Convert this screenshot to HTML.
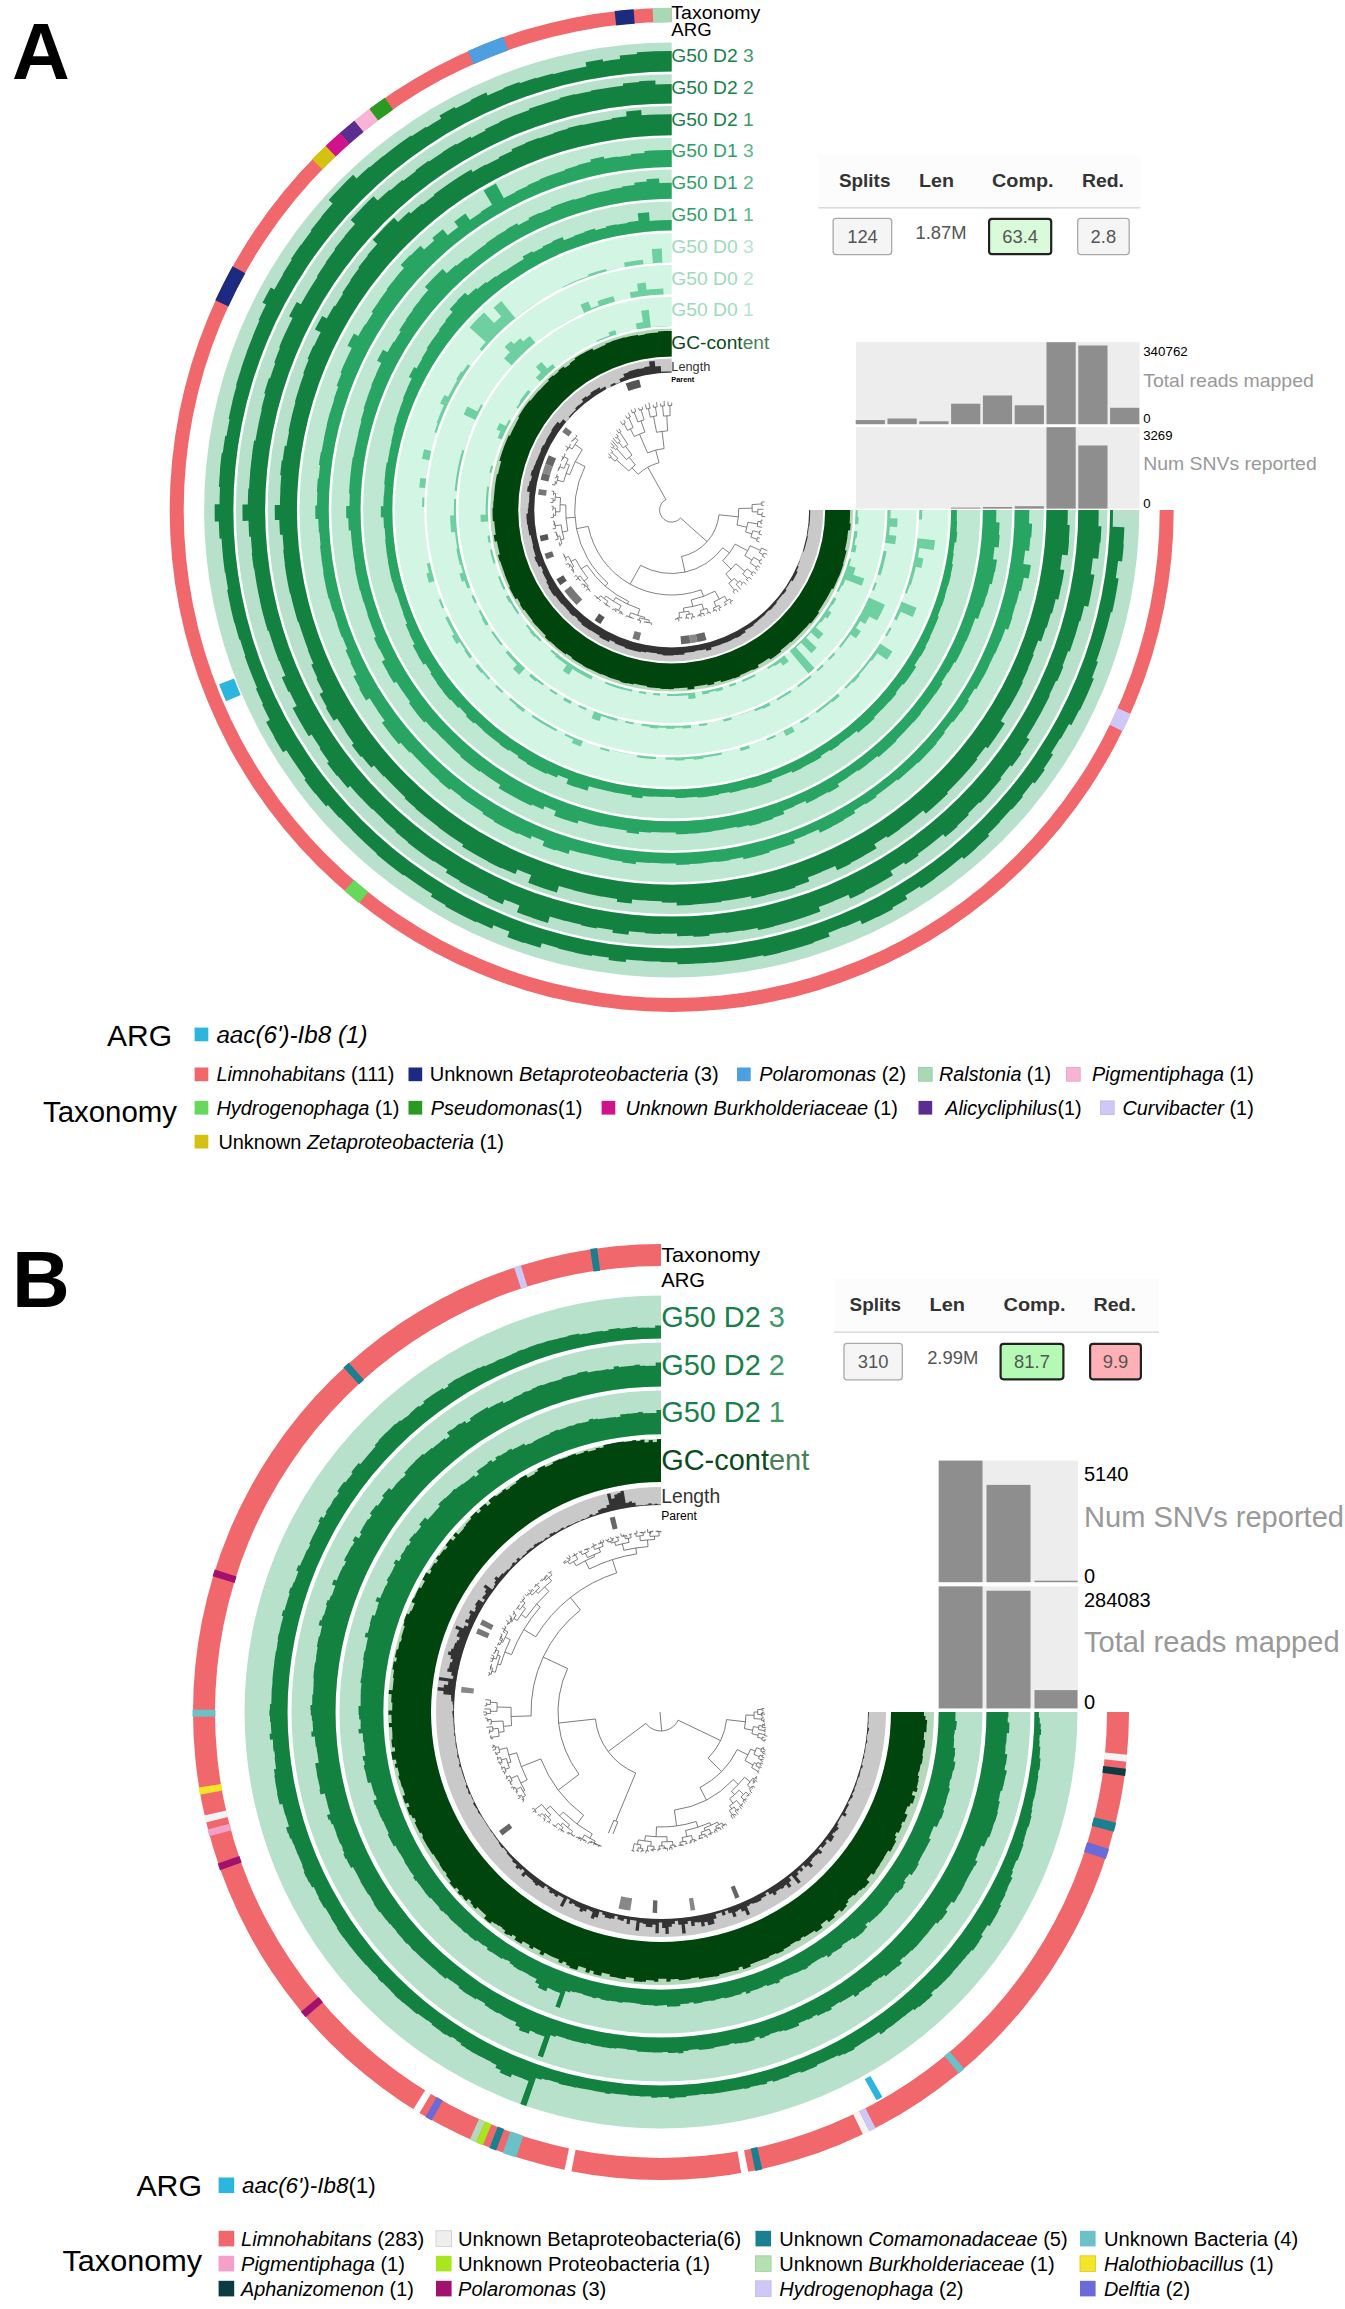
<!DOCTYPE html>
<html><head><meta charset="utf-8"><title>Figure</title>
<style>
html,body{margin:0;padding:0;background:#fff;}
svg{display:block;font-family:"Liberation Sans",sans-serif;}
</style></head><body>
<svg width="1345" height="2309" viewBox="0 0 1345 2309">
<rect width="1345" height="2309" fill="#fff"/>
<path d="M671.7,8.0A502.0,502.0 0 1 0 1173.7,510.0L1159.7,510.0A488.0,488.0 0 1 1 671.7,22.0Z" fill="#f0676c"/>
<path d="M671.7,7.7A502.3,502.3 0 0 0 652.6,8.1L653.2,22.7A487.7,487.7 0 0 1 671.7,22.3Z" fill="#a9d9b4"/>
<path d="M633.6,9.2A502.3,502.3 0 0 0 614.6,11.0L616.2,25.5A487.7,487.7 0 0 1 634.7,23.7Z" fill="#1c2a80"/>
<path d="M503.2,36.8A502.3,502.3 0 0 0 467.8,51.0L473.7,64.3A487.7,487.7 0 0 1 508.1,50.5Z" fill="#4d9fe0"/>
<path d="M384.8,97.7A502.3,502.3 0 0 0 369.3,108.9L378.1,120.6A487.7,487.7 0 0 1 393.1,109.7Z" fill="#2a9a23"/>
<path d="M369.3,108.9A502.3,502.3 0 0 0 354.3,120.7L363.5,132.0A487.7,487.7 0 0 1 378.1,120.6Z" fill="#f9b4d5"/>
<path d="M354.3,120.7A502.3,502.3 0 0 0 339.7,133.1L349.4,144.0A487.7,487.7 0 0 1 363.5,132.0Z" fill="#5c2d91"/>
<path d="M339.7,133.1A502.3,502.3 0 0 0 325.6,145.9L335.7,156.5A487.7,487.7 0 0 1 349.4,144.0Z" fill="#d1128d"/>
<path d="M325.6,145.9A502.3,502.3 0 0 0 312.0,159.3L322.5,169.5A487.7,487.7 0 0 1 335.7,156.5Z" fill="#d4c111"/>
<path d="M232.5,266.2A502.3,502.3 0 0 0 215.3,300.3L228.5,306.4A487.7,487.7 0 0 1 245.3,273.3Z" fill="#1c2a80"/>
<path d="M344.5,891.1A502.3,502.3 0 0 0 359.2,903.3L368.3,891.8A487.7,487.7 0 0 1 354.0,880.0Z" fill="#66d95c"/>
<path d="M1122.7,731.2A502.3,502.3 0 0 0 1130.7,713.9L1117.4,708.0A487.7,487.7 0 0 1 1109.6,724.8Z" fill="#cfc8f7"/>
<path d="M219.1,684.2A485.0,485.0 0 0 0 226.0,701.3L240.7,695.0A469.0,469.0 0 0 1 234.0,678.4Z" fill="#2cb5dd"/>
<path d="M671.7,42.4A467.6,467.6 0 1 0 1139.3,510.0L1110.1,510.0A438.4,438.4 0 1 1 671.7,71.6Z" fill="#b8e1cc"/>
<path d="M671.7,71.6L671.7,50.9A459.1,459.1 0 0 0 654.3,51.2L654.3,51.2A459.1,459.1 0 0 0 636.8,52.2L637.0,53.9A457.4,457.4 0 0 0 619.7,55.6L620.1,59.1A453.9,453.9 0 0 0 603.0,61.4L602.7,59.3A455.9,455.9 0 0 0 585.6,62.3L586.4,66.6A451.5,451.5 0 0 0 569.6,70.1L569.6,70.1A451.5,451.5 0 0 0 553.0,74.3L552.8,73.5A452.4,452.4 0 0 0 536.3,78.3L536.1,77.8A453.0,453.0 0 0 0 519.8,83.2L519.4,82.1A454.2,454.2 0 0 0 503.2,88.2L503.4,88.8A453.6,453.6 0 0 0 487.6,95.5L486.3,92.5A456.8,456.8 0 0 0 470.5,99.9L470.9,100.7A455.9,455.9 0 0 0 455.5,108.6L454.7,107.1A457.7,457.7 0 0 0 439.5,115.6L441.2,118.4A454.4,454.4 0 0 0 426.5,127.4L426.0,126.7A455.4,455.4 0 0 0 411.6,136.3L410.9,135.4A456.5,456.5 0 0 0 396.9,145.5L397.0,145.6A456.4,456.4 0 0 0 383.3,156.3L383.1,156.0A456.7,456.7 0 0 0 369.8,167.3L369.3,166.7A457.5,457.5 0 0 0 356.5,178.4L353.1,174.8A462.5,462.5 0 0 0 340.6,187.2L340.7,187.2A462.3,462.3 0 0 0 328.6,200.0L332.6,203.6A457.0,457.0 0 0 0 321.2,216.8L321.5,217.0A456.6,456.6 0 0 0 310.7,230.5L311.4,231.1A455.6,455.6 0 0 0 301.1,245.0L300.8,244.8A456.0,456.0 0 0 0 291.0,259.1L291.8,259.7A454.9,454.9 0 0 0 282.6,274.3L283.0,274.5A454.4,454.4 0 0 0 274.4,289.5L270.7,287.4A458.7,458.7 0 0 0 262.5,302.8L266.1,304.6A454.7,454.7 0 0 0 258.5,320.2L259.5,320.6A453.6,453.6 0 0 0 252.6,336.4L252.8,336.5A453.4,453.4 0 0 0 246.5,352.5L246.7,352.6A453.2,453.2 0 0 0 241.0,368.9L241.1,368.9A453.2,453.2 0 0 0 236.0,385.3L236.6,385.5A452.5,452.5 0 0 0 232.2,402.1L232.3,402.2A452.4,452.4 0 0 0 228.6,418.9L229.6,419.2A451.3,451.3 0 0 0 226.5,436.0L225.3,435.8A452.6,452.6 0 0 0 222.8,452.8L221.8,452.7A453.6,453.6 0 0 0 219.9,469.8L220.1,469.8A453.4,453.4 0 0 0 218.9,487.0L220.0,487.1A452.2,452.2 0 0 0 219.5,504.3L214.7,504.2A457.0,457.0 0 0 0 214.8,521.6L218.8,521.5A453.0,453.0 0 0 0 219.6,538.7L221.5,538.6A451.1,451.1 0 0 0 222.9,555.6L222.8,555.6A451.2,451.2 0 0 0 224.9,572.7L225.4,572.6A450.7,450.7 0 0 0 228.1,589.5L227.1,589.7A451.6,451.6 0 0 0 230.5,606.5L230.4,606.5A451.7,451.7 0 0 0 234.4,623.2L234.7,623.1A451.4,451.4 0 0 0 239.3,639.7L240.1,639.4A450.6,450.6 0 0 0 245.3,655.8L244.7,655.9A451.2,451.2 0 0 0 250.6,672.1L250.6,672.1A451.2,451.2 0 0 0 257.1,687.9L255.9,688.4A452.5,452.5 0 0 0 263.0,704.1L262.2,704.5A453.4,453.4 0 0 0 269.8,719.9L266.1,721.9A457.6,457.6 0 0 0 274.5,737.1L274.1,737.3A458.0,458.0 0 0 0 283.0,752.3L286.4,750.2A454.0,454.0 0 0 0 295.8,764.6L295.8,764.6A454.0,454.0 0 0 0 305.7,778.7L304.4,779.7A455.7,455.7 0 0 0 314.9,793.5L315.2,793.3A455.4,455.4 0 0 0 326.2,806.6L327.9,805.1A453.0,453.0 0 0 0 339.4,818.0L339.9,817.5A452.3,452.3 0 0 0 351.9,829.8L351.8,829.9A452.5,452.5 0 0 0 364.1,841.9L364.0,842.0A452.7,452.7 0 0 0 376.8,853.5L376.3,854.1A453.4,453.4 0 0 0 389.6,865.0L389.7,865.0A453.4,453.4 0 0 0 403.4,875.4L403.8,874.8A452.6,452.6 0 0 0 417.9,884.7L417.9,884.7A452.6,452.6 0 0 0 432.3,894.1L430.8,896.5A455.4,455.4 0 0 0 445.7,905.3L445.1,906.3A456.5,456.5 0 0 0 460.4,914.6L460.4,914.6A456.5,456.5 0 0 0 475.9,922.3L476.3,921.5A455.6,455.6 0 0 0 492.0,928.7L493.5,925.2A451.8,451.8 0 0 0 509.4,931.6L507.4,936.9A457.4,457.4 0 0 0 523.7,942.9L523.9,942.5A457.1,457.1 0 0 0 540.4,947.8L541.8,943.3A452.3,452.3 0 0 0 558.3,947.9L558.1,948.6A453.1,453.1 0 0 0 574.9,952.6L574.9,952.7A453.1,453.1 0 0 0 591.8,956.0L592.0,954.9A452.0,452.0 0 0 0 608.9,957.6L608.6,960.0A454.4,454.4 0 0 0 625.7,962.1L626.0,959.4A451.7,451.7 0 0 0 643.1,960.8L643.1,960.9A451.8,451.8 0 0 0 660.3,961.6L660.2,962.1A452.2,452.2 0 0 0 677.4,962.2L677.5,964.2A454.3,454.3 0 0 0 694.7,963.7L694.7,963.6A454.2,454.2 0 0 0 711.9,962.4L712.0,962.8A454.6,454.6 0 0 0 729.1,961.0L729.1,961.0A454.6,454.6 0 0 0 746.2,958.4L746.2,958.5A454.6,454.6 0 0 0 763.2,955.3L763.5,956.5A455.8,455.8 0 0 0 780.4,952.7L780.3,952.6A455.7,455.7 0 0 0 797.1,948.1L797.0,948.0A455.6,455.6 0 0 0 813.6,943.0L813.4,942.3A454.9,454.9 0 0 0 829.7,936.6L828.3,932.9A451.0,451.0 0 0 0 844.3,926.6L844.4,927.0A451.4,451.4 0 0 0 860.2,920.2L862.0,924.2A455.8,455.8 0 0 0 877.6,916.7L877.8,917.0A456.2,456.2 0 0 0 893.1,908.9L892.4,907.5A454.7,454.7 0 0 0 907.3,898.9L905.3,895.5A450.8,450.8 0 0 0 919.7,886.4L921.0,888.3A453.0,453.0 0 0 0 935.2,878.5L935.0,878.2A452.7,452.7 0 0 0 948.8,868.0L948.7,867.9A452.6,452.6 0 0 0 962.1,857.1L963.8,859.1A455.1,455.1 0 0 0 976.8,847.7L976.7,847.6A455.0,455.0 0 0 0 989.3,835.8L987.9,834.3A452.9,452.9 0 0 0 1000.0,822.0L999.7,821.8A452.6,452.6 0 0 0 1011.3,809.1L1011.8,809.6A453.2,453.2 0 0 0 1023.0,796.4L1022.2,795.8A452.3,452.3 0 0 0 1032.8,782.3L1034.6,783.6A454.5,454.5 0 0 0 1044.8,769.7L1043.6,768.8A453.1,453.1 0 0 0 1053.1,754.5L1051.0,753.2A450.6,450.6 0 0 0 1060.0,738.6L1060.6,738.9A451.2,451.2 0 0 0 1069.0,724.0L1071.3,725.2A453.9,453.9 0 0 0 1079.2,709.9L1079.9,710.2A454.6,454.6 0 0 0 1087.2,694.6L1087.2,694.6A454.6,454.6 0 0 0 1093.9,678.6L1091.9,677.9A452.5,452.5 0 0 0 1098.0,661.8L1096.3,661.2A450.7,450.7 0 0 0 1101.8,644.9L1101.8,645.0A450.8,450.8 0 0 0 1106.6,628.5L1106.7,628.5A450.9,450.9 0 0 0 1110.9,611.9L1112.2,612.2A452.2,452.2 0 0 0 1115.7,595.4L1115.7,595.4A452.1,452.1 0 0 0 1118.6,578.5L1115.8,578.0A449.3,449.3 0 0 0 1118.1,561.1L1122.1,561.6A453.4,453.4 0 0 0 1123.8,544.4L1123.4,544.4A453.0,453.0 0 0 0 1124.4,527.2L1112.7,526.8A441.3,441.3 0 0 0 1113.0,510.0L1110.1,510.0A438.4,438.4 0 1 1 671.7,71.6Z" fill="#138241"/>
<path d="M671.7,74.2A435.8,435.8 0 1 0 1107.5,510.0L1078.3,510.0A406.6,406.6 0 1 1 671.7,103.4Z" fill="#b8e1cc"/>
<path d="M671.7,103.4L671.7,84.1A425.9,425.9 0 0 0 655.5,84.4L655.4,80.4A430.0,430.0 0 0 0 639.1,81.3L639.1,81.9A429.4,429.4 0 0 0 622.9,83.4L623.1,85.7A427.0,427.0 0 0 0 607.0,87.9L607.0,87.9A427.0,427.0 0 0 0 591.0,90.6L591.2,91.2A426.5,426.5 0 0 0 575.3,94.6L575.2,94.0A427.0,427.0 0 0 0 559.4,98.0L559.7,99.1A425.9,425.9 0 0 0 544.2,103.7L544.2,103.7A425.9,425.9 0 0 0 528.9,108.8L529.3,109.9A424.7,424.7 0 0 0 514.2,115.6L514.2,115.6A424.7,424.7 0 0 0 499.3,121.9L499.5,122.4A424.1,424.1 0 0 0 484.9,129.2L485.6,130.5A422.7,422.7 0 0 0 471.3,137.9L470.6,136.6A424.1,424.1 0 0 0 456.5,144.5L456.1,143.8A425.0,425.0 0 0 0 442.3,152.2L442.5,152.4A424.7,424.7 0 0 0 429.1,161.4L428.6,160.7A425.6,425.6 0 0 0 415.5,170.2L416.0,170.9A424.7,424.7 0 0 0 403.3,180.8L402.5,179.9A425.9,425.9 0 0 0 390.2,190.4L389.6,189.7A426.8,426.8 0 0 0 377.6,200.6L373.5,196.3A432.8,432.8 0 0 0 361.8,207.9L361.9,208.0A432.6,432.6 0 0 0 350.7,220.0L355.1,223.9A426.7,426.7 0 0 0 344.4,236.2L344.7,236.4A426.4,426.4 0 0 0 334.5,249.0L335.2,249.5A425.5,425.5 0 0 0 325.6,262.5L326.0,262.8A425.0,425.0 0 0 0 316.9,276.2L317.6,276.7A424.0,424.0 0 0 0 309.0,290.3L309.0,290.3A424.1,424.1 0 0 0 300.9,304.2L296.8,301.9A428.8,428.8 0 0 0 289.1,316.3L292.6,318.1A424.9,424.9 0 0 0 285.6,332.6L285.5,332.6A425.0,425.0 0 0 0 279.1,347.4L280.0,347.8A423.9,423.9 0 0 0 274.2,362.8L275.3,363.2A422.7,422.7 0 0 0 270.0,378.4L269.0,378.0A423.8,423.8 0 0 0 264.2,393.4L265.4,393.8A422.6,422.6 0 0 0 261.3,409.3L261.8,409.4A422.0,422.0 0 0 0 258.3,425.0L258.4,425.1A422.0,422.0 0 0 0 255.4,440.8L254.1,440.6A423.3,423.3 0 0 0 251.8,456.5L251.9,456.5A423.2,423.2 0 0 0 250.1,472.5L250.2,472.5A423.2,423.2 0 0 0 249.1,488.6L248.3,488.5A424.0,424.0 0 0 0 247.8,504.6L242.5,504.6A429.2,429.2 0 0 0 242.6,520.9L248.5,520.7A423.3,423.3 0 0 0 249.2,536.8L250.9,536.7A421.7,421.7 0 0 0 252.2,552.7L251.7,552.7A422.1,422.1 0 0 0 253.7,568.6L254.2,568.6A421.6,421.6 0 0 0 256.7,584.4L256.7,584.4A421.6,421.6 0 0 0 259.8,600.1L259.7,600.1A421.8,421.8 0 0 0 263.4,615.7L263.5,615.7A421.7,421.7 0 0 0 267.8,631.1L268.7,630.8A420.7,420.7 0 0 0 273.6,646.1L273.5,646.1A420.8,420.8 0 0 0 278.9,661.1L279.4,661.0A420.4,420.4 0 0 0 285.4,675.8L281.8,677.3A424.3,424.3 0 0 0 288.4,692.0L289.5,691.5A423.1,423.1 0 0 0 296.7,705.9L292.6,708.1A427.8,427.8 0 0 0 300.3,722.3L300.4,722.3A427.7,427.7 0 0 0 308.7,736.3L311.6,734.5A424.4,424.4 0 0 0 320.4,748.0L319.6,748.5A425.2,425.2 0 0 0 328.9,761.7L327.0,763.1A427.6,427.6 0 0 0 336.9,776.0L337.4,775.6A427.0,427.0 0 0 0 347.7,788.1L350.1,786.1A423.9,423.9 0 0 0 360.8,798.1L361.1,797.9A423.5,423.5 0 0 0 372.2,809.5L372.6,809.1A423.0,423.0 0 0 0 384.2,820.2L384.0,820.4A423.2,423.2 0 0 0 396.0,831.1L395.5,831.7A424.0,424.0 0 0 0 408.0,842.0L407.6,842.4A424.6,424.6 0 0 0 420.4,852.2L420.4,852.3A424.7,424.7 0 0 0 433.5,861.6L433.9,861.0A423.9,423.9 0 0 0 447.5,869.8L445.8,872.5A427.1,427.1 0 0 0 459.7,880.8L459.3,881.4A427.9,427.9 0 0 0 473.6,889.2L473.6,889.3A428.0,428.0 0 0 0 488.1,896.6L487.7,897.5A429.0,429.0 0 0 0 502.5,904.2L504.6,899.4A423.7,423.7 0 0 0 519.5,905.5L516.9,912.2A430.9,430.9 0 0 0 532.3,917.8L532.3,917.9A431.1,431.1 0 0 0 547.9,922.9L549.8,916.5A424.4,424.4 0 0 0 565.3,920.9L565.3,920.8A424.4,424.4 0 0 0 581.0,924.6L580.9,925.2A425.0,425.0 0 0 0 596.7,928.4L596.9,927.5A424.2,424.2 0 0 0 612.8,930.1L612.4,932.8A427.0,427.0 0 0 0 628.5,934.8L628.9,931.2A423.4,423.4 0 0 0 644.9,932.5L644.9,933.2A424.0,424.0 0 0 0 661.0,933.9L661.0,933.5A423.7,423.7 0 0 0 677.1,933.6L677.1,936.3A426.4,426.4 0 0 0 693.3,935.8L693.3,936.8A427.3,427.3 0 0 0 709.5,935.7L709.4,934.0A425.7,425.7 0 0 0 725.5,932.3L725.6,932.9A426.3,426.3 0 0 0 741.6,930.6L741.7,931.1A426.9,426.9 0 0 0 757.6,928.1L758.0,930.0A428.7,428.7 0 0 0 773.9,926.4L773.9,926.2A428.6,428.6 0 0 0 789.6,922.1L789.6,921.9A428.4,428.4 0 0 0 805.1,917.1L805.1,917.0A428.3,428.3 0 0 0 820.4,911.6L818.8,907.1A423.4,423.4 0 0 0 833.7,901.2L833.7,901.1A423.3,423.3 0 0 0 848.4,894.7L850.3,898.8A427.9,427.9 0 0 0 865.0,891.7L864.7,891.1A427.1,427.1 0 0 0 879.0,883.5L879.0,883.4A427.1,427.1 0 0 0 893.0,875.3L890.4,871.0A422.1,422.1 0 0 0 904.0,862.5L905.3,864.5A424.6,424.6 0 0 0 918.6,855.4L917.7,854.1A423.0,423.0 0 0 0 930.6,844.5L930.6,844.4A422.9,422.9 0 0 0 943.1,834.3L945.3,837.0A426.4,426.4 0 0 0 957.6,826.4L957.1,825.9A425.7,425.7 0 0 0 968.9,814.8L967.9,813.8A424.3,424.3 0 0 0 979.2,802.3L980.1,803.1A425.5,425.5 0 0 0 991.0,791.2L990.9,791.1A425.4,425.4 0 0 0 1001.4,778.8L1000.3,777.9A424.0,424.0 0 0 0 1010.2,765.3L1011.9,766.5A426.0,426.0 0 0 0 1021.4,753.4L1020.5,752.8A425.0,425.0 0 0 0 1029.5,739.3L1026.5,737.4A421.4,421.4 0 0 0 1034.9,723.8L1034.8,723.8A421.4,421.4 0 0 0 1042.7,709.8L1042.6,709.7A421.2,421.2 0 0 0 1049.9,695.5L1049.2,695.2A420.5,420.5 0 0 0 1056.0,680.7L1057.2,681.2A421.8,421.8 0 0 0 1063.4,666.5L1062.5,666.1A420.8,420.8 0 0 0 1068.1,651.1L1069.7,651.7A422.5,422.5 0 0 0 1074.8,636.5L1074.9,636.5A422.6,422.6 0 0 0 1079.4,621.1L1080.3,621.3A423.5,423.5 0 0 0 1084.3,605.7L1088.3,606.7A427.6,427.6 0 0 0 1091.6,590.8L1091.6,590.8A427.6,427.6 0 0 0 1094.4,574.8L1090.7,574.2A423.9,423.9 0 0 0 1092.9,558.2L1098.2,558.8A429.3,429.3 0 0 0 1099.8,542.6L1100.5,542.7A430.0,430.0 0 0 0 1101.4,526.3L1098.4,526.2A427.0,427.0 0 0 0 1098.7,510.0L1078.3,510.0A406.6,406.6 0 1 1 671.7,103.4Z" fill="#138241"/>
<path d="M671.7,106.0A404.0,404.0 0 1 0 1075.7,510.0L1046.5,510.0A374.8,374.8 0 1 1 671.7,135.2Z" fill="#b8e1cc"/>
<path d="M671.7,135.2L671.7,114.2A395.8,395.8 0 0 0 656.7,114.5L656.7,114.5A395.8,395.8 0 0 0 641.6,115.3L641.2,110.1A401.1,401.1 0 0 0 626.1,111.5L626.6,116.2A396.4,396.4 0 0 0 611.7,118.2L611.8,119.3A395.2,395.2 0 0 0 597.0,121.9L597.0,121.9A395.2,395.2 0 0 0 582.4,125.0L582.2,124.4A395.8,395.8 0 0 0 567.6,128.1L567.8,128.7A395.2,395.2 0 0 0 553.4,132.9L553.6,133.4A394.7,394.7 0 0 0 539.3,138.2L539.1,137.7A395.2,395.2 0 0 0 525.1,143.0L525.3,143.5A394.7,394.7 0 0 0 511.5,149.3L512.2,150.9A392.9,392.9 0 0 0 498.7,157.2L499.2,158.3A391.7,391.7 0 0 0 485.9,165.1L485.7,164.6A392.3,392.3 0 0 0 472.7,171.9L471.2,169.4A395.3,395.3 0 0 0 458.4,177.2L458.5,177.3A395.1,395.1 0 0 0 446.0,185.7L446.0,185.8A395.0,395.0 0 0 0 433.9,194.6L434.4,195.3A394.1,394.1 0 0 0 422.6,204.6L422.0,203.8A395.1,395.1 0 0 0 410.6,213.5L409.1,211.8A397.3,397.3 0 0 0 398.0,222.0L394.0,217.8A403.1,403.1 0 0 0 383.1,228.6L383.1,228.7A403.0,403.0 0 0 0 372.7,239.8L377.2,243.9A397.0,397.0 0 0 0 367.3,255.3L367.8,255.7A396.3,396.3 0 0 0 358.3,267.4L359.2,268.1A395.2,395.2 0 0 0 350.2,280.2L350.7,280.5A394.6,394.6 0 0 0 342.2,292.9L343.2,293.5A393.4,393.4 0 0 0 335.2,306.2L334.3,305.6A394.4,394.4 0 0 0 326.8,318.6L322.2,316.0A399.8,399.8 0 0 0 315.0,329.4L320.7,332.3A393.5,393.5 0 0 0 314.2,345.7L313.5,345.4A394.2,394.2 0 0 0 307.5,359.1L308.7,359.6A392.9,392.9 0 0 0 303.2,373.5L304.0,373.8A392.1,392.1 0 0 0 299.1,387.9L299.2,387.9A392.0,392.0 0 0 0 294.8,402.2L295.5,402.3A391.3,391.3 0 0 0 291.6,416.7L291.7,416.7A391.2,391.2 0 0 0 288.5,431.2L289.1,431.4A390.6,390.6 0 0 0 286.4,446.0L284.8,445.7A392.2,392.2 0 0 0 282.7,460.5L281.8,460.3A393.1,393.1 0 0 0 280.2,475.2L281.3,475.3A391.9,391.9 0 0 0 280.3,490.1L280.4,490.2A391.8,391.8 0 0 0 279.9,505.0L274.8,505.0A396.9,396.9 0 0 0 274.9,520.1L279.3,519.9A392.5,392.5 0 0 0 280.0,534.8L282.6,534.7A389.9,389.9 0 0 0 283.8,549.4L283.2,549.5A390.5,390.5 0 0 0 284.9,564.2L284.7,564.3A390.8,390.8 0 0 0 287.0,578.9L287.0,578.9A390.8,390.8 0 0 0 289.9,593.5L290.4,593.4A390.3,390.3 0 0 0 293.9,607.8L293.9,607.8A390.3,390.3 0 0 0 297.9,622.1L298.6,621.9A389.5,389.5 0 0 0 303.2,636.0L303.2,636.0A389.5,389.5 0 0 0 308.2,649.9L307.8,650.0A389.9,389.9 0 0 0 313.4,663.8L311.3,664.7A392.2,392.2 0 0 0 317.4,678.2L316.5,678.7A393.2,393.2 0 0 0 323.2,692.0L319.6,693.9A397.2,397.2 0 0 0 326.9,707.2L325.9,707.7A398.3,398.3 0 0 0 333.7,720.7L337.2,718.5A394.2,394.2 0 0 0 345.4,731.1L345.1,731.3A394.5,394.5 0 0 0 353.7,743.5L351.7,745.0A397.0,397.0 0 0 0 360.8,757.0L361.8,756.2A395.8,395.8 0 0 0 371.4,767.8L373.9,765.6A392.5,392.5 0 0 0 383.8,776.8L384.4,776.3A391.7,391.7 0 0 0 394.7,787.0L394.7,787.0A391.8,391.8 0 0 0 405.4,797.4L404.6,798.2A393.0,393.0 0 0 0 415.7,808.2L415.4,808.6A393.5,393.5 0 0 0 426.9,818.1L426.9,818.1A393.5,393.5 0 0 0 438.8,827.2L438.5,827.6A394.0,394.0 0 0 0 450.7,836.2L450.7,836.2A394.0,394.0 0 0 0 463.3,844.4L462.0,846.4A396.4,396.4 0 0 0 474.9,854.2L474.9,854.2A396.5,396.5 0 0 0 488.1,861.4L488.0,861.7A396.8,396.8 0 0 0 501.5,868.5L501.7,867.9A396.2,396.2 0 0 0 515.4,874.1L517.4,869.5A391.2,391.2 0 0 0 531.2,875.1L528.2,882.8A399.4,399.4 0 0 0 542.5,888.0L542.5,888.0A399.5,399.5 0 0 0 556.9,892.6L558.9,886.1A392.6,392.6 0 0 0 573.3,890.1L573.2,890.3A392.8,392.8 0 0 0 587.8,893.7L587.8,893.8A392.8,392.8 0 0 0 602.4,896.7L602.4,896.6A392.7,392.7 0 0 0 617.2,898.9L616.8,901.8A395.6,395.6 0 0 0 631.7,903.6L632.1,899.4A391.4,391.4 0 0 0 646.9,900.6L646.9,900.7A391.5,391.5 0 0 0 661.8,901.3L661.8,902.5A392.6,392.6 0 0 0 676.7,902.6L676.7,905.6A395.6,395.6 0 0 0 691.7,905.1L691.7,904.7A395.2,395.2 0 0 0 706.7,903.6L706.7,903.5A395.1,395.1 0 0 0 721.6,901.9L721.5,901.1A394.3,394.3 0 0 0 736.3,898.9L736.4,899.1A394.4,394.4 0 0 0 751.1,896.3L751.5,898.5A396.6,396.6 0 0 0 766.2,895.2L766.2,895.1A396.5,396.5 0 0 0 780.8,891.2L780.9,891.8A397.1,397.1 0 0 0 795.4,887.4L795.1,886.5A396.2,396.2 0 0 0 809.3,881.5L807.8,877.4A391.7,391.7 0 0 0 821.6,871.9L821.6,871.8A391.7,391.7 0 0 0 835.2,865.9L837.2,870.2A396.4,396.4 0 0 0 850.8,863.7L850.4,863.0A395.7,395.7 0 0 0 863.7,855.9L863.7,855.8A395.6,395.6 0 0 0 876.7,848.3L874.2,844.2A390.8,390.8 0 0 0 886.7,836.3L887.7,837.7A392.5,392.5 0 0 0 900.0,829.3L899.7,828.9A392.0,392.0 0 0 0 911.7,820.0L911.6,819.9A391.9,391.9 0 0 0 923.2,810.6L925.8,813.7A395.9,395.9 0 0 0 937.1,803.8L937.1,803.7A395.9,395.9 0 0 0 948.0,793.4L947.1,792.5A394.5,394.5 0 0 0 957.6,781.8L957.6,781.8A394.4,394.4 0 0 0 967.7,770.7L967.7,770.7A394.4,394.4 0 0 0 977.4,759.3L976.4,758.5A393.2,393.2 0 0 0 985.6,746.7L987.7,748.2A395.7,395.7 0 0 0 996.5,736.1L996.4,736.0A395.7,395.7 0 0 0 1004.8,723.5L1000.8,720.9A390.9,390.9 0 0 0 1008.5,708.3L1008.8,708.4A391.1,391.1 0 0 0 1016.0,695.5L1016.1,695.5A391.2,391.2 0 0 0 1022.9,682.3L1022.1,681.9A390.2,390.2 0 0 0 1028.3,668.4L1028.0,668.3A389.9,389.9 0 0 0 1033.8,654.6L1032.9,654.3A389.0,389.0 0 0 0 1038.2,640.5L1041.1,641.5A392.1,392.1 0 0 0 1045.8,627.4L1046.7,627.7A393.1,393.1 0 0 0 1050.9,613.3L1052.0,613.6A394.2,394.2 0 0 0 1055.7,599.1L1058.3,599.7A396.9,396.9 0 0 0 1061.4,585.0L1061.7,585.0A397.1,397.1 0 0 0 1064.3,570.1L1060.1,569.5A392.9,392.9 0 0 0 1062.1,554.7L1067.7,555.3A398.6,398.6 0 0 0 1069.1,540.3L1068.8,540.2A398.3,398.3 0 0 0 1069.7,525.1L1067.5,525.1A396.1,396.1 0 0 0 1067.8,510.0L1046.5,510.0A374.8,374.8 0 1 1 671.7,135.2Z" fill="#138241"/>
<path d="M671.7,137.8A372.2,372.2 0 1 0 1043.9,510.0L1014.7,510.0A343.0,343.0 0 1 1 671.7,167.0Z" fill="#bfe8d3"/>
<path d="M671.7,167.0L671.7,150.1A359.9,359.9 0 0 0 658.0,150.3L658.0,150.3A359.9,359.9 0 0 0 644.4,151.1L644.5,152.9A358.2,358.2 0 0 0 631.0,154.1L631.1,155.3A357.0,357.0 0 0 0 617.6,157.1L617.5,156.5A357.6,357.6 0 0 0 604.2,158.8L603.7,156.5A359.9,359.9 0 0 0 590.3,159.4L590.9,161.7A357.6,357.6 0 0 0 577.7,165.0L577.8,165.5A357.0,357.0 0 0 0 564.8,169.4L565.1,170.2A356.1,356.1 0 0 0 552.3,174.5L552.3,174.5A356.1,356.1 0 0 0 539.6,179.3L539.9,180.1A355.3,355.3 0 0 0 527.5,185.3L527.7,185.9A354.7,354.7 0 0 0 515.5,191.6L515.8,192.1A354.1,354.1 0 0 0 503.8,198.2L495.9,183.6A370.7,370.7 0 0 0 483.6,190.5L492.1,204.8A354.1,354.1 0 0 0 480.6,211.9L481.1,212.6A353.2,353.2 0 0 0 469.9,220.1L465.4,213.6A361.1,361.1 0 0 0 454.3,221.7L458.3,227.0A354.5,354.5 0 0 0 447.7,235.3L442.8,229.2A362.3,362.3 0 0 0 432.3,238.1L434.2,240.4A359.3,359.3 0 0 0 424.1,249.6L420.5,245.7A364.7,364.7 0 0 0 410.6,255.4L410.2,255.0A365.2,365.2 0 0 0 400.7,265.1L404.0,268.1A360.8,360.8 0 0 0 395.0,278.5L395.2,278.6A360.6,360.6 0 0 0 386.6,289.3L387.2,289.8A359.8,359.8 0 0 0 379.1,300.8L379.2,300.9A359.6,359.6 0 0 0 371.5,312.1L373.0,313.1A357.7,357.7 0 0 0 365.7,324.6L365.1,324.2A358.5,358.5 0 0 0 358.2,336.0L353.9,333.6A363.4,363.4 0 0 0 347.5,345.8L351.8,348.0A358.5,358.5 0 0 0 345.9,360.3L345.9,360.3A358.5,358.5 0 0 0 340.5,372.8L341.6,373.3A357.3,357.3 0 0 0 336.6,385.9L338.3,386.5A355.6,355.6 0 0 0 333.8,399.3L334.2,399.4A355.2,355.2 0 0 0 330.2,412.3L330.0,412.2A355.4,355.4 0 0 0 326.6,425.3L326.8,425.4A355.1,355.1 0 0 0 323.9,438.5L324.1,438.6A354.9,354.9 0 0 0 321.6,451.8L320.9,451.7A355.6,355.6 0 0 0 318.9,465.1L320.1,465.2A354.4,354.4 0 0 0 318.7,478.6L317.8,478.5A355.3,355.3 0 0 0 316.9,492.0L317.4,492.0A354.7,354.7 0 0 0 317.0,505.5L315.3,505.5A356.5,356.5 0 0 0 315.4,519.0L318.3,519.0A353.5,353.5 0 0 0 318.9,532.4L319.5,532.3A352.9,352.9 0 0 0 320.6,545.7L320.0,545.8A353.5,353.5 0 0 0 321.6,559.1L321.5,559.1A353.7,353.7 0 0 0 323.6,572.4L323.1,572.5A354.2,354.2 0 0 0 325.7,585.7L325.6,585.7A354.3,354.3 0 0 0 328.7,598.8L329.2,598.7A353.8,353.8 0 0 0 332.8,611.6L333.4,611.5A353.2,353.2 0 0 0 337.5,624.2L337.2,624.3A353.5,353.5 0 0 0 341.7,637.0L342.3,636.8A352.9,352.9 0 0 0 347.4,649.2L345.5,650.0A354.9,354.9 0 0 0 351.1,662.3L350.4,662.6A355.7,355.7 0 0 0 356.4,674.7L353.4,676.3A359.1,359.1 0 0 0 359.9,688.3L359.1,688.7A360.1,360.1 0 0 0 366.1,700.5L369.6,698.3A355.9,355.9 0 0 0 377.0,709.6L376.9,709.7A356.1,356.1 0 0 0 384.7,720.7L381.9,722.8A359.5,359.5 0 0 0 390.2,733.7L390.1,733.7A359.7,359.7 0 0 0 398.8,744.3L400.7,742.7A357.2,357.2 0 0 0 409.7,752.8L410.6,751.9A355.9,355.9 0 0 0 420.0,761.7L419.9,761.8A356.1,356.1 0 0 0 429.7,771.2L429.3,771.5A356.6,356.6 0 0 0 439.4,780.5L439.0,781.0A357.2,357.2 0 0 0 449.5,789.7L450.4,788.6A355.8,355.8 0 0 0 461.1,796.8L460.8,797.3A356.4,356.4 0 0 0 471.8,805.1L471.9,805.0A356.3,356.3 0 0 0 483.2,812.4L482.4,813.7A357.9,357.9 0 0 0 494.1,820.7L493.6,821.5A358.8,358.8 0 0 0 505.6,828.0L505.6,828.0A358.7,358.7 0 0 0 517.8,834.0L518.2,833.3A357.9,357.9 0 0 0 530.6,838.9L531.7,836.1A354.9,354.9 0 0 0 544.2,841.2L542.5,845.8A359.8,359.8 0 0 0 555.3,850.5L555.6,849.8A359.1,359.1 0 0 0 568.6,853.9L569.8,849.9A354.8,354.8 0 0 0 582.8,853.5L582.8,853.2A354.5,354.5 0 0 0 595.9,856.3L596.0,856.2A354.4,354.4 0 0 0 609.2,858.9L609.1,859.5A355.1,355.1 0 0 0 622.4,861.6L622.2,862.6A356.0,356.0 0 0 0 635.7,864.2L635.9,861.9A353.7,353.7 0 0 0 649.3,863.0L649.3,862.8A353.5,353.5 0 0 0 662.7,863.4L662.7,863.4A353.5,353.5 0 0 0 676.2,863.5L676.2,865.0A355.0,355.0 0 0 0 689.7,864.6L689.7,864.1A354.6,354.6 0 0 0 703.1,863.2L703.1,863.0A354.4,354.4 0 0 0 716.5,861.6L716.5,862.1A355.0,355.0 0 0 0 729.9,860.2L729.8,859.8A354.6,354.6 0 0 0 743.1,857.3L743.5,859.3A356.6,356.6 0 0 0 756.7,856.3L756.6,856.0A356.3,356.3 0 0 0 769.7,852.6L769.3,851.2A354.9,354.9 0 0 0 782.2,847.2L782.3,847.3A355.0,355.0 0 0 0 795.0,842.9L793.8,839.8A351.7,351.7 0 0 0 806.3,834.9L806.2,834.7A351.5,351.5 0 0 0 818.4,829.4L820.0,832.7A355.1,355.1 0 0 0 832.1,826.8L832.0,826.6A354.8,354.8 0 0 0 843.9,820.2L843.6,819.8A354.3,354.3 0 0 0 855.3,813.0L853.9,810.8A351.7,351.7 0 0 0 865.2,803.6L865.6,804.3A352.4,352.4 0 0 0 876.7,796.7L876.0,795.8A351.3,351.3 0 0 0 886.7,787.8L886.7,787.8A351.3,351.3 0 0 0 897.1,779.4L897.9,780.4A352.5,352.5 0 0 0 908.0,771.6L908.0,771.6A352.5,352.5 0 0 0 917.8,762.4L918.3,762.9A353.2,353.2 0 0 0 927.7,753.3L927.7,753.3A353.2,353.2 0 0 0 936.7,743.4L936.3,743.0A352.5,352.5 0 0 0 944.9,732.8L944.1,732.1A351.4,351.4 0 0 0 952.3,721.6L953.1,722.2A352.5,352.5 0 0 0 961.0,711.4L961.5,711.7A353.0,353.0 0 0 0 968.9,700.5L967.8,699.8A351.7,351.7 0 0 0 974.8,688.4L976.3,689.3A353.5,353.5 0 0 0 982.9,677.6L983.0,677.7A353.6,353.6 0 0 0 989.1,665.7L988.9,665.6A353.3,353.3 0 0 0 994.6,653.4L995.1,653.7A353.9,353.9 0 0 0 1000.4,641.3L1000.7,641.4A354.3,354.3 0 0 0 1005.4,628.8L1008.1,629.8A357.0,357.0 0 0 0 1012.4,616.9L1012.0,616.8A356.6,356.6 0 0 0 1015.8,603.8L1016.1,603.9A357.0,357.0 0 0 0 1019.5,590.7L1021.0,591.1A358.6,358.6 0 0 0 1023.8,577.7L1028.6,578.6A363.4,363.4 0 0 0 1030.9,565.0L1023.3,563.9A355.7,355.7 0 0 0 1025.1,550.5L1029.1,550.9A359.7,359.7 0 0 0 1030.4,537.3L1031.3,537.4A360.6,360.6 0 0 0 1032.1,523.7L1029.0,523.6A357.6,357.6 0 0 0 1029.3,510.0L1014.7,510.0A343.0,343.0 0 1 1 671.7,167.0Z" fill="#28a562"/>
<path d="M671.7,169.6A340.4,340.4 0 1 0 1012.1,510.0L982.9,510.0A311.2,311.2 0 1 1 671.7,198.8Z" fill="#bfe8d3"/>
<path d="M671.7,198.8L671.7,182.7A327.3,327.3 0 0 0 659.3,183.0L659.1,178.6A331.6,331.6 0 0 0 646.5,179.3L646.7,181.6A329.3,329.3 0 0 0 634.2,182.8L634.5,184.9A327.3,327.3 0 0 0 622.1,186.5L622.3,187.4A326.4,326.4 0 0 0 610.1,189.5L610.2,190.1A325.8,325.8 0 0 0 598.1,192.6L598.1,192.6A325.8,325.8 0 0 0 586.0,195.7L586.2,196.2A325.2,325.2 0 0 0 574.3,199.7L574.2,199.1A325.8,325.8 0 0 0 562.4,203.1L562.4,203.1A325.8,325.8 0 0 0 550.8,207.4L551.3,208.5A324.6,324.6 0 0 0 539.9,213.3L539.7,212.8A325.2,325.2 0 0 0 528.5,218.0L529.2,219.6A323.5,323.5 0 0 0 518.3,225.2L517.2,223.2A325.8,325.8 0 0 0 506.4,229.2L506.7,229.7A325.3,325.3 0 0 0 496.1,236.1L496.3,236.3A325.1,325.1 0 0 0 486.0,243.2L486.4,243.7A324.4,324.4 0 0 0 476.4,251.0L476.5,251.1A324.2,324.2 0 0 0 466.8,258.7L466.1,257.8A325.4,325.4 0 0 0 456.6,265.8L455.9,265.0A326.5,326.5 0 0 0 446.7,273.3L442.6,269.0A332.6,332.6 0 0 0 433.6,277.8L433.6,277.8A332.6,332.6 0 0 0 424.9,287.1L428.3,290.1A328.0,328.0 0 0 0 420.1,299.5L420.4,299.7A327.7,327.7 0 0 0 412.5,309.4L413.1,309.8A327.0,327.0 0 0 0 405.7,319.8L406.2,320.1A326.4,326.4 0 0 0 399.1,330.4L400.8,331.5A324.4,324.4 0 0 0 394.3,341.9L393.7,341.6A325.1,325.1 0 0 0 387.5,352.2L383.0,349.8A330.2,330.2 0 0 0 377.1,360.8L381.3,363.0A325.5,325.5 0 0 0 376.0,374.1L376.2,374.2A325.2,325.2 0 0 0 371.2,385.5L371.8,385.8A324.6,324.6 0 0 0 367.3,397.3L367.5,397.3A324.4,324.4 0 0 0 363.5,409.0L364.3,409.3A323.4,323.4 0 0 0 360.7,421.0L361.4,421.2A322.8,322.8 0 0 0 358.2,433.1L358.5,433.1A322.5,322.5 0 0 0 355.8,445.1L355.7,445.1A322.6,322.6 0 0 0 353.4,457.1L352.8,457.0A323.2,323.2 0 0 0 351.1,469.2L351.1,469.2A323.2,323.2 0 0 0 349.8,481.4L349.9,481.4A323.1,323.1 0 0 0 349.0,493.6L349.8,493.7A322.3,322.3 0 0 0 349.5,505.9L346.2,505.9A325.5,325.5 0 0 0 346.3,518.2L348.3,518.2A323.5,323.5 0 0 0 348.8,530.5L350.8,530.4A321.5,321.5 0 0 0 351.8,542.5L351.8,542.5A321.5,321.5 0 0 0 353.3,554.7L353.2,554.7A321.6,321.6 0 0 0 355.2,566.7L354.7,566.8A322.0,322.0 0 0 0 357.1,578.8L357.1,578.8A322.1,322.1 0 0 0 359.9,590.7L360.3,590.6A321.7,321.7 0 0 0 363.6,602.4L363.9,602.3A321.3,321.3 0 0 0 367.6,613.9L367.2,614.1A321.8,321.8 0 0 0 371.4,625.6L371.3,625.6A321.9,321.9 0 0 0 375.9,637.0L373.9,637.8A324.1,324.1 0 0 0 379.0,649.0L379.5,648.8A323.5,323.5 0 0 0 385.0,659.8L381.8,661.4A327.0,327.0 0 0 0 387.8,672.3L387.6,672.5A327.3,327.3 0 0 0 393.9,683.1L396.3,681.7A324.5,324.5 0 0 0 403.0,692.0L403.1,691.9A324.4,324.4 0 0 0 410.3,702.0L408.9,703.0A326.1,326.1 0 0 0 416.4,712.9L416.3,712.9A326.2,326.2 0 0 0 424.2,722.4L425.7,721.2A324.2,324.2 0 0 0 433.9,730.4L434.3,730.0A323.7,323.7 0 0 0 442.8,738.9L442.9,738.8A323.6,323.6 0 0 0 451.7,747.4L451.5,747.6A323.9,323.9 0 0 0 460.7,755.8L460.1,756.4A324.8,324.8 0 0 0 469.7,764.3L469.7,764.3A324.8,324.8 0 0 0 479.5,771.8L480.0,771.1A323.9,323.9 0 0 0 490.0,778.2L490.0,778.2A323.9,323.9 0 0 0 500.4,784.9L498.5,787.9A327.5,327.5 0 0 0 509.1,794.3L509.2,794.2A327.4,327.4 0 0 0 520.1,800.2L520.1,800.2A327.4,327.4 0 0 0 531.3,805.7L531.9,804.5A326.0,326.0 0 0 0 543.2,809.6L544.5,806.3A322.4,322.4 0 0 0 555.9,810.9L554.1,815.7A327.5,327.5 0 0 0 565.8,819.9L565.8,819.8A327.4,327.4 0 0 0 577.6,823.6L578.5,820.6A324.3,324.3 0 0 0 590.4,823.9L590.4,823.9A324.3,324.3 0 0 0 602.4,826.8L602.5,826.2A323.7,323.7 0 0 0 614.6,828.6L614.6,828.5A323.6,323.6 0 0 0 626.8,830.5L626.5,832.4A325.6,325.6 0 0 0 638.8,833.9L639.0,831.7A323.4,323.4 0 0 0 651.2,832.7L651.3,831.9A322.5,322.5 0 0 0 663.5,832.4L663.5,832.4A322.5,322.5 0 0 0 675.8,832.5L675.8,834.3A324.4,324.4 0 0 0 688.1,834.0L688.1,833.7A324.1,324.1 0 0 0 700.4,832.9L700.4,832.8A324.1,324.1 0 0 0 712.6,831.5L712.6,831.1A323.6,323.6 0 0 0 724.8,829.3L724.7,829.0A323.4,323.4 0 0 0 736.8,826.8L737.0,827.7A324.4,324.4 0 0 0 749.0,825.0L749.3,826.1A325.5,325.5 0 0 0 761.2,822.9L761.2,822.6A325.2,325.2 0 0 0 773.0,819.0L772.7,818.1A324.2,324.2 0 0 0 784.3,814.0L783.2,810.9A320.9,320.9 0 0 0 794.5,806.5L794.3,806.0A320.4,320.4 0 0 0 805.5,801.1L806.5,803.5A323.0,323.0 0 0 0 817.6,798.1L817.4,797.7A322.5,322.5 0 0 0 828.2,792.0L828.7,792.8A323.4,323.4 0 0 0 839.3,786.6L837.7,783.9A320.3,320.3 0 0 0 847.9,777.4L847.8,777.2A320.0,320.0 0 0 0 857.8,770.3L858.4,771.1A320.9,320.9 0 0 0 868.1,763.8L868.0,763.6A320.6,320.6 0 0 0 877.5,755.9L878.5,757.2A322.3,322.3 0 0 0 887.8,749.1L887.7,749.1A322.2,322.2 0 0 0 896.6,740.7L896.1,740.2A321.5,321.5 0 0 0 904.7,731.5L904.6,731.4A321.4,321.4 0 0 0 912.9,722.4L913.2,722.7A321.8,321.8 0 0 0 921.1,713.4L920.7,713.0A321.2,321.2 0 0 0 928.2,703.4L928.3,703.5A321.4,321.4 0 0 0 935.5,693.6L935.7,693.7A321.6,321.6 0 0 0 942.5,683.6L941.3,682.8A320.2,320.2 0 0 0 947.7,672.4L948.3,672.8A321.0,321.0 0 0 0 954.3,662.2L955.4,662.8A322.2,322.2 0 0 0 961.0,651.9L961.0,651.9A322.2,322.2 0 0 0 966.1,640.8L966.4,640.9A322.5,322.5 0 0 0 971.2,629.6L971.0,629.5A322.2,322.2 0 0 0 975.3,618.1L978.0,619.0A325.1,325.1 0 0 0 981.9,607.3L982.8,607.6A326.1,326.1 0 0 0 986.3,595.7L986.8,595.9A326.6,326.6 0 0 0 989.9,583.8L991.8,584.3A328.6,328.6 0 0 0 994.4,572.1L994.9,572.2A329.1,329.1 0 0 0 997.0,559.8L993.0,559.2A325.0,325.0 0 0 0 994.6,547.0L998.6,547.4A329.0,329.0 0 0 0 999.7,535.0L998.9,534.9A328.2,328.2 0 0 0 999.6,522.5L996.1,522.3A324.6,324.6 0 0 0 996.3,510.0L982.9,510.0A311.2,311.2 0 1 1 671.7,198.8Z" fill="#28a562"/>
<path d="M671.7,201.4A308.6,308.6 0 1 0 980.3,510.0L951.1,510.0A279.4,279.4 0 1 1 671.7,230.6Z" fill="#bfe8d3"/>
<path d="M671.7,230.6L671.7,220.1A289.9,289.9 0 0 0 660.7,220.3L660.7,220.3A289.9,289.9 0 0 0 649.7,220.9L649.0,212.2A298.7,298.7 0 0 0 637.7,213.3L638.6,220.8A291.1,291.1 0 0 0 627.6,222.3L627.7,222.9A290.5,290.5 0 0 0 616.8,224.7L616.7,224.2A291.1,291.1 0 0 0 605.9,226.5L606.2,227.6A289.9,289.9 0 0 0 595.5,230.3L595.0,228.6A291.7,291.7 0 0 0 584.4,231.7L584.6,232.3A291.1,291.1 0 0 0 574.1,235.8L574.3,236.3A290.5,290.5 0 0 0 563.9,240.2L562.6,237.0A294.0,294.0 0 0 0 552.3,241.3L552.6,241.9A293.4,293.4 0 0 0 542.5,246.6L542.9,247.4A292.5,292.5 0 0 0 533.0,252.4L532.3,251.2A294.0,294.0 0 0 0 522.6,256.6L523.9,259.0A291.3,291.3 0 0 0 514.5,264.8L514.5,264.7A291.3,291.3 0 0 0 505.3,270.9L504.9,270.4A291.9,291.9 0 0 0 495.9,276.9L495.4,276.2A292.8,292.8 0 0 0 486.7,283.1L485.9,282.1A294.1,294.1 0 0 0 477.3,289.3L476.2,288.0A295.8,295.8 0 0 0 467.9,295.6L465.1,292.7A299.9,299.9 0 0 0 457.0,300.7L457.3,301.0A299.4,299.4 0 0 0 449.6,309.3L452.6,312.1A295.2,295.2 0 0 0 445.3,320.5L445.9,321.0A294.5,294.5 0 0 0 438.8,329.8L439.6,330.3A293.5,293.5 0 0 0 433.0,339.3L432.9,339.3A293.5,293.5 0 0 0 426.6,348.5L427.6,349.1A292.3,292.3 0 0 0 421.7,358.5L422.2,358.8A291.7,291.7 0 0 0 416.6,368.4L414.2,367.1A294.5,294.5 0 0 0 408.9,377.0L411.8,378.4A291.3,291.3 0 0 0 407.0,388.4L407.3,388.5A290.9,290.9 0 0 0 402.9,398.7L403.6,398.9A290.2,290.2 0 0 0 399.6,409.2L399.8,409.3A289.9,289.9 0 0 0 396.2,419.7L396.6,419.8A289.5,289.5 0 0 0 393.4,430.4L394.1,430.6A288.7,288.7 0 0 0 391.3,441.2L391.8,441.3A288.3,288.3 0 0 0 389.3,452.0L389.5,452.0A288.1,288.1 0 0 0 387.5,462.8L386.7,462.6A288.9,288.9 0 0 0 385.1,473.5L385.3,473.5A288.7,288.7 0 0 0 384.2,484.4L384.8,484.5A288.1,288.1 0 0 0 384.0,495.4L383.7,495.4A288.3,288.3 0 0 0 383.4,506.3L380.9,506.3A290.9,290.9 0 0 0 380.9,517.4L383.5,517.3A288.3,288.3 0 0 0 384.0,528.2L384.7,528.2A287.5,287.5 0 0 0 385.6,539.1L385.1,539.1A288.1,288.1 0 0 0 386.4,550.0L386.3,550.0A288.2,288.2 0 0 0 388.0,560.8L387.8,560.9A288.5,288.5 0 0 0 389.9,571.6L389.8,571.7A288.6,288.6 0 0 0 392.3,582.3L392.7,582.2A288.2,288.2 0 0 0 395.7,592.8L396.4,592.6A287.4,287.4 0 0 0 399.8,603.0L399.6,603.0A287.5,287.5 0 0 0 403.4,613.3L403.0,613.4A287.9,287.9 0 0 0 407.1,623.5L405.5,624.2A289.7,289.7 0 0 0 410.0,634.3L409.7,634.4A290.0,290.0 0 0 0 414.7,644.3L412.6,645.3A292.3,292.3 0 0 0 418.0,655.1L417.8,655.2A292.5,292.5 0 0 0 423.5,664.7L425.3,663.6A290.3,290.3 0 0 0 431.4,672.8L430.4,673.5A291.5,291.5 0 0 0 436.8,682.5L436.4,682.8A291.9,291.9 0 0 0 443.2,691.6L443.0,691.7A292.0,292.0 0 0 0 450.1,700.2L450.8,699.6A291.1,291.1 0 0 0 458.2,707.9L459.2,707.0A289.8,289.8 0 0 0 466.8,714.9L465.8,715.9A291.1,291.1 0 0 0 473.8,723.5L474.7,722.6A289.9,289.9 0 0 0 482.9,730.0L482.6,730.3A290.3,290.3 0 0 0 491.1,737.3L491.1,737.3A290.3,290.3 0 0 0 499.9,744.0L499.6,744.4A290.8,290.8 0 0 0 508.6,750.7L509.2,749.9A289.7,289.7 0 0 0 518.4,755.9L517.5,757.3A291.5,291.5 0 0 0 527.0,763.0L526.6,763.7A292.2,292.2 0 0 0 536.4,769.0L536.5,768.9A292.1,292.1 0 0 0 546.4,773.9L546.8,773.0A291.2,291.2 0 0 0 556.9,777.6L558.0,774.9A288.3,288.3 0 0 0 568.2,779.0L566.4,783.7A293.2,293.2 0 0 0 576.9,787.5L576.9,787.3A293.0,293.0 0 0 0 587.5,790.7L588.9,786.2A288.3,288.3 0 0 0 599.4,789.1L599.5,789.0A288.2,288.2 0 0 0 610.1,791.5L610.1,791.4A288.1,288.1 0 0 0 620.9,793.6L620.9,793.4A287.9,287.9 0 0 0 631.7,795.2L631.5,797.0A289.8,289.8 0 0 0 642.4,798.3L642.6,795.9A287.4,287.4 0 0 0 653.5,796.8L653.5,796.5A287.1,287.1 0 0 0 664.4,797.0L664.4,796.8A286.9,286.9 0 0 0 675.3,796.9L675.3,798.0A288.0,288.0 0 0 0 686.3,797.7L686.3,797.6A288.0,288.0 0 0 0 697.2,796.8L697.3,797.6A288.7,288.7 0 0 0 708.2,796.4L708.2,796.4A288.7,288.7 0 0 0 719.0,794.8L718.9,793.9A287.8,287.8 0 0 0 729.6,791.9L729.8,792.9A288.8,288.8 0 0 0 740.5,790.5L740.5,790.3A288.7,288.7 0 0 0 751.1,787.5L751.3,788.3A289.5,289.5 0 0 0 761.9,785.1L761.8,785.0A289.4,289.4 0 0 0 772.2,781.4L771.5,779.6A287.4,287.4 0 0 0 781.7,775.6L781.7,775.5A287.4,287.4 0 0 0 791.7,771.2L792.4,772.8A289.2,289.2 0 0 0 802.3,768.0L802.2,767.7A288.9,288.9 0 0 0 811.9,762.6L812.0,762.7A289.1,289.1 0 0 0 821.5,757.2L820.7,755.9A287.6,287.6 0 0 0 829.9,750.1L830.5,751.0A288.6,288.6 0 0 0 839.6,744.8L839.3,744.3A288.1,288.1 0 0 0 848.0,737.8L848.1,737.9A288.2,288.2 0 0 0 856.7,731.1L858.2,732.8A290.6,290.6 0 0 0 866.5,725.6L866.6,725.7A290.7,290.7 0 0 0 874.7,718.2L874.0,717.4A289.7,289.7 0 0 0 881.7,709.6L881.8,709.7A289.9,289.9 0 0 0 889.3,701.6L889.5,701.8A290.2,290.2 0 0 0 896.6,693.4L895.8,692.8A289.2,289.2 0 0 0 902.6,684.1L903.6,684.8A290.4,290.4 0 0 0 910.1,675.9L910.1,675.9A290.4,290.4 0 0 0 916.2,666.7L914.4,665.6A288.3,288.3 0 0 0 920.1,656.2L920.6,656.5A288.9,288.9 0 0 0 926.0,647.0L925.4,646.6A288.2,288.2 0 0 0 930.4,636.9L930.0,636.7A287.7,287.7 0 0 0 934.6,626.8L934.5,626.7A287.6,287.6 0 0 0 938.8,616.7L937.7,616.3A286.4,286.4 0 0 0 941.5,606.1L941.8,606.2A286.7,286.7 0 0 0 945.3,595.8L944.9,595.7A286.3,286.3 0 0 0 948.0,585.3L948.3,585.4A286.7,286.7 0 0 0 951.0,574.8L950.7,574.8A286.4,286.4 0 0 0 953.0,564.1L951.9,563.9A285.3,285.3 0 0 0 953.8,553.2L953.2,553.1A284.7,284.7 0 0 0 954.6,542.4L956.2,542.6A286.4,286.4 0 0 0 957.3,531.7L956.5,531.7A285.6,285.6 0 0 0 957.1,520.9L956.7,520.8A285.2,285.2 0 0 0 956.9,510.0L951.1,510.0A279.4,279.4 0 1 1 671.7,230.6Z" fill="#28a562"/>
<path d="M671.7,233.2A276.8,276.8 0 1 0 948.5,510.0L919.3,510.0A247.6,247.6 0 1 1 671.7,262.4Z" fill="#d2f5e4"/>
<path d="M671.7,262.4L671.7,262.4A247.6,247.6 0 0 0 662.3,262.6L661.8,248.6A261.6,261.6 0 0 0 651.8,249.1L652.9,263.1A247.6,247.6 0 0 0 643.5,264.0L643.0,259.7A252.0,252.0 0 0 0 633.5,260.9L633.5,260.9A252.0,252.0 0 0 0 624.1,262.6L624.9,266.9A247.6,247.6 0 0 0 615.7,268.8L615.7,268.8A247.6,247.6 0 0 0 606.6,271.1L606.0,268.9A249.9,249.9 0 0 0 596.9,271.5L596.9,271.5A249.9,249.9 0 0 0 587.9,274.5L588.4,275.9A248.5,248.5 0 0 0 579.5,279.3L579.5,279.3A248.5,248.5 0 0 0 570.8,282.9L570.8,282.9A248.5,248.5 0 0 0 562.3,286.9L562.7,287.7A247.6,247.6 0 0 0 554.3,292.0L554.3,292.0A247.6,247.6 0 0 0 546.1,296.6L546.1,296.6A247.6,247.6 0 0 0 538.1,301.6L538.1,301.6A247.6,247.6 0 0 0 530.3,306.8L530.3,306.8A247.6,247.6 0 0 0 522.6,312.3L522.6,312.3A247.6,247.6 0 0 0 515.2,318.1L501.4,301.1A269.5,269.5 0 0 0 493.6,307.8L501.3,316.5A257.8,257.8 0 0 0 494.1,323.1L484.0,312.6A272.4,272.4 0 0 0 476.6,319.8L476.6,319.8A272.4,272.4 0 0 0 469.6,327.4L485.8,342.1A250.5,250.5 0 0 0 479.6,349.2L481.8,351.1A247.6,247.6 0 0 0 475.9,358.4L475.9,358.4A247.6,247.6 0 0 0 470.3,366.0L467.8,364.2A250.7,250.7 0 0 0 462.4,372.1L461.3,371.3A252.0,252.0 0 0 0 456.2,379.4L457.3,380.1A250.7,250.7 0 0 0 452.5,388.4L452.5,388.4A250.7,250.7 0 0 0 448.1,396.8L444.3,394.9A254.9,254.9 0 0 0 440.1,403.6L443.9,405.3A250.7,250.7 0 0 0 440.1,414.1L440.1,414.1A250.7,250.7 0 0 0 436.6,422.9L437.6,423.3A249.6,249.6 0 0 0 434.5,432.3L436.4,432.9A247.6,247.6 0 0 0 433.7,441.9L433.7,441.9A247.6,247.6 0 0 0 431.2,451.0L424.1,449.2A254.9,254.9 0 0 0 422.0,458.7L429.2,460.2A247.6,247.6 0 0 0 427.4,469.4L427.4,469.4A247.6,247.6 0 0 0 426.1,478.7L420.3,478.0A253.4,253.4 0 0 0 419.3,487.6L425.1,488.1A247.6,247.6 0 0 0 424.4,497.5L422.4,497.4A249.6,249.6 0 0 0 422.1,506.8L424.1,506.9A247.6,247.6 0 0 0 424.2,516.3L424.2,516.3A247.6,247.6 0 0 0 424.6,525.7L424.6,525.7A247.6,247.6 0 0 0 425.4,535.0L425.4,535.0A247.6,247.6 0 0 0 426.5,544.4L426.5,544.4A247.6,247.6 0 0 0 428.0,553.7L428.0,553.7A247.6,247.6 0 0 0 429.8,562.9L426.8,563.6A250.7,250.7 0 0 0 429.0,572.8L426.4,573.5A253.4,253.4 0 0 0 428.9,582.8L434.5,581.1A247.6,247.6 0 0 0 437.4,590.1L437.4,590.1A247.6,247.6 0 0 0 440.6,598.9L438.7,599.7A249.6,249.6 0 0 0 442.3,608.4L444.2,607.6A247.6,247.6 0 0 0 448.0,616.2L445.3,617.5A250.7,250.7 0 0 0 449.5,626.1L449.5,626.1A250.7,250.7 0 0 0 454.1,634.4L451.7,635.8A253.4,253.4 0 0 0 456.6,644.1L459.8,642.1A249.6,249.6 0 0 0 465.0,650.0L464.2,650.6A250.7,250.7 0 0 0 469.7,658.4L472.1,656.5A247.6,247.6 0 0 0 477.8,664.0L475.4,665.9A250.7,250.7 0 0 0 481.5,673.3L482.3,672.6A249.6,249.6 0 0 0 488.6,679.7L490.1,678.3A247.6,247.6 0 0 0 496.6,685.1L495.2,686.5A249.6,249.6 0 0 0 502.0,693.1L503.4,691.6A247.6,247.6 0 0 0 510.4,697.9L509.1,699.4A249.6,249.6 0 0 0 516.4,705.5L515.8,706.3A250.7,250.7 0 0 0 523.3,712.0L525.2,709.6A247.6,247.6 0 0 0 532.8,715.0L531.7,716.7A249.6,249.6 0 0 0 539.6,721.9L539.6,721.9A249.6,249.6 0 0 0 547.8,726.7L547.8,726.7A249.6,249.6 0 0 0 556.1,731.3L557.1,729.5A247.6,247.6 0 0 0 565.5,733.7L564.6,735.5A249.6,249.6 0 0 0 573.3,739.4L571.8,742.9A253.4,253.4 0 0 0 580.7,746.5L582.8,741.1A247.6,247.6 0 0 0 591.6,744.3L591.6,744.3A247.6,247.6 0 0 0 600.6,747.2L600.0,749.1A249.6,249.6 0 0 0 609.1,751.7L609.6,749.7A247.6,247.6 0 0 0 618.8,751.9L618.8,751.9A247.6,247.6 0 0 0 628.0,753.7L628.0,753.7A247.6,247.6 0 0 0 637.3,755.2L637.0,757.2A249.6,249.6 0 0 0 646.4,758.4L646.4,758.4A249.6,249.6 0 0 0 655.9,759.1L656.0,757.1A247.6,247.6 0 0 0 665.4,757.5L665.4,759.6A249.6,249.6 0 0 0 674.9,759.6L674.9,760.6A250.7,250.7 0 0 0 684.4,760.3L684.3,759.3A249.6,249.6 0 0 0 693.8,758.7L693.9,759.7A250.7,250.7 0 0 0 703.4,758.7L703.2,757.6A249.6,249.6 0 0 0 712.6,756.3L712.6,756.3A249.6,249.6 0 0 0 722.0,754.5L721.5,752.5A247.6,247.6 0 0 0 730.7,750.5L730.7,750.5A247.6,247.6 0 0 0 739.8,748.0L740.7,751.0A250.7,250.7 0 0 0 749.8,748.2L748.8,745.3A247.6,247.6 0 0 0 757.7,742.2L757.7,742.2A247.6,247.6 0 0 0 766.5,738.8L767.2,740.6A249.6,249.6 0 0 0 775.9,736.8L775.1,735.0A247.6,247.6 0 0 0 783.5,730.9L786.2,736.1A253.4,253.4 0 0 0 794.7,731.6L791.9,726.5A247.6,247.6 0 0 0 800.0,721.8L801.1,723.5A249.6,249.6 0 0 0 809.1,718.4L808.0,716.7A247.6,247.6 0 0 0 815.7,711.4L816.9,713.1A249.6,249.6 0 0 0 824.5,707.4L824.5,707.4A249.6,249.6 0 0 0 831.9,701.5L832.6,702.2A250.7,250.7 0 0 0 839.7,696.0L837.7,693.7A247.6,247.6 0 0 0 844.5,687.3L846.0,688.7A249.6,249.6 0 0 0 852.6,682.0L853.4,682.7A250.7,250.7 0 0 0 859.8,675.7L859.0,675.0A249.6,249.6 0 0 0 865.2,667.8L865.2,667.8A249.6,249.6 0 0 0 871.0,660.3L871.8,660.9A250.7,250.7 0 0 0 877.4,653.2L886.9,659.8A262.2,262.2 0 0 0 892.4,651.5L880.1,643.6A247.6,247.6 0 0 0 885.1,635.6L886.8,636.6A249.6,249.6 0 0 0 891.5,628.4L889.7,627.4A247.6,247.6 0 0 0 894.0,619.0L896.7,620.4A250.7,250.7 0 0 0 900.8,611.8L912.7,617.0A263.7,263.7 0 0 0 916.5,607.8L901.6,601.8A247.6,247.6 0 0 0 905.0,593.0L906.9,593.7A249.6,249.6 0 0 0 909.9,584.7L910.9,585.0A250.7,250.7 0 0 0 913.5,575.9L913.5,575.9A250.7,250.7 0 0 0 915.9,566.7L921.4,567.9A256.4,256.4 0 0 0 923.4,558.4L917.9,557.3A250.7,250.7 0 0 0 919.5,548.0L933.8,550.1A265.1,265.1 0 0 0 935.1,540.2L917.7,538.2A247.6,247.6 0 0 0 918.6,528.8L918.6,528.8A247.6,247.6 0 0 0 919.1,519.4L922.0,519.5A250.5,250.5 0 0 0 922.2,510.0L919.3,510.0A247.6,247.6 0 1 1 671.7,262.4Z" fill="#6ecfa0"/>
<path d="M671.7,265.0A245.0,245.0 0 1 0 916.7,510.0L887.5,510.0A215.8,215.8 0 1 1 671.7,294.2Z" fill="#d2f5e4"/>
<path d="M671.7,294.2L671.7,294.2A215.8,215.8 0 0 0 663.5,294.4L663.3,288.5A221.6,221.6 0 0 0 654.9,289.0L654.9,289.0A221.6,221.6 0 0 0 646.5,289.8L645.7,282.5A228.9,228.9 0 0 0 637.0,283.7L638.1,290.9A221.6,221.6 0 0 0 629.8,292.3L630.9,298.1A215.8,215.8 0 0 0 622.9,299.8L622.9,299.8A215.8,215.8 0 0 0 615.0,301.8L613.4,296.2A221.6,221.6 0 0 0 605.3,298.5L605.3,298.5A221.6,221.6 0 0 0 597.4,301.2L598.8,305.3A217.3,217.3 0 0 0 591.1,308.2L588.4,301.5A224.6,224.6 0 0 0 580.5,304.8L584.1,312.8A215.8,215.8 0 0 0 576.7,316.3L576.7,316.3A215.8,215.8 0 0 0 569.4,320.0L569.4,320.0A215.8,215.8 0 0 0 562.2,324.0L562.2,324.0A215.8,215.8 0 0 0 555.2,328.3L555.2,328.3A215.8,215.8 0 0 0 548.4,332.9L548.4,332.9A215.8,215.8 0 0 0 541.8,337.7L541.8,337.7A215.8,215.8 0 0 0 535.3,342.8L529.8,336.0A224.6,224.6 0 0 0 523.3,341.5L520.4,338.2A228.9,228.9 0 0 0 514.0,344.1L511.0,340.9A233.3,233.3 0 0 0 504.6,347.1L509.9,352.2A226.0,226.0 0 0 0 504.0,358.5L511.6,365.3A215.8,215.8 0 0 0 506.2,371.5L506.2,371.5A215.8,215.8 0 0 0 501.1,377.9L501.1,377.9A215.8,215.8 0 0 0 496.2,384.5L496.2,384.5A215.8,215.8 0 0 0 491.5,391.2L491.5,391.2A215.8,215.8 0 0 0 487.1,398.2L487.1,398.2A215.8,215.8 0 0 0 483.0,405.3L481.2,404.3A217.8,217.8 0 0 0 477.3,411.6L467.5,406.6A228.9,228.9 0 0 0 463.7,414.4L475.6,419.9A215.8,215.8 0 0 0 472.3,427.4L472.3,427.4A215.8,215.8 0 0 0 469.3,435.1L469.3,435.1A215.8,215.8 0 0 0 466.6,442.8L466.6,442.8A215.8,215.8 0 0 0 464.2,450.6L462.3,450.1A217.8,217.8 0 0 0 460.1,458.1L460.1,458.1A217.8,217.8 0 0 0 458.3,466.1L458.3,466.1A217.8,217.8 0 0 0 456.8,474.3L456.8,474.3A217.8,217.8 0 0 0 455.6,482.5L455.6,482.5A217.8,217.8 0 0 0 454.7,490.7L456.7,490.9A215.8,215.8 0 0 0 456.2,499.1L454.1,499.0A217.8,217.8 0 0 0 453.9,507.2L453.9,507.2A217.8,217.8 0 0 0 453.9,515.5L450.1,515.6A221.6,221.6 0 0 0 450.5,524.0L450.5,524.0A221.6,221.6 0 0 0 451.2,532.4L455.0,532.0A217.8,217.8 0 0 0 456.0,540.3L456.0,540.3A217.8,217.8 0 0 0 457.3,548.4L456.3,548.6A218.9,218.9 0 0 0 457.9,556.8L457.9,556.8A218.9,218.9 0 0 0 459.8,564.9L460.8,564.6A217.8,217.8 0 0 0 463.0,572.6L459.4,573.7A221.6,221.6 0 0 0 462.0,581.7L464.6,580.8A218.9,218.9 0 0 0 467.4,588.6L470.3,587.5A215.8,215.8 0 0 0 473.4,595.1L471.5,595.9A217.8,217.8 0 0 0 474.9,603.5L476.8,602.6A215.8,215.8 0 0 0 480.4,609.9L478.6,610.9A217.8,217.8 0 0 0 482.6,618.1L481.7,618.6A218.9,218.9 0 0 0 486.0,625.8L488.6,624.2A215.8,215.8 0 0 0 493.0,631.0L491.3,632.2A217.8,217.8 0 0 0 496.1,638.9L496.1,638.9A217.8,217.8 0 0 0 501.1,645.5L502.7,644.2A215.8,215.8 0 0 0 508.0,650.6L505.6,652.6A218.9,218.9 0 0 0 511.2,658.8L511.2,658.8A218.9,218.9 0 0 0 516.9,664.8L512.9,668.8A224.6,224.6 0 0 0 519.1,674.7L525.0,668.3A215.8,215.8 0 0 0 531.1,673.7L529.1,676.1A218.9,218.9 0 0 0 535.5,681.4L536.2,680.6A217.8,217.8 0 0 0 542.8,685.6L544.0,683.9A215.8,215.8 0 0 0 550.7,688.7L549.5,690.4A217.8,217.8 0 0 0 556.5,694.9L557.5,693.1A215.8,215.8 0 0 0 564.6,697.3L563.1,700.0A218.9,218.9 0 0 0 570.4,704.0L571.8,701.3A215.8,215.8 0 0 0 579.1,704.9L578.2,706.8A217.8,217.8 0 0 0 585.8,710.2L586.6,708.3A215.8,215.8 0 0 0 594.2,711.4L591.6,718.2A223.1,223.1 0 0 0 599.5,721.1L601.2,716.1A217.8,217.8 0 0 0 609.1,718.7L609.1,718.7A217.8,217.8 0 0 0 617.1,720.9L617.6,718.9A215.8,215.8 0 0 0 625.6,720.8L625.1,722.8A217.8,217.8 0 0 0 633.3,724.4L633.6,722.4A215.8,215.8 0 0 0 641.7,723.7L641.4,725.7A217.8,217.8 0 0 0 649.7,726.7L649.6,727.7A218.9,218.9 0 0 0 657.8,728.4L657.9,727.4A217.8,217.8 0 0 0 666.2,727.8L666.2,728.8A218.9,218.9 0 0 0 674.5,728.8L674.5,727.8A217.8,217.8 0 0 0 682.7,727.6L682.8,728.6A218.9,218.9 0 0 0 691.1,728.0L690.8,725.0A215.8,215.8 0 0 0 699.0,724.1L699.2,726.1A217.8,217.8 0 0 0 707.4,724.9L707.1,722.9A215.8,215.8 0 0 0 715.1,721.4L715.1,721.4A215.8,215.8 0 0 0 723.1,719.6L723.6,721.6A217.8,217.8 0 0 0 731.6,719.4L731.1,717.5A215.8,215.8 0 0 0 738.9,715.1L738.9,715.1A215.8,215.8 0 0 0 746.6,712.4L746.6,712.4A215.8,215.8 0 0 0 754.3,709.4L755.1,711.3A217.8,217.8 0 0 0 762.7,707.9L763.1,708.9A218.9,218.9 0 0 0 770.6,705.3L769.2,702.5A215.8,215.8 0 0 0 776.4,698.7L777.4,700.5A217.8,217.8 0 0 0 784.6,696.3L784.6,696.3A217.8,217.8 0 0 0 791.6,691.9L790.5,690.2A215.8,215.8 0 0 0 797.2,685.5L798.4,687.2A217.8,217.8 0 0 0 805.0,682.3L805.0,682.3A217.8,217.8 0 0 0 811.5,677.1L810.2,675.5A215.8,215.8 0 0 0 816.4,670.1L817.7,671.6A217.8,217.8 0 0 0 823.8,666.0L822.3,664.5A215.8,215.8 0 0 0 828.1,658.7L829.6,660.1A217.8,217.8 0 0 0 835.2,654.0L833.6,652.6A215.8,215.8 0 0 0 838.9,646.4L840.5,647.7A217.8,217.8 0 0 0 845.6,641.2L845.6,641.2A217.8,217.8 0 0 0 850.5,634.4L856.0,638.3A224.6,224.6 0 0 0 860.8,631.2L856.0,628.1A218.9,218.9 0 0 0 860.3,621.0L865.2,623.9A224.6,224.6 0 0 0 869.4,616.5L877.1,620.6A233.3,233.3 0 0 0 881.2,612.8L881.2,612.8A233.3,233.3 0 0 0 884.9,604.7L868.9,597.6A215.8,215.8 0 0 0 872.1,590.1L874.0,590.8A217.8,217.8 0 0 0 876.9,583.1L875.0,582.4A215.8,215.8 0 0 0 877.6,574.6L880.5,575.5A218.9,218.9 0 0 0 882.9,567.5L882.9,567.5A218.9,218.9 0 0 0 884.9,559.5L884.9,559.5A218.9,218.9 0 0 0 886.6,551.3L883.6,550.8A215.8,215.8 0 0 0 885.0,542.7L895.1,544.2A226.0,226.0 0 0 0 896.3,535.7L889.1,534.9A218.9,218.9 0 0 0 889.9,526.6L897.1,527.2A226.0,226.0 0 0 0 897.6,518.6L890.4,518.3A218.9,218.9 0 0 0 890.6,510.0L887.5,510.0A215.8,215.8 0 1 1 671.7,294.2Z" fill="#6ecfa0"/>
<path d="M671.7,296.8A213.2,213.2 0 1 0 884.9,510.0L855.7,510.0A184.0,184.0 0 1 1 671.7,326.0Z" fill="#d2f5e4"/>
<path d="M671.7,326.0L671.7,326.0A184.0,184.0 0 0 0 664.7,326.1L664.7,326.1A184.0,184.0 0 0 0 657.7,326.5L657.7,326.5A184.0,184.0 0 0 0 650.8,327.2L648.8,309.8A201.5,201.5 0 0 0 641.2,310.8L643.0,322.3A189.8,189.8 0 0 0 635.8,323.6L636.9,329.3A184.0,184.0 0 0 0 630.1,330.8L630.1,330.8A184.0,184.0 0 0 0 623.3,332.5L623.3,332.5A184.0,184.0 0 0 0 616.6,334.4L615.3,330.3A188.4,188.4 0 0 0 608.5,332.5L609.6,335.6A185.2,185.2 0 0 0 603.0,338.0L603.0,338.0A185.2,185.2 0 0 0 596.5,340.8L597.0,341.8A184.0,184.0 0 0 0 590.7,344.8L590.7,344.8A184.0,184.0 0 0 0 584.4,348.0L584.4,348.0A184.0,184.0 0 0 0 578.4,351.4L578.4,351.4A184.0,184.0 0 0 0 572.4,355.1L572.4,355.1A184.0,184.0 0 0 0 566.6,359.0L566.6,359.0A184.0,184.0 0 0 0 560.9,363.1L560.9,363.1A184.0,184.0 0 0 0 555.4,367.4L552.7,364.0A188.4,188.4 0 0 0 547.2,368.6L541.4,362.1A197.1,197.1 0 0 0 535.9,367.1L540.9,372.4A189.8,189.8 0 0 0 535.8,377.5L540.0,381.6A184.0,184.0 0 0 0 535.2,386.6L535.2,386.6A184.0,184.0 0 0 0 530.6,391.9L528.2,390.0A187.1,187.1 0 0 0 523.8,395.5L523.8,395.5A187.1,187.1 0 0 0 519.5,401.2L520.4,401.8A186.0,186.0 0 0 0 516.4,407.6L518.1,408.7A184.0,184.0 0 0 0 514.3,414.7L514.3,414.7A184.0,184.0 0 0 0 510.8,420.7L509.0,419.7A186.0,186.0 0 0 0 505.7,426.0L499.7,422.9A192.8,192.8 0 0 0 496.5,429.5L500.5,431.3A188.4,188.4 0 0 0 497.7,437.9L501.7,439.6A184.0,184.0 0 0 0 499.2,446.1L499.2,446.1A184.0,184.0 0 0 0 496.9,452.7L496.9,452.7A184.0,184.0 0 0 0 494.8,459.4L494.8,459.4A184.0,184.0 0 0 0 493.0,466.1L491.0,465.7A186.0,186.0 0 0 0 489.5,472.5L491.5,473.0A184.0,184.0 0 0 0 490.2,479.8L490.2,479.8A184.0,184.0 0 0 0 489.2,486.8L487.1,486.5A186.0,186.0 0 0 0 486.4,493.5L486.4,493.5A186.0,186.0 0 0 0 485.9,500.6L485.9,500.6A186.0,186.0 0 0 0 485.7,507.6L485.7,507.6A186.0,186.0 0 0 0 485.7,514.7L480.5,514.8A191.3,191.3 0 0 0 480.8,522.1L488.1,521.6A184.0,184.0 0 0 0 488.6,528.6L488.6,528.6A184.0,184.0 0 0 0 489.5,535.6L487.5,535.8A186.0,186.0 0 0 0 488.6,542.8L490.6,542.5A184.0,184.0 0 0 0 492.0,549.3L490.0,549.8A186.0,186.0 0 0 0 491.6,556.6L491.6,556.6A186.0,186.0 0 0 0 493.5,563.4L495.5,562.9A184.0,184.0 0 0 0 497.6,569.5L497.6,569.5A184.0,184.0 0 0 0 500.0,576.1L498.1,576.8A186.0,186.0 0 0 0 500.7,583.4L500.7,583.4A186.0,186.0 0 0 0 503.6,589.8L505.5,588.9A184.0,184.0 0 0 0 508.6,595.2L505.9,596.6A187.1,187.1 0 0 0 509.3,602.8L510.2,602.3A186.0,186.0 0 0 0 513.8,608.4L513.8,608.4A186.0,186.0 0 0 0 517.7,614.3L519.4,613.2A184.0,184.0 0 0 0 523.4,618.9L523.4,618.9A184.0,184.0 0 0 0 527.6,624.5L526.0,625.7A186.0,186.0 0 0 0 530.5,631.2L529.8,631.8A187.1,187.1 0 0 0 534.5,637.2L535.2,636.5A186.0,186.0 0 0 0 540.1,641.6L541.6,640.1A184.0,184.0 0 0 0 546.6,645.0L546.6,645.0A184.0,184.0 0 0 0 551.8,649.6L550.5,651.2A186.0,186.0 0 0 0 556.0,655.7L555.3,656.5A187.1,187.1 0 0 0 561.0,660.8L561.0,660.8A187.1,187.1 0 0 0 566.8,664.9L562.8,670.8A194.2,194.2 0 0 0 569.0,674.8L572.5,669.1A187.5,187.5 0 0 0 578.6,672.8L578.6,672.8A187.5,187.5 0 0 0 584.9,676.2L584.9,676.2A187.5,187.5 0 0 0 591.3,679.4L592.8,676.2A184.0,184.0 0 0 0 599.1,679.1L599.1,679.1A184.0,184.0 0 0 0 605.6,681.7L604.9,683.6A186.0,186.0 0 0 0 611.5,686.0L611.5,686.0A186.0,186.0 0 0 0 618.3,688.2L618.3,688.2A186.0,186.0 0 0 0 625.1,690.1L625.1,690.1A186.0,186.0 0 0 0 631.9,691.7L632.4,689.7A184.0,184.0 0 0 0 639.2,691.1L638.9,693.1A186.0,186.0 0 0 0 645.9,694.2L646.1,692.2A184.0,184.0 0 0 0 653.1,693.1L652.9,695.1A186.0,186.0 0 0 0 659.9,695.7L660.1,693.6A184.0,184.0 0 0 0 667.0,693.9L667.0,696.0A186.0,186.0 0 0 0 674.1,696.0L674.1,696.0A186.0,186.0 0 0 0 681.1,695.8L681.1,695.8A186.0,186.0 0 0 0 688.2,695.3L688.5,699.1A189.8,189.8 0 0 0 695.7,698.3L694.9,692.5A184.0,184.0 0 0 0 701.9,691.5L702.4,694.5A187.1,187.1 0 0 0 709.4,693.2L709.2,692.2A186.0,186.0 0 0 0 716.0,690.7L716.3,691.7A187.1,187.1 0 0 0 723.2,689.8L722.3,686.9A184.0,184.0 0 0 0 729.0,684.8L729.6,686.8A186.0,186.0 0 0 0 736.3,684.5L735.6,682.5A184.0,184.0 0 0 0 742.1,680.0L742.9,681.9A186.0,186.0 0 0 0 749.4,679.1L749.4,679.1A186.0,186.0 0 0 0 755.7,676.0L754.8,674.2A184.0,184.0 0 0 0 761.0,670.9L761.0,670.9A184.0,184.0 0 0 0 767.0,667.4L768.1,669.1A186.0,186.0 0 0 0 774.1,665.3L774.6,666.2A187.1,187.1 0 0 0 780.5,662.2L783.0,665.6A191.3,191.3 0 0 0 788.8,661.3L784.3,655.5A184.0,184.0 0 0 0 789.8,651.1L808.5,673.5A213.2,213.2 0 0 0 814.6,668.2L796.0,647.6A185.5,185.5 0 0 0 801.2,642.8L811.4,653.2A200.1,200.1 0 0 0 816.7,647.8L806.1,637.8A185.5,185.5 0 0 0 810.9,632.6L818.5,639.3A195.7,195.7 0 0 0 823.4,633.7L815.9,627.6A186.0,186.0 0 0 0 820.2,622.0L821.1,622.6A187.1,187.1 0 0 0 825.2,616.9L827.5,618.4A189.8,189.8 0 0 0 831.5,612.5L828.3,610.4A186.0,186.0 0 0 0 832.0,604.4L832.9,604.9A187.1,187.1 0 0 0 836.4,598.7L833.7,597.3A184.0,184.0 0 0 0 836.9,591.0L838.7,591.9A186.0,186.0 0 0 0 841.7,585.5L842.7,585.9A187.1,187.1 0 0 0 845.4,579.4L861.6,585.8A204.4,204.4 0 0 0 864.3,578.6L853.3,574.7A192.8,192.8 0 0 0 855.6,567.7L849.2,565.7A186.0,186.0 0 0 0 851.2,558.9L849.2,558.4A184.0,184.0 0 0 0 850.9,551.6L855.2,552.6A188.4,188.4 0 0 0 856.7,545.6L854.4,545.1A186.0,186.0 0 0 0 855.6,538.2L856.6,538.3A187.1,187.1 0 0 0 857.6,531.3L854.5,530.9A184.0,184.0 0 0 0 855.2,524.0L858.2,524.2A187.1,187.1 0 0 0 858.6,517.1L857.6,517.1A186.0,186.0 0 0 0 857.7,510.0L855.7,510.0A184.0,184.0 0 1 1 671.7,326.0Z" fill="#6ecfa0"/>
<path d="M671.7,328.5A181.5,181.5 0 1 0 853.2,510.0L825.2,510.0A153.5,153.5 0 1 1 671.7,356.5Z" fill="#b5d8bb"/>
<path d="M671.7,356.5L671.7,330.9A179.1,179.1 0 0 0 664.9,331.0L664.9,331.0A179.1,179.1 0 0 0 658.1,331.4L658.2,332.4A178.1,178.1 0 0 0 651.4,333.1L651.4,333.1A178.1,178.1 0 0 0 644.7,334.0L644.8,334.6A177.5,177.5 0 0 0 638.2,335.7L638.0,334.7A178.5,178.5 0 0 0 631.4,336.1L631.4,336.1A178.5,178.5 0 0 0 624.8,337.8L624.6,337.2A179.1,179.1 0 0 0 618.1,339.2L618.1,339.2A179.1,179.1 0 0 0 611.6,341.3L611.7,341.4A178.9,178.9 0 0 0 605.3,343.8L605.7,344.8A177.9,177.9 0 0 0 599.5,347.4L599.5,347.4A177.9,177.9 0 0 0 593.3,350.3L592.5,348.5A179.9,179.9 0 0 0 586.4,351.6L586.3,351.4A180.1,180.1 0 0 0 580.3,354.8L580.3,354.8A180.1,180.1 0 0 0 574.5,358.4L575.3,359.6A178.6,178.6 0 0 0 569.7,363.4L570.2,364.2A177.7,177.7 0 0 0 564.7,368.1L563.6,366.6A179.6,179.6 0 0 0 558.2,370.8L558.8,371.6A178.6,178.6 0 0 0 553.6,376.0L553.0,375.2A179.6,179.6 0 0 0 548.0,379.8L548.9,380.8A178.3,178.3 0 0 0 544.0,385.5L544.0,385.5A178.3,178.3 0 0 0 539.4,390.5L539.2,390.3A178.6,178.6 0 0 0 534.7,395.4L534.7,395.4A178.6,178.6 0 0 0 530.5,400.7L529.8,400.2A179.4,179.4 0 0 0 525.7,405.6L525.7,405.6A179.5,179.5 0 0 0 521.8,411.2L521.8,411.2A179.5,179.5 0 0 0 518.2,417.0L519.2,417.6A178.3,178.3 0 0 0 515.8,423.5L516.0,423.6A178.0,178.0 0 0 0 512.9,429.6L512.9,429.6A178.0,178.0 0 0 0 509.9,435.7L508.8,435.2A179.2,179.2 0 0 0 506.1,441.4L506.1,441.4A179.2,179.2 0 0 0 503.6,447.8L503.7,447.8A179.2,179.2 0 0 0 501.4,454.2L501.4,454.2A179.2,179.2 0 0 0 499.4,460.7L501.2,461.2A177.3,177.3 0 0 0 499.5,467.7L499.5,467.7A177.3,177.3 0 0 0 498.0,474.3L497.0,474.1A178.3,178.3 0 0 0 495.8,480.8L495.8,480.8A178.3,178.3 0 0 0 494.8,487.5L494.9,487.5A178.2,178.2 0 0 0 494.2,494.2L494.2,494.2A178.2,178.2 0 0 0 493.7,501.0L493.4,501.0A178.5,178.5 0 0 0 493.2,507.7L492.6,507.7A179.1,179.1 0 0 0 492.6,514.5L492.6,514.5A179.1,179.1 0 0 0 492.9,521.3L494.3,521.2A177.7,177.7 0 0 0 494.9,528.0L494.9,528.0A177.7,177.7 0 0 0 495.7,534.7L493.7,535.0A179.7,179.7 0 0 0 494.8,541.7L496.9,541.3A177.5,177.5 0 0 0 498.3,547.9L498.3,547.9A177.5,177.5 0 0 0 499.8,554.5L497.9,555.0A179.5,179.5 0 0 0 499.8,561.6L500.4,561.4A178.8,178.8 0 0 0 502.5,567.8L502.5,567.8A178.8,178.8 0 0 0 504.8,574.2L504.6,574.3A179.1,179.1 0 0 0 507.1,580.6L507.1,580.6A179.1,179.1 0 0 0 509.9,586.8L509.1,587.2A180.0,180.0 0 0 0 512.2,593.3L512.2,593.3A180.0,180.0 0 0 0 515.5,599.3L517.2,598.3A178.0,178.0 0 0 0 520.6,604.2L519.9,604.6A178.9,178.9 0 0 0 523.6,610.3L524.5,609.7A177.8,177.8 0 0 0 528.4,615.2L528.4,615.2A177.8,177.8 0 0 0 532.5,620.6L532.1,620.9A178.3,178.3 0 0 0 536.4,626.1L536.7,625.9A177.9,177.9 0 0 0 541.2,630.9L541.2,630.9A177.9,177.9 0 0 0 545.9,635.8L544.8,636.9A179.5,179.5 0 0 0 549.7,641.7L550.0,641.3A179.0,179.0 0 0 0 555.1,645.8L555.0,645.9A179.2,179.2 0 0 0 560.2,650.3L560.2,650.3A179.2,179.2 0 0 0 565.7,654.4L566.4,653.4A177.9,177.9 0 0 0 572.0,657.3L571.4,658.0A178.8,178.8 0 0 0 577.1,661.7L577.1,661.7A178.8,178.8 0 0 0 583.0,665.2L582.8,665.6A179.2,179.2 0 0 0 588.7,668.8L588.9,668.5A178.9,178.9 0 0 0 595.0,671.6L595.0,671.6A178.9,178.9 0 0 0 601.2,674.4L601.3,674.0A178.5,178.5 0 0 0 607.6,676.6L607.5,676.7A178.6,178.6 0 0 0 613.9,679.0L613.9,679.1A178.7,178.7 0 0 0 620.4,681.1L620.2,681.7A179.3,179.3 0 0 0 626.8,683.5L626.9,683.0A178.7,178.7 0 0 0 633.5,684.6L633.7,683.6A177.7,177.7 0 0 0 640.3,685.0L640.3,685.0A177.7,177.7 0 0 0 647.0,686.0L646.9,686.9A178.6,178.6 0 0 0 653.6,687.7L653.6,687.7A178.6,178.6 0 0 0 660.4,688.3L660.4,688.8A179.2,179.2 0 0 0 667.2,689.1L667.2,689.1A179.2,179.2 0 0 0 674.0,689.1L674.0,688.3A178.3,178.3 0 0 0 680.7,688.1L680.7,688.1A178.3,178.3 0 0 0 687.5,687.6L687.6,689.4A180.1,180.1 0 0 0 694.5,688.7L694.2,686.4A177.8,177.8 0 0 0 700.8,685.4L700.8,685.4A177.8,177.8 0 0 0 707.5,684.2L707.7,685.4A179.1,179.1 0 0 0 714.4,683.9L714.0,682.2A177.4,177.4 0 0 0 720.5,680.5L721.0,682.3A179.2,179.2 0 0 0 727.5,680.3L727.5,680.3A179.2,179.2 0 0 0 733.9,678.1L734.1,678.4A179.6,179.6 0 0 0 740.4,675.9L740.1,675.1A178.7,178.7 0 0 0 746.3,672.4L746.3,672.4A178.7,178.7 0 0 0 752.4,669.5L752.7,670.1A179.4,179.4 0 0 0 758.8,666.9L757.8,665.1A177.4,177.4 0 0 0 763.6,661.7L763.6,661.7A177.4,177.4 0 0 0 769.3,658.1L770.2,659.5A179.1,179.1 0 0 0 775.8,655.7L775.8,655.7A179.1,179.1 0 0 0 781.3,651.6L780.4,650.4A177.6,177.6 0 0 0 785.6,646.2L785.6,646.2A177.6,177.6 0 0 0 790.7,641.8L791.2,642.3A178.3,178.3 0 0 0 796.1,637.6L796.0,637.5A178.1,178.1 0 0 0 800.8,632.7L800.8,632.7A178.1,178.1 0 0 0 805.4,627.7L805.6,628.0A178.5,178.5 0 0 0 810.0,622.8L810.9,623.5A179.6,179.6 0 0 0 815.1,618.1L815.1,618.1A179.6,179.6 0 0 0 819.1,612.6L818.0,611.9A178.3,178.3 0 0 0 821.8,606.2L821.8,606.2A178.3,178.3 0 0 0 825.3,600.4L825.5,600.5A178.4,178.4 0 0 0 828.8,594.6L828.8,594.6A178.4,178.4 0 0 0 831.9,588.6L833.1,589.2A179.7,179.7 0 0 0 836.0,583.0L836.0,583.0A179.7,179.7 0 0 0 838.6,576.7L838.9,576.8A180.0,180.0 0 0 0 841.3,570.4L841.3,570.4A180.0,180.0 0 0 0 843.5,563.9L843.0,563.7A179.5,179.5 0 0 0 844.9,557.2L844.9,557.2A179.5,179.5 0 0 0 846.6,550.6L844.9,550.2A177.8,177.8 0 0 0 846.3,543.6L846.3,543.6A177.8,177.8 0 0 0 847.5,536.9L847.3,536.9A177.7,177.7 0 0 0 848.2,530.2L850.0,530.4A179.5,179.5 0 0 0 850.7,523.6L849.6,523.5A178.4,178.4 0 0 0 850.0,516.8L850.0,516.8A178.4,178.4 0 0 0 850.1,510.0L825.2,510.0A153.5,153.5 0 1 1 671.7,356.5Z" fill="#00440e"/>
<path d="M671.7,358.5A151.5,151.5 0 1 0 823.2,510.0L809.2,510.0A137.5,137.5 0 1 1 671.7,372.5Z" fill="#c9c9c9"/>
<path d="M671.7,372.5L671.7,371.4A138.6,138.6 0 0 0 666.4,371.5L666.4,371.5A138.6,138.6 0 0 0 661.2,371.8L660.7,365.9A144.5,144.5 0 0 0 655.3,366.4L654.6,360.9A150.1,150.1 0 0 0 649.0,361.6L649.7,366.2A145.5,145.5 0 0 0 644.2,367.1L644.4,368.0A144.6,144.6 0 0 0 639.0,369.1L638.9,368.6A145.1,145.1 0 0 0 633.6,370.0L633.6,370.1A145.0,145.0 0 0 0 628.3,371.7L628.5,372.3A144.3,144.3 0 0 0 623.3,374.1L624.4,377.0A141.2,141.2 0 0 0 619.3,378.9L620.5,381.9A137.9,137.9 0 0 0 615.7,383.9L615.1,382.7A139.3,139.3 0 0 0 610.3,384.9L611.1,386.5A137.6,137.6 0 0 0 606.5,388.9L605.2,386.6A140.1,140.1 0 0 0 600.6,389.2L599.5,387.3A142.3,142.3 0 0 0 594.9,390.2L594.7,389.9A142.6,142.6 0 0 0 590.2,392.9L591.0,394.1A141.3,141.3 0 0 0 586.7,397.2L585.9,396.2A142.5,142.5 0 0 0 581.6,399.5L583.3,401.6A139.9,139.9 0 0 0 579.3,405.0L579.0,404.8A140.2,140.2 0 0 0 575.1,408.4L576.1,409.4A138.8,138.8 0 0 0 572.3,413.1L572.3,413.1A138.8,138.8 0 0 0 568.7,416.9L569.6,417.8A137.5,137.5 0 0 0 566.2,421.7L563.2,419.2A141.5,141.5 0 0 0 559.8,423.4L557.6,421.7A144.2,144.2 0 0 0 554.4,426.1L554.3,426.1A144.3,144.3 0 0 0 551.2,430.6L551.8,431.0A143.6,143.6 0 0 0 548.9,435.6L548.9,435.6A143.6,143.6 0 0 0 546.1,440.3L546.4,440.5A143.3,143.3 0 0 0 543.9,445.3L543.1,444.9A144.2,144.2 0 0 0 540.7,449.8L541.2,450.1A143.6,143.6 0 0 0 539.1,455.1L539.0,455.0A143.7,143.7 0 0 0 537.0,460.1L536.7,460.0A144.0,144.0 0 0 0 534.9,465.2L534.5,465.0A144.4,144.4 0 0 0 532.9,470.3L532.0,470.0A145.3,145.3 0 0 0 530.5,475.4L532.0,475.7A143.9,143.9 0 0 0 530.8,481.0L529.8,480.8A144.8,144.8 0 0 0 528.8,486.3L527.9,486.1A145.8,145.8 0 0 0 527.0,491.6L529.7,491.9A143.2,143.2 0 0 0 529.1,497.3L529.4,497.3A142.8,142.8 0 0 0 529.0,502.8L528.6,502.7A143.3,143.3 0 0 0 528.4,508.2L527.9,508.2A143.8,143.8 0 0 0 527.9,513.6L526.4,513.7A145.4,145.4 0 0 0 526.6,519.2L526.7,519.2A145.3,145.3 0 0 0 527.1,524.7L527.7,524.6A144.8,144.8 0 0 0 528.3,530.1L528.5,530.1A144.6,144.6 0 0 0 529.4,535.5L530.8,535.2A143.1,143.1 0 0 0 531.9,540.6L531.9,540.6A143.1,143.1 0 0 0 533.2,545.9L532.6,546.0A143.7,143.7 0 0 0 534.1,551.3L534.1,551.3A143.7,143.7 0 0 0 535.8,556.5L534.3,557.0A145.2,145.2 0 0 0 536.2,562.1L536.8,561.9A144.5,144.5 0 0 0 538.9,567.0L540.9,566.1A142.3,142.3 0 0 0 543.1,571.1L542.1,571.5A143.4,143.4 0 0 0 544.6,576.4L544.6,576.4A143.4,143.4 0 0 0 547.2,581.2L546.1,581.8A144.6,144.6 0 0 0 549.0,586.5L548.2,587.0A145.5,145.5 0 0 0 551.2,591.6L551.1,591.7A145.7,145.7 0 0 0 554.3,596.2L555.1,595.6A144.7,144.7 0 0 0 558.4,600.0L558.3,600.1A144.8,144.8 0 0 0 561.8,604.3L562.3,603.9A144.2,144.2 0 0 0 566.0,608.0L565.8,608.1A144.3,144.3 0 0 0 569.6,612.1L569.3,612.4A144.8,144.8 0 0 0 573.3,616.2L573.9,615.5A143.9,143.9 0 0 0 578.0,619.2L577.4,619.8A144.7,144.7 0 0 0 581.7,623.3L581.2,624.0A145.5,145.5 0 0 0 585.6,627.3L585.6,627.3A145.5,145.5 0 0 0 590.1,630.4L590.4,629.9A144.9,144.9 0 0 0 595.1,633.0L595.1,632.9A144.8,144.8 0 0 0 599.8,635.7L599.1,637.0A146.3,146.3 0 0 0 604.0,639.7L604.0,639.6A146.2,146.2 0 0 0 609.0,642.1L609.9,640.0A144.0,144.0 0 0 0 614.9,642.3L614.5,643.2A145.0,145.0 0 0 0 619.6,645.3L619.7,645.2A144.9,144.9 0 0 0 624.8,647.1L624.6,647.9A145.7,145.7 0 0 0 629.8,649.6L629.9,649.5A145.6,145.6 0 0 0 635.2,651.0L635.2,651.0A145.6,145.6 0 0 0 640.6,652.2L640.8,651.4A144.8,144.8 0 0 0 646.2,652.5L646.3,651.8A144.1,144.1 0 0 0 651.7,652.7L651.7,652.7A144.1,144.1 0 0 0 657.1,653.3L657.0,654.1A144.8,144.8 0 0 0 662.5,654.6L662.5,655.2A145.5,145.5 0 0 0 668.0,655.5L668.0,655.5A145.5,145.5 0 0 0 673.5,655.5L673.5,655.1A145.1,145.1 0 0 0 679.0,654.9L679.0,654.8A145.0,145.0 0 0 0 684.5,654.4L684.4,652.9A143.5,143.5 0 0 0 689.8,652.3L689.8,652.3A143.4,143.4 0 0 0 695.2,651.5L695.1,651.0A143.0,143.0 0 0 0 700.5,650.1L700.6,650.4A143.3,143.3 0 0 0 705.9,649.2L706.3,650.8A145.0,145.0 0 0 0 711.6,649.4L711.1,647.6A143.1,143.1 0 0 0 716.3,646.0L716.3,646.0A143.1,143.1 0 0 0 721.4,644.2L721.4,644.1A143.0,143.0 0 0 0 726.4,642.2L726.5,642.4A143.3,143.3 0 0 0 731.5,640.2L731.4,639.9A142.9,142.9 0 0 0 736.3,637.5L736.5,637.9A143.4,143.4 0 0 0 741.3,635.4L741.1,635.0A143.0,143.0 0 0 0 745.8,632.3L744.7,630.6A141.0,141.0 0 0 0 749.3,627.7L749.5,628.1A141.4,141.4 0 0 0 754.0,625.0L753.5,624.4A140.7,140.7 0 0 0 757.8,621.2L757.6,620.9A140.3,140.3 0 0 0 761.7,617.6L761.7,617.5A140.2,140.2 0 0 0 765.7,614.0L765.4,613.7A139.7,139.7 0 0 0 769.2,610.0L769.7,610.5A140.3,140.3 0 0 0 773.4,606.7L773.3,606.6A140.2,140.2 0 0 0 776.9,602.7L776.3,602.1A139.3,139.3 0 0 0 779.7,598.0L779.7,598.0A139.3,139.3 0 0 0 782.9,593.9L783.5,594.3A140.0,140.0 0 0 0 786.6,590.0L785.6,589.3A138.8,138.8 0 0 0 788.5,584.9L788.5,584.9A138.7,138.7 0 0 0 791.2,580.4L792.6,581.2A140.3,140.3 0 0 0 795.2,576.5L795.2,576.5A140.3,140.3 0 0 0 797.7,571.8L796.4,571.2A138.9,138.9 0 0 0 798.6,566.4L797.7,566.0A137.9,137.9 0 0 0 799.8,561.2L799.4,561.0A137.5,137.5 0 0 0 801.3,556.1L801.3,556.1A137.5,137.5 0 0 0 802.9,551.2L803.8,551.4A138.4,138.4 0 0 0 805.3,546.4L805.3,546.4A138.4,138.4 0 0 0 806.6,541.3L806.7,541.3A138.6,138.6 0 0 0 807.8,536.2L807.3,536.1A138.0,138.0 0 0 0 808.2,530.9L808.2,530.9A138.0,138.0 0 0 0 808.9,525.7L809.3,525.8A138.5,138.5 0 0 0 809.8,520.5L809.8,520.5A138.5,138.5 0 0 0 810.1,515.3L810.1,515.3A138.5,138.5 0 0 0 810.2,510.0L809.2,510.0A137.5,137.5 0 1 1 671.7,372.5Z" fill="#333"/>
<path d="M639.2,379.5A134.5,134.5 0 0 0 625.7,383.6L628.4,391.1A126.5,126.5 0 0 1 641.1,387.3Z" fill="#555"/>
<path d="M565.7,427.2A134.5,134.5 0 0 0 562.2,431.9L568.7,436.5A126.5,126.5 0 0 1 572.0,432.1Z" fill="#777"/>
<path d="M548.8,455.3A134.5,134.5 0 0 0 545.3,464.0L552.8,466.7A126.5,126.5 0 0 1 556.1,458.5Z" fill="#666"/>
<path d="M545.3,464.0A134.5,134.5 0 0 0 542.4,472.9L550.1,475.1A126.5,126.5 0 0 1 552.8,466.7Z" fill="#888"/>
<path d="M542.4,472.9A134.5,134.5 0 0 0 540.6,479.7L548.4,481.5A126.5,126.5 0 0 1 550.1,475.1Z" fill="#666"/>
<path d="M538.9,489.0A134.5,134.5 0 0 0 538.1,494.8L546.0,495.7A126.5,126.5 0 0 1 546.8,490.2Z" fill="#777"/>
<path d="M539.7,535.7A134.5,134.5 0 0 0 540.9,541.4L548.7,539.5A126.5,126.5 0 0 1 547.5,534.1Z" fill="#555"/>
<path d="M544.5,553.8A134.5,134.5 0 0 0 546.6,559.3L554.0,556.4A126.5,126.5 0 0 1 552.1,551.2Z" fill="#666"/>
<path d="M556.4,579.3A134.5,134.5 0 0 0 560.2,585.2L566.8,580.7A126.5,126.5 0 0 1 563.3,575.2Z" fill="#555"/>
<path d="M564.3,590.9A134.5,134.5 0 0 0 576.6,605.1L582.3,599.4A126.5,126.5 0 0 1 570.7,586.1Z" fill="#777"/>
<path d="M594.6,620.2A134.5,134.5 0 0 0 600.4,624.1L604.7,617.3A126.5,126.5 0 0 1 599.1,613.6Z" fill="#555"/>
<path d="M632.4,638.6A134.5,134.5 0 0 0 639.2,640.5L641.1,632.7A126.5,126.5 0 0 1 634.7,631.0Z" fill="#777"/>
<path d="M681.1,644.2A134.5,134.5 0 0 0 690.4,643.2L689.3,635.3A126.5,126.5 0 0 1 680.5,636.2Z" fill="#666"/>
<path d="M690.4,643.2A134.5,134.5 0 0 0 697.4,642.0L695.8,634.2A126.5,126.5 0 0 1 689.3,635.3Z" fill="#888"/>
<path d="M697.4,642.0A134.5,134.5 0 0 0 706.5,639.9L704.4,632.2A126.5,126.5 0 0 1 695.8,634.2Z" fill="#666"/>
<path d="M661.0,1244.0A468.0,468.0 0 1 0 1129.0,1712.0L1107.0,1712.0A446.0,446.0 0 1 1 661.0,1266.0Z" fill="#f0676c"/>
<path d="M597.1,1247.9A468.5,468.5 0 0 0 590.1,1248.9L593.5,1271.6A445.5,445.5 0 0 1 600.2,1270.7Z" fill="#1a7f8e"/>
<path d="M520.7,1265.0A468.5,468.5 0 0 0 514.0,1267.2L521.2,1289.0A445.5,445.5 0 0 1 527.6,1286.9Z" fill="#cfc8f7"/>
<path d="M348.7,1362.8A468.5,468.5 0 0 0 343.4,1367.6L359.0,1384.5A445.5,445.5 0 0 1 364.0,1379.9Z" fill="#1a7f8e"/>
<path d="M214.7,1569.5A468.5,468.5 0 0 0 212.6,1576.3L234.6,1582.9A445.5,445.5 0 0 1 236.6,1576.5Z" fill="#a3116e"/>
<path d="M192.5,1709.6A468.5,468.5 0 0 0 192.5,1716.7L215.5,1716.5A445.5,445.5 0 0 1 215.5,1709.7Z" fill="#6cc0c8"/>
<path d="M198.6,1787.6A468.5,468.5 0 0 0 199.8,1794.7L222.5,1790.6A445.5,445.5 0 0 1 221.3,1783.9Z" fill="#f5e52a"/>
<path d="M204.1,1815.6A468.5,468.5 0 0 0 205.7,1822.5L228.1,1817.1A445.5,445.5 0 0 1 226.5,1810.5Z" fill="#f4f4f4"/>
<path d="M207.5,1829.4A468.5,468.5 0 0 0 209.3,1836.3L231.5,1830.2A445.5,445.5 0 0 1 229.7,1823.7Z" fill="#f5a0c8"/>
<path d="M217.7,1863.5A468.5,468.5 0 0 0 220.0,1870.3L241.7,1862.5A445.5,445.5 0 0 1 239.4,1856.1Z" fill="#a3116e"/>
<path d="M300.9,2011.7A468.5,468.5 0 0 0 305.5,2017.2L323.0,2002.2A445.5,445.5 0 0 1 318.6,1997.0Z" fill="#a3116e"/>
<path d="M413.2,2109.6A468.5,468.5 0 0 0 419.3,2113.3L431.1,2093.6A445.5,445.5 0 0 1 425.3,2090.1Z" fill="#ffffff"/>
<path d="M425.4,2116.9A468.5,468.5 0 0 0 431.6,2120.5L442.8,2100.4A445.5,445.5 0 0 1 436.9,2097.1Z" fill="#6a6ad8"/>
<path d="M469.7,2139.7A468.5,468.5 0 0 0 476.2,2142.5L485.3,2121.4A445.5,445.5 0 0 1 479.1,2118.7Z" fill="#b5d8b8"/>
<path d="M476.2,2142.5A468.5,468.5 0 0 0 482.8,2145.3L491.6,2124.0A445.5,445.5 0 0 1 485.3,2121.4Z" fill="#a8e61d"/>
<path d="M489.4,2147.9A468.5,468.5 0 0 0 496.1,2150.5L504.2,2129.0A445.5,445.5 0 0 1 497.8,2126.5Z" fill="#1a7f8e"/>
<path d="M502.7,2153.0A468.5,468.5 0 0 0 516.2,2157.6L523.3,2135.7A445.5,445.5 0 0 1 510.5,2131.3Z" fill="#6cc0c8"/>
<path d="M564.4,2170.4A468.5,468.5 0 0 0 571.3,2171.8L575.7,2149.3A445.5,445.5 0 0 1 569.1,2147.9Z" fill="#ffffff"/>
<path d="M741.3,2173.6A468.5,468.5 0 0 0 748.3,2172.3L744.0,2149.7A445.5,445.5 0 0 1 737.4,2150.9Z" fill="#ffffff"/>
<path d="M755.3,2170.9A468.5,468.5 0 0 0 762.3,2169.4L757.3,2147.0A445.5,445.5 0 0 1 750.7,2148.4Z" fill="#1a7f8e"/>
<path d="M863.1,2134.7A468.5,468.5 0 0 0 869.5,2131.6L859.2,2111.0A445.5,445.5 0 0 1 853.1,2113.9Z" fill="#f4f4f4"/>
<path d="M869.5,2131.6A468.5,468.5 0 0 0 875.8,2128.4L865.3,2107.9A445.5,445.5 0 0 1 859.2,2111.0Z" fill="#cfc8f7"/>
<path d="M958.9,2073.6A468.5,468.5 0 0 0 964.4,2069.0L949.5,2051.5A445.5,445.5 0 0 1 944.3,2055.8Z" fill="#6cc0c8"/>
<path d="M1105.8,1859.0A468.5,468.5 0 0 0 1109.1,1848.9L1087.1,1842.1A445.5,445.5 0 0 1 1084.0,1851.8Z" fill="#6a6ad8"/>
<path d="M1113.9,1831.7A468.5,468.5 0 0 0 1116.2,1822.8L1093.9,1817.3A445.5,445.5 0 0 1 1091.7,1825.8Z" fill="#1a7f8e"/>
<path d="M1125.1,1775.9A468.5,468.5 0 0 0 1126.0,1768.8L1103.2,1766.0A445.5,445.5 0 0 1 1102.3,1772.8Z" fill="#0d3b42"/>
<path d="M1126.9,1761.8A468.5,468.5 0 0 0 1127.6,1754.7L1104.6,1752.6A445.5,445.5 0 0 1 1104.0,1759.3Z" fill="#f4f4f4"/>
<path d="M876.5,2100.2A444.0,444.0 0 0 0 882.4,2096.9L870.4,2076.1A420.0,420.0 0 0 1 864.8,2079.2Z" fill="#2cb5dd"/>
<path d="M661.0,1295.5A416.5,416.5 0 1 0 1077.5,1712.0L1034.5,1712.0A373.5,373.5 0 1 1 661.0,1338.5Z" fill="#b8e1cc"/>
<path d="M661.0,1338.5L661.0,1325.6A386.4,386.4 0 0 0 655.1,1325.6L655.2,1327.7A384.3,384.3 0 0 0 649.3,1327.8L649.3,1327.5A384.7,384.7 0 0 0 643.5,1327.7L643.5,1327.6A384.8,384.8 0 0 0 637.6,1327.9L637.5,1326.7A386.0,386.0 0 0 0 631.7,1327.1L631.7,1327.4A385.8,385.8 0 0 0 625.9,1327.9L625.9,1328.2A385.4,385.4 0 0 0 620.1,1328.7L620.0,1328.0A386.2,386.2 0 0 0 614.2,1328.7L614.1,1328.7A386.2,386.2 0 0 0 608.3,1329.4L608.5,1330.5A385.1,385.1 0 0 0 602.7,1331.4L602.6,1330.7A385.8,385.8 0 0 0 596.8,1331.6L596.8,1331.5A385.9,385.9 0 0 0 591.0,1332.5L591.0,1332.8A385.6,385.6 0 0 0 585.3,1333.9L585.2,1333.5A386.0,386.0 0 0 0 579.5,1334.7L579.2,1333.6A387.2,387.2 0 0 0 573.5,1334.8L573.4,1334.4A387.6,387.6 0 0 0 567.6,1335.8L567.8,1336.3A387.1,387.1 0 0 0 562.1,1337.7L562.0,1337.6A387.3,387.3 0 0 0 556.4,1339.2L556.3,1339.0A387.4,387.4 0 0 0 550.6,1340.6L550.6,1340.3A387.8,387.8 0 0 0 544.9,1342.0L544.9,1341.9A387.9,387.9 0 0 0 539.3,1343.7L539.2,1343.6A388.0,388.0 0 0 0 533.7,1345.5L533.7,1345.6A387.8,387.8 0 0 0 528.1,1347.6L528.2,1347.8A387.6,387.6 0 0 0 522.7,1349.9L522.5,1349.4A388.1,388.1 0 0 0 517.0,1351.5L517.2,1352.0A387.7,387.7 0 0 0 511.7,1354.2L511.8,1354.5A387.4,387.4 0 0 0 506.4,1356.8L506.4,1356.7A387.5,387.5 0 0 0 501.0,1359.1L500.8,1358.7A387.9,387.9 0 0 0 495.5,1361.2L495.6,1361.5A387.6,387.6 0 0 0 490.3,1364.0L490.2,1363.8A387.8,387.8 0 0 0 484.9,1366.5L484.4,1365.5A388.9,388.9 0 0 0 479.2,1368.2L478.8,1367.5A389.7,389.7 0 0 0 473.6,1370.3L473.5,1370.2A389.8,389.8 0 0 0 468.4,1373.1L468.2,1372.7A390.2,390.2 0 0 0 463.0,1375.7L463.0,1375.6A390.4,390.4 0 0 0 457.9,1378.6L457.6,1378.2A390.9,390.9 0 0 0 452.5,1381.3L452.7,1381.5A390.7,390.7 0 0 0 447.7,1384.7L448.6,1386.2A388.9,388.9 0 0 0 443.7,1389.4L442.8,1388.1A390.6,390.6 0 0 0 437.9,1391.4L437.7,1391.2A390.9,390.9 0 0 0 432.9,1394.6L432.8,1394.5A391.0,391.0 0 0 0 428.0,1398.0L427.9,1397.9A391.1,391.1 0 0 0 423.2,1401.5L424.3,1403.0A389.2,389.2 0 0 0 419.7,1406.7L418.9,1405.7A390.5,390.5 0 0 0 414.2,1409.4L414.4,1409.6A390.2,390.2 0 0 0 409.8,1413.4L410.2,1413.8A389.7,389.7 0 0 0 405.7,1417.6L405.3,1417.2A390.3,390.3 0 0 0 400.8,1421.1L400.1,1420.3A391.3,391.3 0 0 0 395.7,1424.3L395.3,1423.8A392.0,392.0 0 0 0 391.0,1427.9L391.1,1428.1A391.7,391.7 0 0 0 386.8,1432.2L386.7,1432.1A391.8,391.8 0 0 0 382.5,1436.3L382.5,1436.3A391.8,391.8 0 0 0 378.4,1440.6L378.8,1441.0A391.2,391.2 0 0 0 374.7,1445.3L375.7,1446.3A389.8,389.8 0 0 0 371.7,1450.7L371.9,1450.8A389.7,389.7 0 0 0 367.9,1455.2L367.9,1455.2A389.6,389.6 0 0 0 364.1,1459.7L364.1,1459.7A389.7,389.7 0 0 0 360.3,1464.2L358.7,1462.9A391.7,391.7 0 0 0 354.9,1467.5L354.9,1467.6A391.7,391.7 0 0 0 351.3,1472.2L352.6,1473.3A390.0,390.0 0 0 0 349.0,1478.0L348.8,1477.8A390.3,390.3 0 0 0 345.3,1482.6L344.1,1481.7A391.7,391.7 0 0 0 340.6,1486.6L340.6,1486.6A391.7,391.7 0 0 0 337.3,1491.5L339.0,1492.7A389.6,389.6 0 0 0 335.7,1497.6L335.1,1497.2A390.3,390.3 0 0 0 331.9,1502.2L332.2,1502.4A389.9,389.9 0 0 0 329.1,1507.4L328.7,1507.2A390.4,390.4 0 0 0 325.6,1512.3L326.6,1512.9A389.2,389.2 0 0 0 323.6,1518.0L321.1,1516.5A392.1,392.1 0 0 0 318.2,1521.7L319.8,1522.6A390.2,390.2 0 0 0 317.0,1527.9L317.1,1527.9A390.0,390.0 0 0 0 314.4,1533.2L314.4,1533.2A390.0,390.0 0 0 0 311.7,1538.5L311.8,1538.5A389.9,389.9 0 0 0 309.2,1543.9L310.3,1544.4A388.7,388.7 0 0 0 307.8,1549.7L307.2,1549.5A389.3,389.3 0 0 0 304.8,1554.9L304.8,1554.9A389.3,389.3 0 0 0 302.5,1560.3L302.3,1560.2A389.5,389.5 0 0 0 300.0,1565.7L298.5,1565.1A391.2,391.2 0 0 0 296.3,1570.6L298.4,1571.4A388.9,388.9 0 0 0 296.3,1576.9L296.3,1576.9A388.9,388.9 0 0 0 294.3,1582.5L293.6,1582.2A389.7,389.7 0 0 0 291.7,1587.8L290.5,1587.5A390.8,390.8 0 0 0 288.7,1593.1L289.7,1593.4A389.8,389.8 0 0 0 287.9,1599.1L287.9,1599.1A389.8,389.8 0 0 0 286.2,1604.8L286.1,1604.7A390.0,390.0 0 0 0 284.5,1610.4L283.2,1610.1A391.3,391.3 0 0 0 281.7,1615.8L283.3,1616.2A389.7,389.7 0 0 0 281.9,1622.0L281.7,1622.0A389.8,389.8 0 0 0 280.4,1627.7L280.4,1627.7A389.8,389.8 0 0 0 279.1,1633.5L278.8,1633.4A390.2,390.2 0 0 0 277.6,1639.3L278.2,1639.4A389.6,389.6 0 0 0 277.1,1645.2L277.3,1645.2A389.5,389.5 0 0 0 276.3,1651.1L275.9,1651.0A389.9,389.9 0 0 0 275.0,1656.9L275.0,1656.9A389.9,389.9 0 0 0 274.2,1662.7L274.3,1662.8A389.8,389.8 0 0 0 273.6,1668.6L273.6,1668.6A389.9,389.9 0 0 0 272.9,1674.5L272.9,1674.5A389.9,389.9 0 0 0 272.4,1680.4L272.6,1680.4A389.7,389.7 0 0 0 272.2,1686.3L272.0,1686.3A389.9,389.9 0 0 0 271.6,1692.3L271.7,1692.3A389.8,389.8 0 0 0 271.5,1698.2L271.5,1698.2A389.8,389.8 0 0 0 271.3,1704.1L270.0,1704.1A391.1,391.1 0 0 0 269.9,1710.0L269.4,1710.0A391.6,391.6 0 0 0 269.4,1716.0L270.0,1716.0A391.0,391.0 0 0 0 270.1,1721.9L270.8,1721.9A390.3,390.3 0 0 0 271.0,1727.8L271.1,1727.8A390.2,390.2 0 0 0 271.4,1733.7L269.6,1733.8A392.0,392.0 0 0 0 270.0,1739.8L272.8,1739.6A389.2,389.2 0 0 0 273.2,1745.5L273.0,1745.5A389.4,389.4 0 0 0 273.6,1751.4L274.4,1751.3A388.6,388.6 0 0 0 275.1,1757.2L274.6,1757.2A389.1,389.1 0 0 0 275.3,1763.1L275.3,1763.1A389.0,389.0 0 0 0 276.1,1769.0L273.9,1769.3A391.3,391.3 0 0 0 274.9,1775.2L274.3,1775.3A391.8,391.8 0 0 0 275.3,1781.1L275.1,1781.2A392.0,392.0 0 0 0 276.2,1787.0L276.2,1787.0A392.1,392.1 0 0 0 277.4,1792.9L277.0,1793.0A392.5,392.5 0 0 0 278.2,1798.8L278.2,1798.8A392.5,392.5 0 0 0 279.6,1804.6L282.3,1803.9A389.7,389.7 0 0 0 283.8,1809.7L283.7,1809.7A389.7,389.7 0 0 0 285.3,1815.4L285.6,1815.3A389.3,389.3 0 0 0 287.3,1821.0L287.3,1821.0A389.3,389.3 0 0 0 289.0,1826.6L286.0,1827.6A392.4,392.4 0 0 0 287.8,1833.3L288.3,1833.1A391.8,391.8 0 0 0 290.2,1838.7L291.3,1838.4A390.7,390.7 0 0 0 293.2,1844.0L293.7,1843.8A390.3,390.3 0 0 0 295.7,1849.4L295.8,1849.4A390.2,390.2 0 0 0 297.9,1854.9L298.1,1854.8A390.0,390.0 0 0 0 300.3,1860.3L300.4,1860.3A389.9,389.9 0 0 0 302.7,1865.8L302.1,1866.0A390.5,390.5 0 0 0 304.5,1871.4L303.6,1871.8A391.5,391.5 0 0 0 306.1,1877.2L306.4,1877.1A391.2,391.2 0 0 0 308.9,1882.5L309.5,1882.2A390.6,390.6 0 0 0 312.1,1887.6L313.6,1886.8A388.9,388.9 0 0 0 316.3,1892.1L316.1,1892.2A389.1,389.1 0 0 0 318.9,1897.4L318.4,1897.7A389.7,389.7 0 0 0 321.2,1902.8L321.3,1902.8A389.7,389.7 0 0 0 324.2,1908.0L325.1,1907.5A388.7,388.7 0 0 0 328.1,1912.6L328.1,1912.5A388.6,388.6 0 0 0 331.2,1917.6L330.8,1917.8A389.1,389.1 0 0 0 334.0,1922.8L334.1,1922.8A389.0,389.0 0 0 0 337.3,1927.7L336.7,1928.1A389.8,389.8 0 0 0 340.0,1933.0L340.0,1933.0A389.7,389.7 0 0 0 343.4,1937.8L343.7,1937.7A389.4,389.4 0 0 0 347.2,1942.5L347.2,1942.4A389.3,389.3 0 0 0 350.8,1947.2L350.8,1947.1A389.2,389.2 0 0 0 354.4,1951.8L354.5,1951.7A389.1,389.1 0 0 0 358.2,1956.4L358.3,1956.2A388.9,388.9 0 0 0 362.1,1960.8L362.1,1960.8A388.8,388.8 0 0 0 366.0,1965.3L366.3,1965.0A388.4,388.4 0 0 0 370.2,1969.5L370.2,1969.4A388.3,388.3 0 0 0 374.2,1973.8L374.4,1973.6A388.1,388.1 0 0 0 378.4,1977.9L377.8,1978.5A388.8,388.8 0 0 0 381.9,1982.7L382.4,1982.3A388.2,388.2 0 0 0 386.5,1986.5L386.6,1986.4A388.1,388.1 0 0 0 390.8,1990.6L390.5,1990.8A388.5,388.5 0 0 0 394.8,1994.9L394.5,1995.2A388.8,388.8 0 0 0 398.9,1999.2L398.9,1999.1A388.8,388.8 0 0 0 403.3,2003.1L403.6,2002.8A388.3,388.3 0 0 0 408.1,2006.6L408.1,2006.6A388.3,388.3 0 0 0 412.6,2010.4L412.5,2010.6A388.5,388.5 0 0 0 417.0,2014.3L417.7,2013.5A387.4,387.4 0 0 0 422.3,2017.1L422.4,2017.1A387.3,387.3 0 0 0 427.1,2020.6L427.4,2020.2A386.7,386.7 0 0 0 432.1,2023.7L431.5,2024.5A387.7,387.7 0 0 0 436.3,2027.9L436.2,2028.1A387.8,387.8 0 0 0 441.1,2031.4L440.8,2031.8A388.3,388.3 0 0 0 445.7,2035.1L446.1,2034.4A387.5,387.5 0 0 0 451.1,2037.7L451.6,2036.8A386.4,386.4 0 0 0 456.6,2040.0L456.3,2040.4A387.0,387.0 0 0 0 461.3,2043.5L460.6,2044.7A388.4,388.4 0 0 0 465.7,2047.7L465.5,2048.0A388.8,388.8 0 0 0 470.6,2050.9L470.5,2051.2A389.0,389.0 0 0 0 475.7,2054.0L475.7,2054.0A389.0,389.0 0 0 0 480.9,2056.8L481.0,2056.7A388.9,388.9 0 0 0 486.2,2059.4L486.2,2059.5A389.0,389.0 0 0 0 491.5,2062.1L491.3,2062.5A389.5,389.5 0 0 0 496.6,2065.1L495.4,2067.7A392.4,392.4 0 0 0 500.8,2070.2L499.7,2072.6A395.0,395.0 0 0 0 505.2,2075.0L505.2,2075.1A395.1,395.1 0 0 0 510.7,2077.4L512.0,2074.3A391.8,391.8 0 0 0 517.5,2076.6L517.5,2076.5A391.7,391.7 0 0 0 523.1,2078.6L523.0,2078.8A391.9,391.9 0 0 0 528.6,2080.9L520.3,2104.0A416.5,416.5 0 0 0 526.3,2106.1L535.9,2077.9A386.7,386.7 0 0 0 541.5,2079.7L541.9,2078.4A385.3,385.3 0 0 0 547.5,2080.2L547.7,2079.7A384.8,384.8 0 0 0 553.3,2081.4L553.3,2081.4A384.8,384.8 0 0 0 558.9,2083.0L558.7,2083.7A385.5,385.5 0 0 0 564.4,2085.2L564.5,2084.9A385.2,385.2 0 0 0 570.1,2086.3L570.1,2086.3A385.2,385.2 0 0 0 575.8,2087.7L575.9,2087.2A384.7,384.7 0 0 0 581.6,2088.5L581.6,2088.5A384.8,384.8 0 0 0 587.4,2089.6L587.4,2089.5A384.6,384.6 0 0 0 593.1,2090.6L593.1,2090.7A384.8,384.8 0 0 0 598.9,2091.7L598.9,2091.7A384.8,384.8 0 0 0 604.7,2092.6L604.6,2093.3A385.4,385.4 0 0 0 610.4,2094.1L610.5,2093.3A384.6,384.6 0 0 0 616.3,2094.0L616.3,2094.0A384.6,384.6 0 0 0 622.1,2094.6L622.1,2094.5A384.4,384.4 0 0 0 627.9,2095.0L627.9,2095.4A384.8,384.8 0 0 0 633.7,2095.8L633.7,2095.8A384.7,384.7 0 0 0 639.6,2096.1L639.6,2096.4A385.0,385.0 0 0 0 645.4,2096.6L645.4,2096.3A384.6,384.6 0 0 0 651.3,2096.5L651.2,2097.7A385.8,385.8 0 0 0 657.1,2097.8L657.1,2097.3A385.3,385.3 0 0 0 663.0,2097.3L663.0,2097.0A385.0,385.0 0 0 0 668.8,2096.9L668.8,2098.4A386.4,386.4 0 0 0 674.7,2098.2L674.7,2097.6A385.8,385.8 0 0 0 680.5,2097.3L680.5,2097.3A385.8,385.8 0 0 0 686.4,2097.0L686.3,2096.0A384.8,384.8 0 0 0 692.2,2095.6L692.2,2095.4A384.7,384.7 0 0 0 698.0,2094.9L698.0,2094.7A384.5,384.5 0 0 0 703.8,2094.1L703.8,2094.5A384.9,384.9 0 0 0 709.6,2093.8L709.7,2094.0A385.1,385.1 0 0 0 715.5,2093.2L715.5,2093.2A385.1,385.1 0 0 0 721.2,2092.4L721.2,2092.4A385.1,385.1 0 0 0 727.0,2091.4L727.0,2091.4A385.1,385.1 0 0 0 732.8,2090.4L732.8,2090.6A385.3,385.3 0 0 0 738.6,2089.4L738.6,2089.5A385.4,385.4 0 0 0 744.3,2088.2L744.5,2089.1A386.3,386.3 0 0 0 750.2,2087.8L750.0,2087.1A385.5,385.5 0 0 0 755.7,2085.7L755.8,2086.0A385.9,385.9 0 0 0 761.5,2084.5L761.6,2085.0A386.4,386.4 0 0 0 767.3,2083.4L766.9,2082.0A384.9,384.9 0 0 0 772.5,2080.4L773.0,2082.0A386.6,386.6 0 0 0 778.6,2080.3L778.5,2080.0A386.3,386.3 0 0 0 784.1,2078.1L784.1,2078.1A386.3,386.3 0 0 0 789.6,2076.2L789.3,2075.4A385.4,385.4 0 0 0 794.8,2073.4L794.9,2073.6A385.6,385.6 0 0 0 800.4,2071.6L800.9,2072.8A387.0,387.0 0 0 0 806.4,2070.7L806.3,2070.5A386.8,386.8 0 0 0 811.7,2068.2L811.8,2068.4A387.0,387.0 0 0 0 817.2,2066.1L816.8,2065.1A385.9,385.9 0 0 0 822.1,2062.6L822.2,2062.8A386.1,386.1 0 0 0 827.5,2060.3L827.5,2060.3A386.0,386.0 0 0 0 832.7,2057.7L832.8,2057.9A386.2,386.2 0 0 0 838.1,2055.2L838.7,2056.4A387.6,387.6 0 0 0 843.9,2053.7L844.3,2054.4A388.4,388.4 0 0 0 849.5,2051.6L849.6,2051.8A388.6,388.6 0 0 0 854.7,2048.9L854.3,2048.0A387.7,387.7 0 0 0 859.3,2045.1L859.2,2044.9A387.4,387.4 0 0 0 864.3,2041.8L864.2,2041.7A387.3,387.3 0 0 0 869.2,2038.6L869.3,2038.8A387.5,387.5 0 0 0 874.2,2035.6L874.2,2035.4A387.3,387.3 0 0 0 879.0,2032.1L880.6,2034.4A390.1,390.1 0 0 0 885.5,2031.0L885.1,2030.5A389.4,389.4 0 0 0 889.9,2027.0L890.0,2027.2A389.6,389.6 0 0 0 894.8,2023.7L894.7,2023.5A389.4,389.4 0 0 0 899.4,2019.9L899.4,2020.0A389.5,389.5 0 0 0 904.0,2016.3L904.1,2016.4A389.5,389.5 0 0 0 908.7,2012.6L908.7,2012.7A389.5,389.5 0 0 0 913.2,2008.9L914.4,2010.2A391.3,391.3 0 0 0 918.9,2006.3L919.4,2006.9A392.0,392.0 0 0 0 923.8,2002.9L924.0,2003.1A392.3,392.3 0 0 0 928.4,1999.0L928.5,1999.2A392.4,392.4 0 0 0 932.8,1995.1L931.1,1993.3A389.9,389.9 0 0 0 935.3,1989.1L935.8,1989.6A390.7,390.7 0 0 0 940.0,1985.4L940.2,1985.5A390.8,390.8 0 0 0 944.3,1981.3L944.4,1981.4A391.1,391.1 0 0 0 948.5,1977.1L948.6,1977.2A391.2,391.2 0 0 0 952.6,1972.8L952.4,1972.6A390.9,390.9 0 0 0 956.3,1968.1L956.3,1968.2A391.0,391.0 0 0 0 960.2,1963.6L960.2,1963.7A391.0,391.0 0 0 0 964.0,1959.1L964.1,1959.2A391.1,391.1 0 0 0 967.8,1954.5L968.0,1954.7A391.3,391.3 0 0 0 971.7,1950.0L972.7,1950.7A392.6,392.6 0 0 0 976.3,1946.0L976.2,1945.9A392.5,392.5 0 0 0 979.7,1941.1L979.3,1940.8A392.0,392.0 0 0 0 982.8,1935.9L981.2,1934.9A390.1,390.1 0 0 0 984.5,1930.0L984.5,1929.9A390.0,390.0 0 0 0 987.7,1925.0L989.6,1926.2A392.2,392.2 0 0 0 992.8,1921.1L992.6,1921.0A392.0,392.0 0 0 0 995.8,1916.0L995.7,1915.9A391.9,391.9 0 0 0 998.7,1910.8L998.2,1910.5A391.3,391.3 0 0 0 1001.2,1905.4L999.9,1904.6A389.8,389.8 0 0 0 1002.8,1899.4L1002.8,1899.4A389.8,389.8 0 0 0 1005.6,1894.2L1005.0,1893.9A389.1,389.1 0 0 0 1007.7,1888.6L1007.2,1888.4A388.5,388.5 0 0 0 1009.8,1883.1L1009.9,1883.1A388.6,388.6 0 0 0 1012.5,1877.8L1010.7,1877.0A386.6,386.6 0 0 0 1013.1,1871.6L1012.0,1871.1A385.4,385.4 0 0 0 1014.4,1865.8L1014.2,1865.7A385.2,385.2 0 0 0 1016.5,1860.3L1017.4,1860.7A386.2,386.2 0 0 0 1019.6,1855.3L1019.5,1855.2A386.0,386.0 0 0 0 1021.6,1849.7L1021.6,1849.7A386.0,386.0 0 0 0 1023.6,1844.2L1022.7,1843.9A385.0,385.0 0 0 0 1024.7,1838.4L1024.3,1838.2A384.6,384.6 0 0 0 1026.2,1832.7L1026.0,1832.6A384.4,384.4 0 0 0 1027.8,1827.1L1028.4,1827.3A385.1,385.1 0 0 0 1030.1,1821.7L1030.0,1821.6A384.9,384.9 0 0 0 1031.6,1816.0L1030.8,1815.8A384.0,384.0 0 0 0 1032.3,1810.1L1031.5,1809.9A383.2,383.2 0 0 0 1032.9,1804.3L1032.4,1804.2A382.7,382.7 0 0 0 1033.8,1798.5L1034.1,1798.6A383.0,383.0 0 0 0 1035.4,1792.9L1035.3,1792.9A382.9,382.9 0 0 0 1036.5,1787.2L1036.3,1787.1A382.8,382.8 0 0 0 1037.4,1781.4L1037.4,1781.4A382.8,382.8 0 0 0 1038.4,1775.7L1037.8,1775.6A382.1,382.1 0 0 0 1038.7,1769.9L1039.4,1770.0A382.8,382.8 0 0 0 1040.2,1764.2L1039.9,1764.2A382.5,382.5 0 0 0 1040.6,1758.4L1039.4,1758.2A381.2,381.2 0 0 0 1040.0,1752.5L1039.8,1752.5A381.0,381.0 0 0 0 1040.4,1746.7L1039.2,1746.6A379.8,379.8 0 0 0 1039.7,1740.8L1039.3,1740.8A379.4,379.4 0 0 0 1039.7,1735.1L1040.9,1735.1A380.6,380.6 0 0 0 1041.2,1729.4L1040.6,1729.3A379.9,379.9 0 0 0 1040.8,1723.5L1039.7,1723.5A378.9,378.9 0 0 0 1039.8,1717.8L1038.9,1717.7A377.9,377.9 0 0 0 1038.9,1712.0L1034.5,1712.0A373.5,373.5 0 1 1 661.0,1338.5Z" fill="#138241"/>
<path d="M661.0,1342.5A369.5,369.5 0 1 0 1030.5,1712.0L986.5,1712.0A325.5,325.5 0 1 1 661.0,1386.5Z" fill="#b8e1cc"/>
<path d="M661.0,1386.5L661.0,1362.5A349.5,349.5 0 0 0 655.7,1362.5L655.7,1365.7A346.3,346.3 0 0 0 650.5,1365.8L650.5,1365.7A346.4,346.4 0 0 0 645.2,1365.9L645.2,1365.4A346.9,346.9 0 0 0 639.9,1365.7L639.8,1364.5A348.2,348.2 0 0 0 634.6,1364.8L634.6,1365.4A347.6,347.6 0 0 0 629.3,1365.9L629.3,1365.9A347.6,347.6 0 0 0 624.1,1366.4L624.1,1366.6A347.3,347.3 0 0 0 618.9,1367.2L618.7,1366.1A348.4,348.4 0 0 0 613.5,1366.8L613.8,1369.0A346.2,346.2 0 0 0 608.6,1369.7L608.5,1369.1A346.9,346.9 0 0 0 603.3,1369.9L603.3,1369.9A347.0,347.0 0 0 0 598.1,1370.8L598.0,1370.4A347.4,347.4 0 0 0 592.8,1371.4L592.8,1371.4A347.4,347.4 0 0 0 587.6,1372.5L587.3,1370.9A349.0,349.0 0 0 0 582.1,1372.0L582.1,1372.1A348.9,348.9 0 0 0 577.0,1373.3L577.1,1374.0A348.3,348.3 0 0 0 572.0,1375.3L572.0,1375.2A348.4,348.4 0 0 0 566.9,1376.6L566.8,1376.5A348.5,348.5 0 0 0 561.7,1378.0L562.0,1378.9A347.5,347.5 0 0 0 557.0,1380.4L557.0,1380.4A347.5,347.5 0 0 0 551.9,1382.0L551.9,1381.8A347.7,347.7 0 0 0 546.9,1383.5L546.9,1383.5A347.8,347.8 0 0 0 541.9,1385.3L541.7,1384.7A348.4,348.4 0 0 0 536.7,1386.6L536.8,1386.9A348.0,348.0 0 0 0 531.9,1388.8L532.2,1389.6A347.2,347.2 0 0 0 527.3,1391.6L527.1,1391.0A347.8,347.8 0 0 0 522.2,1393.1L522.5,1393.8A347.1,347.1 0 0 0 517.7,1395.9L517.7,1395.8A347.2,347.2 0 0 0 512.9,1398.0L513.1,1398.6A346.5,346.5 0 0 0 508.4,1400.9L508.3,1400.8A346.6,346.6 0 0 0 503.6,1403.2L502.6,1401.1A348.9,348.9 0 0 0 497.9,1403.5L497.7,1403.3A349.2,349.2 0 0 0 493.1,1405.8L493.1,1405.8A349.2,349.2 0 0 0 488.4,1408.4L487.7,1407.1A350.7,350.7 0 0 0 483.1,1409.8L483.1,1409.8A350.7,350.7 0 0 0 478.5,1412.5L478.5,1412.4A350.8,350.8 0 0 0 473.9,1415.2L474.1,1415.6A350.4,350.4 0 0 0 469.7,1418.5L470.9,1420.3A348.2,348.2 0 0 0 466.4,1423.2L465.0,1421.1A350.7,350.7 0 0 0 460.6,1424.1L460.1,1423.3A351.7,351.7 0 0 0 455.7,1426.4L455.9,1426.7A351.3,351.3 0 0 0 451.6,1429.9L451.3,1429.4A351.9,351.9 0 0 0 447.0,1432.6L449.8,1436.3A347.3,347.3 0 0 0 445.7,1439.5L444.6,1438.2A349.0,349.0 0 0 0 440.5,1441.5L440.6,1441.7A348.8,348.8 0 0 0 436.5,1445.1L436.4,1445.0A348.9,348.9 0 0 0 432.4,1448.4L431.9,1447.8A349.7,349.7 0 0 0 427.9,1451.3L427.8,1451.3A349.8,349.8 0 0 0 423.9,1454.8L423.0,1453.8A351.2,351.2 0 0 0 419.1,1457.5L419.0,1457.4A351.3,351.3 0 0 0 415.1,1461.1L415.2,1461.2A351.2,351.2 0 0 0 411.4,1465.0L411.4,1464.9A351.2,351.2 0 0 0 407.7,1468.7L407.9,1469.0A350.9,350.9 0 0 0 404.2,1472.8L405.9,1474.4A348.6,348.6 0 0 0 402.4,1478.3L401.9,1477.9A349.2,349.2 0 0 0 398.3,1481.9L398.2,1481.7A349.5,349.5 0 0 0 394.7,1485.7L394.9,1485.9A349.2,349.2 0 0 0 391.4,1489.9L389.0,1487.9A352.5,352.5 0 0 0 385.6,1492.0L385.4,1491.9A352.8,352.8 0 0 0 382.0,1496.1L383.9,1497.5A350.5,350.5 0 0 0 380.6,1501.7L380.7,1501.7A350.4,350.4 0 0 0 377.5,1506.0L376.2,1505.1A352.0,352.0 0 0 0 373.1,1509.5L372.9,1509.3A352.3,352.3 0 0 0 369.8,1513.7L371.9,1515.1A349.8,349.8 0 0 0 368.9,1519.5L368.0,1518.9A350.9,350.9 0 0 0 365.1,1523.4L365.2,1523.4A350.8,350.8 0 0 0 362.4,1528.0L362.6,1528.1A350.5,350.5 0 0 0 359.9,1532.7L361.6,1533.7A348.5,348.5 0 0 0 358.9,1538.3L355.2,1536.2A352.7,352.7 0 0 0 352.6,1540.8L354.5,1541.9A350.6,350.6 0 0 0 351.9,1546.6L351.5,1546.3A351.0,351.0 0 0 0 349.0,1551.1L349.0,1551.0A351.1,351.1 0 0 0 346.6,1555.8L346.3,1555.6A351.4,351.4 0 0 0 344.0,1560.5L346.1,1561.5A349.0,349.0 0 0 0 343.9,1566.3L343.1,1566.0A349.8,349.8 0 0 0 341.0,1570.8L340.8,1570.7A350.0,350.0 0 0 0 338.7,1575.6L338.7,1575.6A349.9,349.9 0 0 0 336.7,1580.5L333.9,1579.4A352.9,352.9 0 0 0 331.9,1584.4L335.4,1585.7A349.2,349.2 0 0 0 333.5,1590.7L333.6,1590.7A349.2,349.2 0 0 0 331.8,1595.7L330.9,1595.4A350.0,350.0 0 0 0 329.2,1600.5L327.6,1599.9A351.8,351.8 0 0 0 325.9,1605.0L326.9,1605.3A350.7,350.7 0 0 0 325.4,1610.4L325.4,1610.4A350.6,350.6 0 0 0 323.9,1615.6L323.1,1615.3A351.5,351.5 0 0 0 321.6,1620.5L320.0,1620.0A353.2,353.2 0 0 0 318.7,1625.2L322.1,1626.1A349.6,349.6 0 0 0 320.8,1631.2L320.9,1631.3A349.6,349.6 0 0 0 319.7,1636.4L318.9,1636.3A350.4,350.4 0 0 0 317.8,1641.5L317.9,1641.5A350.3,350.3 0 0 0 316.8,1646.7L317.7,1646.9A349.4,349.4 0 0 0 316.8,1652.1L316.9,1652.1A349.3,349.3 0 0 0 316.0,1657.4L316.3,1657.4A349.0,349.0 0 0 0 315.5,1662.7L315.0,1662.6A349.5,349.5 0 0 0 314.3,1667.8L314.4,1667.9A349.4,349.4 0 0 0 313.7,1673.1L313.8,1673.1A349.3,349.3 0 0 0 313.3,1678.4L313.9,1678.5A348.7,348.7 0 0 0 313.5,1683.8L313.7,1683.8A348.4,348.4 0 0 0 313.3,1689.1L313.4,1689.1A348.3,348.3 0 0 0 313.1,1694.4L312.4,1694.3A349.1,349.1 0 0 0 312.2,1699.6L312.3,1699.6A348.9,348.9 0 0 0 312.1,1704.9L310.5,1704.9A350.6,350.6 0 0 0 310.4,1710.2L310.8,1710.2A350.2,350.2 0 0 0 310.8,1715.5L311.8,1715.5A349.2,349.2 0 0 0 311.9,1720.8L312.6,1720.8A348.5,348.5 0 0 0 312.8,1726.1L312.8,1726.1A348.5,348.5 0 0 0 313.1,1731.4L311.3,1731.5A350.3,350.3 0 0 0 311.6,1736.8L314.8,1736.6A347.1,347.1 0 0 0 315.2,1741.9L315.3,1741.9A347.0,347.0 0 0 0 315.8,1747.1L316.5,1747.0A346.3,346.3 0 0 0 317.1,1752.3L317.3,1752.2A346.0,346.0 0 0 0 318.0,1757.5L318.0,1757.4A346.0,346.0 0 0 0 318.7,1762.7L315.2,1763.2A349.6,349.6 0 0 0 316.0,1768.4L316.1,1768.4A349.5,349.5 0 0 0 317.0,1773.7L316.8,1773.7A349.7,349.7 0 0 0 317.8,1778.9L318.0,1778.9A349.5,349.5 0 0 0 319.0,1784.1L319.1,1784.1A349.4,349.4 0 0 0 320.2,1789.3L319.4,1789.5A350.3,350.3 0 0 0 320.6,1794.6L324.8,1793.6A346.0,346.0 0 0 0 326.0,1798.7L326.1,1798.7A346.0,346.0 0 0 0 327.4,1803.8L327.3,1803.8A346.1,346.1 0 0 0 328.7,1808.9L328.8,1808.9A346.0,346.0 0 0 0 330.3,1813.9L327.0,1814.9A349.5,349.5 0 0 0 328.6,1820.0L330.0,1819.5A348.0,348.0 0 0 0 331.7,1824.6L333.0,1824.1A346.6,346.6 0 0 0 334.7,1829.1L334.8,1829.1A346.5,346.5 0 0 0 336.6,1834.0L336.3,1834.1A346.9,346.9 0 0 0 338.2,1839.1L338.3,1839.0A346.8,346.8 0 0 0 340.2,1843.9L340.9,1843.7A346.2,346.2 0 0 0 342.9,1848.5L342.3,1848.8A346.9,346.9 0 0 0 344.4,1853.6L343.3,1854.1A348.0,348.0 0 0 0 345.5,1858.9L346.3,1858.5A347.2,347.2 0 0 0 348.5,1863.3L348.6,1863.3A347.1,347.1 0 0 0 351.0,1868.0L353.0,1867.0A344.7,344.7 0 0 0 355.4,1871.6L355.5,1871.6A344.6,344.6 0 0 0 358.0,1876.2L357.9,1876.2A344.7,344.7 0 0 0 360.5,1880.8L360.1,1881.0A345.1,345.1 0 0 0 362.7,1885.6L362.8,1885.5A345.0,345.0 0 0 0 365.5,1890.0L365.4,1890.1A345.1,345.1 0 0 0 368.2,1894.5L368.7,1894.2A344.5,344.5 0 0 0 371.5,1898.6L371.2,1898.8A344.8,344.8 0 0 0 374.1,1903.2L373.5,1903.6A345.5,345.5 0 0 0 376.5,1907.9L376.5,1907.9A345.4,345.4 0 0 0 379.5,1912.2L380.1,1911.7A344.6,344.6 0 0 0 383.2,1916.0L383.2,1916.0A344.6,344.6 0 0 0 386.4,1920.2L386.5,1920.1A344.5,344.5 0 0 0 389.7,1924.2L390.2,1923.8A343.8,343.8 0 0 0 393.4,1927.9L393.6,1927.8A343.7,343.7 0 0 0 396.9,1931.9L396.6,1932.1A344.0,344.0 0 0 0 400.0,1936.0L400.1,1935.9A343.8,343.8 0 0 0 403.6,1939.9L403.3,1940.1A344.1,344.1 0 0 0 406.8,1944.0L407.5,1943.4A343.2,343.2 0 0 0 411.0,1947.2L410.7,1947.5A343.7,343.7 0 0 0 414.3,1951.3L414.5,1951.1A343.4,343.4 0 0 0 418.2,1954.8L418.3,1954.7A343.3,343.3 0 0 0 422.0,1958.4L422.1,1958.2A343.1,343.1 0 0 0 425.9,1961.8L426.0,1961.8A343.0,343.0 0 0 0 429.8,1965.3L429.9,1965.2A342.8,342.8 0 0 0 433.8,1968.7L433.8,1968.6A342.7,342.7 0 0 0 437.8,1972.0L437.6,1972.3A343.0,343.0 0 0 0 441.6,1975.6L441.6,1975.6A342.9,342.9 0 0 0 445.6,1978.9L446.7,1977.6A341.3,341.3 0 0 0 450.7,1980.8L451.0,1980.5A340.9,340.9 0 0 0 455.1,1983.6L455.2,1983.6A340.8,340.8 0 0 0 459.3,1986.7L458.5,1987.7A342.1,342.1 0 0 0 462.8,1990.8L462.6,1990.9A342.3,342.3 0 0 0 466.9,1993.9L467.0,1993.7A342.0,342.0 0 0 0 471.3,1996.6L471.4,1996.5A341.9,341.9 0 0 0 475.8,1999.4L476.4,1998.3A340.7,340.7 0 0 0 480.8,2001.1L480.9,2001.0A340.6,340.6 0 0 0 485.3,2003.7L484.5,2005.0A342.1,342.1 0 0 0 489.0,2007.7L488.8,2007.9A342.4,342.4 0 0 0 493.3,2010.5L493.2,2010.7A342.6,342.6 0 0 0 497.8,2013.2L498.1,2012.7A342.0,342.0 0 0 0 502.6,2015.2L502.5,2015.5A342.4,342.4 0 0 0 507.1,2017.9L507.0,2018.0A342.6,342.6 0 0 0 511.7,2020.3L511.8,2020.2A342.4,342.4 0 0 0 516.5,2022.4L515.1,2025.3A345.6,345.6 0 0 0 519.9,2027.4L518.8,2030.0A348.3,348.3 0 0 0 523.6,2032.1L523.8,2031.7A347.9,347.9 0 0 0 528.7,2033.8L530.0,2030.6A344.5,344.5 0 0 0 534.8,2032.5L534.7,2032.9A344.9,344.9 0 0 0 539.6,2034.8L539.6,2034.7A344.8,344.8 0 0 0 544.5,2036.5L537.7,2055.6A365.1,365.1 0 0 0 542.9,2057.5L550.5,2035.3A341.7,341.7 0 0 0 555.4,2037.0L555.9,2035.4A340.1,340.1 0 0 0 560.8,2037.0L560.8,2037.0A340.1,340.1 0 0 0 565.8,2038.5L565.7,2038.7A340.3,340.3 0 0 0 570.7,2040.1L570.7,2040.2A340.4,340.4 0 0 0 575.7,2041.5L575.7,2041.5A340.3,340.3 0 0 0 580.7,2042.7L580.7,2042.8A340.4,340.4 0 0 0 585.7,2044.0L585.9,2043.2A339.6,339.6 0 0 0 591.0,2044.3L590.9,2044.7A340.0,340.0 0 0 0 595.9,2045.7L595.9,2045.7A340.0,340.0 0 0 0 601.0,2046.6L601.0,2046.7A340.1,340.1 0 0 0 606.1,2047.6L606.1,2047.6A340.1,340.1 0 0 0 611.2,2048.4L611.3,2048.0A339.6,339.6 0 0 0 616.4,2048.7L616.5,2048.0A338.9,338.9 0 0 0 621.6,2048.6L621.6,2048.6A338.9,338.9 0 0 0 626.7,2049.1L626.7,2049.5A339.2,339.2 0 0 0 631.8,2049.9L631.8,2050.1A339.4,339.4 0 0 0 636.9,2050.5L636.9,2051.4A340.2,340.2 0 0 0 642.0,2051.7L642.0,2051.7A340.2,340.2 0 0 0 647.2,2052.0L647.2,2052.2A340.5,340.5 0 0 0 652.4,2052.3L652.4,2052.5A340.6,340.6 0 0 0 657.5,2052.6L657.5,2052.5A340.5,340.5 0 0 0 662.7,2052.5L662.7,2052.1A340.1,340.1 0 0 0 667.9,2052.0L667.9,2053.0A341.1,341.1 0 0 0 673.1,2052.9L673.1,2052.9A341.1,341.1 0 0 0 678.3,2052.6L678.3,2053.4A341.8,341.8 0 0 0 683.5,2053.1L683.4,2051.0A339.8,339.8 0 0 0 688.5,2050.7L688.5,2050.1A339.2,339.2 0 0 0 693.6,2049.6L693.6,2049.6A339.2,339.2 0 0 0 698.7,2049.1L698.9,2050.1A340.3,340.3 0 0 0 704.0,2049.5L704.0,2049.6A340.4,340.4 0 0 0 709.1,2048.9L709.1,2048.9A340.4,340.4 0 0 0 714.2,2048.2L714.1,2047.4A339.6,339.6 0 0 0 719.2,2046.6L719.2,2046.6A339.6,339.6 0 0 0 724.3,2045.6L724.3,2045.8A339.7,339.7 0 0 0 729.4,2044.8L729.2,2044.0A339.0,339.0 0 0 0 734.3,2043.0L734.5,2044.1A340.2,340.2 0 0 0 739.6,2043.0L739.7,2043.5A340.7,340.7 0 0 0 744.7,2042.2L744.9,2042.8A341.3,341.3 0 0 0 749.9,2041.5L749.9,2041.5A341.3,341.3 0 0 0 754.9,2040.1L754.3,2038.0A339.0,339.0 0 0 0 759.2,2036.5L759.9,2038.8A341.5,341.5 0 0 0 764.9,2037.3L764.7,2036.6A340.8,340.8 0 0 0 769.6,2035.0L769.4,2034.3A340.1,340.1 0 0 0 774.2,2032.7L774.2,2032.7A340.1,340.1 0 0 0 779.1,2030.9L779.4,2031.8A341.0,341.0 0 0 0 784.3,2030.0L784.7,2031.1A342.3,342.3 0 0 0 789.6,2029.2L789.6,2029.3A342.4,342.4 0 0 0 794.4,2027.4L794.5,2027.5A342.6,342.6 0 0 0 799.3,2025.5L798.4,2023.4A340.3,340.3 0 0 0 803.1,2021.2L803.2,2021.4A340.5,340.5 0 0 0 807.8,2019.2L808.1,2019.7A341.1,341.1 0 0 0 812.8,2017.5L812.4,2016.8A340.3,340.3 0 0 0 817.0,2014.4L817.8,2016.0A342.1,342.1 0 0 0 822.4,2013.6L822.5,2013.7A342.3,342.3 0 0 0 827.1,2011.3L827.4,2011.8A342.9,342.9 0 0 0 831.9,2009.2L831.0,2007.6A341.0,341.0 0 0 0 835.5,2005.0L835.3,2004.7A340.7,340.7 0 0 0 839.8,2002.1L840.2,2002.8A341.6,341.6 0 0 0 844.6,2000.1L844.7,2000.1A341.7,341.7 0 0 0 849.0,1997.3L849.1,1997.4A341.8,341.8 0 0 0 853.4,1994.5L855.0,1996.9A344.7,344.7 0 0 0 859.3,1993.9L858.7,1993.1A343.6,343.6 0 0 0 863.0,1990.0L863.1,1990.2A343.9,343.9 0 0 0 867.3,1987.1L867.7,1987.5A344.4,344.4 0 0 0 871.8,1984.4L871.4,1983.8A343.7,343.7 0 0 0 875.5,1980.6L875.7,1980.8A344.0,344.0 0 0 0 879.7,1977.5L880.2,1978.1A344.8,344.8 0 0 0 884.3,1974.7L885.7,1976.4A347.0,347.0 0 0 0 889.7,1973.0L889.7,1973.1A347.1,347.1 0 0 0 893.7,1969.6L893.9,1969.8A347.4,347.4 0 0 0 897.8,1966.2L898.2,1966.7A348.1,348.1 0 0 0 902.1,1963.1L899.8,1960.7A344.8,344.8 0 0 0 903.6,1957.1L904.1,1957.6A345.6,345.6 0 0 0 907.8,1953.9L908.0,1954.0A345.8,345.8 0 0 0 911.6,1950.3L912.1,1950.7A346.4,346.4 0 0 0 915.7,1946.8L915.8,1946.9A346.6,346.6 0 0 0 919.3,1943.0L919.2,1942.9A346.4,346.4 0 0 0 922.7,1938.9L922.6,1938.9A346.2,346.2 0 0 0 926.0,1934.9L926.1,1935.0A346.4,346.4 0 0 0 929.5,1930.9L929.4,1930.8A346.3,346.3 0 0 0 932.7,1926.7L932.7,1926.8A346.4,346.4 0 0 0 936.0,1922.6L937.5,1923.8A348.3,348.3 0 0 0 940.7,1919.6L941.3,1920.0A349.0,349.0 0 0 0 944.4,1915.7L944.4,1915.7A349.0,349.0 0 0 0 947.5,1911.4L945.6,1910.1A346.8,346.8 0 0 0 948.6,1905.8L948.7,1905.8A346.9,346.9 0 0 0 951.6,1901.4L953.9,1902.9A349.7,349.7 0 0 0 956.8,1898.5L956.6,1898.3A349.4,349.4 0 0 0 959.4,1893.8L959.5,1893.9A349.5,349.5 0 0 0 962.2,1889.3L962.1,1889.2A349.4,349.4 0 0 0 964.7,1884.6L964.3,1884.4A348.8,348.8 0 0 0 966.9,1879.7L966.8,1879.7A348.7,348.7 0 0 0 969.3,1875.0L969.3,1875.1A348.8,348.8 0 0 0 971.8,1870.4L972.1,1870.5A349.2,349.2 0 0 0 974.5,1865.8L975.2,1866.1A350.0,350.0 0 0 0 977.5,1861.3L975.2,1860.2A347.4,347.4 0 0 0 977.4,1855.5L977.1,1855.3A347.0,347.0 0 0 0 979.2,1850.5L979.2,1850.5A347.0,347.0 0 0 0 981.3,1845.6L984.0,1846.8A350.0,350.0 0 0 0 986.1,1841.8L986.1,1841.8A350.0,350.0 0 0 0 988.0,1836.9L989.2,1837.4A351.4,351.4 0 0 0 991.1,1832.4L991.1,1832.4A351.4,351.4 0 0 0 992.9,1827.3L992.7,1827.3A351.2,351.2 0 0 0 994.4,1822.2L994.8,1822.3A351.5,351.5 0 0 0 996.4,1817.2L996.4,1817.2A351.5,351.5 0 0 0 998.0,1812.1L997.2,1811.9A350.7,350.7 0 0 0 998.7,1806.8L998.5,1806.7A350.6,350.6 0 0 0 999.9,1801.6L998.4,1801.2A349.0,349.0 0 0 0 999.7,1796.0L999.5,1796.0A348.7,348.7 0 0 0 1000.7,1790.8L1002.1,1791.1A350.1,350.1 0 0 0 1003.2,1785.9L1003.4,1786.0A350.3,350.3 0 0 0 1004.5,1780.8L1004.5,1780.8A350.3,350.3 0 0 0 1005.5,1775.5L1005.9,1775.6A350.7,350.7 0 0 0 1006.8,1770.4L1004.5,1770.0A348.3,348.3 0 0 0 1005.3,1764.7L1005.9,1764.8A348.9,348.9 0 0 0 1006.6,1759.6L1006.6,1759.6A348.9,348.9 0 0 0 1007.3,1754.3L1005.0,1754.0A346.5,346.5 0 0 0 1005.6,1748.8L1005.3,1748.8A346.2,346.2 0 0 0 1005.8,1743.5L1006.2,1743.6A346.6,346.6 0 0 0 1006.6,1738.3L1006.5,1738.3A346.5,346.5 0 0 0 1006.9,1733.1L1009.0,1733.2A348.7,348.7 0 0 0 1009.3,1727.9L1009.2,1727.9A348.5,348.5 0 0 0 1009.4,1722.6L1007.7,1722.5A346.9,346.9 0 0 0 1007.8,1717.3L1008.4,1717.3A347.4,347.4 0 0 0 1008.4,1712.0L986.5,1712.0A325.5,325.5 0 1 1 661.0,1386.5Z" fill="#138241"/>
<path d="M661.0,1390.5A321.5,321.5 0 1 0 982.5,1712.0L938.7,1712.0A277.7,277.7 0 1 1 661.0,1434.3Z" fill="#b8e1cc"/>
<path d="M661.0,1434.3L661.0,1409.9A302.1,302.1 0 0 0 656.4,1410.0L656.5,1412.9A299.1,299.1 0 0 0 651.9,1413.0L651.9,1413.0A299.1,299.1 0 0 0 647.4,1413.2L647.4,1413.1A299.2,299.2 0 0 0 642.8,1413.3L642.7,1411.7A300.8,300.8 0 0 0 638.2,1412.1L638.2,1412.7A300.2,300.2 0 0 0 633.7,1413.1L633.7,1413.2A300.0,300.0 0 0 0 629.1,1413.7L629.1,1413.6A300.1,300.1 0 0 0 624.6,1414.2L624.6,1414.0A300.2,300.2 0 0 0 620.1,1414.6L620.4,1416.8A298.0,298.0 0 0 0 615.9,1417.4L615.8,1416.7A298.7,298.7 0 0 0 611.3,1417.5L611.2,1417.2A299.0,299.0 0 0 0 606.8,1418.0L606.8,1418.0A299.0,299.0 0 0 0 602.3,1418.8L602.2,1418.4A299.4,299.4 0 0 0 597.8,1419.3L597.6,1418.5A300.3,300.3 0 0 0 593.1,1419.5L592.9,1418.6A301.2,301.2 0 0 0 588.5,1419.7L588.9,1421.2A299.6,299.6 0 0 0 584.4,1422.4L584.4,1422.3A299.6,299.6 0 0 0 580.0,1423.5L579.9,1422.9A300.3,300.3 0 0 0 575.5,1424.1L575.6,1424.6A299.8,299.8 0 0 0 571.3,1426.0L571.1,1425.5A300.3,300.3 0 0 0 566.8,1426.9L566.9,1427.3A299.8,299.8 0 0 0 562.6,1428.8L562.6,1428.7A299.9,299.9 0 0 0 558.3,1430.3L558.0,1429.6A300.6,300.6 0 0 0 553.8,1431.2L553.8,1431.4A300.4,300.4 0 0 0 549.6,1433.1L549.9,1433.9A299.5,299.5 0 0 0 545.7,1435.6L545.7,1435.6A299.5,299.5 0 0 0 541.5,1437.4L541.5,1437.4A299.5,299.5 0 0 0 537.3,1439.2L537.5,1439.6A299.1,299.1 0 0 0 533.4,1441.5L533.7,1442.1A298.4,298.4 0 0 0 529.6,1444.1L529.3,1443.5A299.1,299.1 0 0 0 525.2,1445.5L524.2,1443.6A301.2,301.2 0 0 0 520.2,1445.7L520.2,1445.7A301.2,301.2 0 0 0 516.1,1447.9L516.1,1447.7A301.4,301.4 0 0 0 512.1,1449.9L511.2,1448.5A303.1,303.1 0 0 0 507.2,1450.8L507.5,1451.2A302.6,302.6 0 0 0 503.5,1453.6L503.5,1453.5A302.7,302.7 0 0 0 499.6,1455.9L499.1,1455.2A303.6,303.6 0 0 0 495.2,1457.7L496.4,1459.5A301.4,301.4 0 0 0 492.6,1462.0L491.2,1460.0A303.9,303.9 0 0 0 487.4,1462.6L487.9,1463.3A303.0,303.0 0 0 0 484.1,1466.0L484.1,1465.9A303.1,303.1 0 0 0 480.3,1468.6L480.2,1468.4A303.4,303.4 0 0 0 476.5,1471.2L478.9,1474.2A299.5,299.5 0 0 0 475.3,1477.0L473.9,1475.3A301.7,301.7 0 0 0 470.4,1478.2L470.4,1478.3A301.6,301.6 0 0 0 466.9,1481.2L466.8,1481.1A301.7,301.7 0 0 0 463.3,1484.1L462.7,1483.4A302.6,302.6 0 0 0 459.3,1486.4L459.0,1486.2A303.0,303.0 0 0 0 455.6,1489.2L455.0,1488.6A303.8,303.8 0 0 0 451.7,1491.8L451.9,1492.0A303.5,303.5 0 0 0 448.6,1495.2L448.5,1495.2A303.6,303.6 0 0 0 445.2,1498.4L444.7,1497.9A304.4,304.4 0 0 0 441.5,1501.2L441.4,1501.1A304.5,304.5 0 0 0 438.2,1504.5L440.0,1506.1A302.0,302.0 0 0 0 436.9,1509.5L436.8,1509.4A302.1,302.1 0 0 0 433.8,1512.9L433.8,1512.9A302.1,302.1 0 0 0 430.8,1516.4L430.7,1516.3A302.2,302.2 0 0 0 427.7,1519.8L425.0,1517.6A305.8,305.8 0 0 0 422.1,1521.2L422.0,1521.1A305.8,305.8 0 0 0 419.2,1524.8L421.2,1526.4A303.3,303.3 0 0 0 418.4,1530.0L418.3,1530.0A303.3,303.3 0 0 0 415.6,1533.7L414.7,1533.0A304.5,304.5 0 0 0 412.0,1536.8L411.6,1536.5A305.0,305.0 0 0 0 408.9,1540.3L410.9,1541.7A302.6,302.6 0 0 0 408.4,1545.5L407.5,1544.9A303.7,303.7 0 0 0 404.9,1548.8L405.4,1549.0A303.2,303.2 0 0 0 402.9,1552.9L402.6,1552.8A303.5,303.5 0 0 0 400.3,1556.7L401.3,1557.4A302.2,302.2 0 0 0 399.0,1561.3L395.9,1559.5A305.8,305.8 0 0 0 393.6,1563.6L395.4,1564.6A303.8,303.8 0 0 0 393.2,1568.6L393.4,1568.8A303.5,303.5 0 0 0 391.3,1572.8L391.2,1572.8A303.6,303.6 0 0 0 389.1,1576.9L388.6,1576.7A304.1,304.1 0 0 0 386.6,1580.8L388.1,1581.6A302.4,302.4 0 0 0 386.2,1585.7L385.7,1585.5A302.9,302.9 0 0 0 383.8,1589.7L383.9,1589.7A302.9,302.9 0 0 0 382.1,1594.0L381.9,1593.9A303.0,303.0 0 0 0 380.2,1598.2L377.2,1597.0A306.2,306.2 0 0 0 375.5,1601.3L379.0,1602.6A302.5,302.5 0 0 0 377.3,1606.9L377.7,1607.1A302.1,302.1 0 0 0 376.1,1611.4L376.2,1611.4A302.0,302.0 0 0 0 374.7,1615.8L372.4,1615.0A304.4,304.4 0 0 0 371.0,1619.4L371.1,1619.4A304.3,304.3 0 0 0 369.7,1623.8L370.3,1624.0A303.7,303.7 0 0 0 369.0,1628.4L369.1,1628.5A303.6,303.6 0 0 0 367.8,1632.9L365.9,1632.4A305.7,305.7 0 0 0 364.7,1636.9L368.0,1637.7A302.3,302.3 0 0 0 366.9,1642.2L367.0,1642.2A302.1,302.1 0 0 0 366.0,1646.7L366.1,1646.7A302.0,302.0 0 0 0 365.2,1651.2L364.6,1651.1A302.6,302.6 0 0 0 363.7,1655.6L363.9,1655.6A302.4,302.4 0 0 0 363.0,1660.2L363.8,1660.3A301.7,301.7 0 0 0 363.0,1664.8L363.2,1664.8A301.5,301.5 0 0 0 362.5,1669.4L362.3,1669.3A301.7,301.7 0 0 0 361.7,1673.9L361.8,1673.9A301.6,301.6 0 0 0 361.3,1678.5L360.9,1678.4A302.0,302.0 0 0 0 360.4,1683.0L361.5,1683.1A300.9,300.9 0 0 0 361.1,1687.6L361.0,1687.6A301.0,301.0 0 0 0 360.7,1692.2L360.8,1692.2A300.8,300.8 0 0 0 360.6,1696.8L360.7,1696.8A300.6,300.6 0 0 0 360.6,1701.3L360.7,1701.3A300.5,300.5 0 0 0 360.6,1705.9L358.5,1705.9A302.6,302.6 0 0 0 358.5,1710.5L358.6,1710.5A302.4,302.4 0 0 0 358.6,1715.1L359.1,1715.1A301.9,301.9 0 0 0 359.2,1719.6L360.6,1719.6A300.5,300.5 0 0 0 360.7,1724.2L360.5,1724.2A300.7,300.7 0 0 0 360.8,1728.8L358.5,1728.9A303.0,303.0 0 0 0 358.8,1733.5L362.7,1733.2A299.0,299.0 0 0 0 363.1,1737.7L362.9,1737.7A299.2,299.2 0 0 0 363.3,1742.3L364.0,1742.2A298.5,298.5 0 0 0 364.5,1746.7L364.1,1746.8A298.9,298.9 0 0 0 364.7,1751.3L364.8,1751.2A298.8,298.8 0 0 0 365.5,1755.7L362.6,1756.2A301.7,301.7 0 0 0 363.3,1760.7L364.2,1760.6A300.8,300.8 0 0 0 364.9,1765.1L363.7,1765.3A302.1,302.1 0 0 0 364.5,1769.8L364.9,1769.7A301.6,301.6 0 0 0 365.9,1774.2L365.9,1774.2A301.6,301.6 0 0 0 366.9,1778.7L366.9,1778.7A301.6,301.6 0 0 0 367.9,1783.1L370.9,1782.4A298.5,298.5 0 0 0 372.0,1786.8L372.1,1786.8A298.4,298.4 0 0 0 373.3,1791.2L373.4,1791.2A298.3,298.3 0 0 0 374.6,1795.5L375.5,1795.3A297.4,297.4 0 0 0 376.8,1799.6L373.4,1800.6A300.9,300.9 0 0 0 374.8,1805.0L375.6,1804.7A300.1,300.1 0 0 0 377.0,1809.1L377.5,1808.9A299.6,299.6 0 0 0 379.0,1813.2L379.1,1813.2A299.5,299.5 0 0 0 380.7,1817.4L381.1,1817.3A299.1,299.1 0 0 0 382.7,1821.5L383.3,1821.3A298.4,298.4 0 0 0 385.0,1825.5L385.1,1825.5A298.3,298.3 0 0 0 386.9,1829.6L387.0,1829.6A298.2,298.2 0 0 0 388.8,1833.8L387.7,1834.2A299.3,299.3 0 0 0 389.6,1838.4L389.7,1838.3A299.2,299.2 0 0 0 391.7,1842.4L391.8,1842.3A299.1,299.1 0 0 0 393.8,1846.4L395.4,1845.6A297.3,297.3 0 0 0 397.5,1849.7L397.5,1849.6A297.2,297.2 0 0 0 399.7,1853.6L400.1,1853.4A296.8,296.8 0 0 0 402.3,1857.3L402.4,1857.3A296.7,296.7 0 0 0 404.6,1861.2L404.2,1861.4A297.1,297.1 0 0 0 406.5,1865.3L406.7,1865.2A296.9,296.9 0 0 0 409.0,1869.1L408.9,1869.1A297.0,297.0 0 0 0 411.3,1872.9L411.7,1872.7A296.6,296.6 0 0 0 414.2,1876.5L413.0,1877.3A298.0,298.0 0 0 0 415.5,1881.0L416.3,1880.5A297.1,297.1 0 0 0 418.9,1884.2L419.0,1884.1A296.9,296.9 0 0 0 421.7,1887.7L421.7,1887.7A296.9,296.9 0 0 0 424.4,1891.4L424.3,1891.4A297.0,297.0 0 0 0 427.0,1895.0L427.2,1894.9A296.9,296.9 0 0 0 430.0,1898.4L430.8,1897.7A295.8,295.8 0 0 0 433.7,1901.2L433.8,1901.2A295.7,295.7 0 0 0 436.7,1904.6L436.8,1904.5A295.5,295.5 0 0 0 439.7,1907.9L439.2,1908.4A296.2,296.2 0 0 0 442.2,1911.7L442.8,1911.1A295.4,295.4 0 0 0 445.9,1914.4L446.2,1914.1A294.9,294.9 0 0 0 449.3,1917.4L448.9,1917.7A295.5,295.5 0 0 0 452.1,1920.9L452.2,1920.8A295.3,295.3 0 0 0 455.4,1924.0L455.6,1923.8A295.1,295.1 0 0 0 458.8,1926.9L458.9,1926.8A294.9,294.9 0 0 0 462.2,1929.8L462.0,1930.1A295.3,295.3 0 0 0 465.3,1933.1L465.8,1932.5A294.5,294.5 0 0 0 469.2,1935.4L468.9,1935.8A294.9,294.9 0 0 0 472.3,1938.6L472.5,1938.4A294.6,294.6 0 0 0 476.0,1941.3L476.8,1940.3A293.3,293.3 0 0 0 480.3,1943.0L480.4,1942.9A293.2,293.2 0 0 0 483.9,1945.7L484.2,1945.2A292.6,292.6 0 0 0 487.8,1947.9L486.8,1949.3A294.4,294.4 0 0 0 490.4,1951.9L490.7,1951.4A293.8,293.8 0 0 0 494.4,1954.0L494.5,1953.9A293.6,293.6 0 0 0 498.2,1956.4L498.1,1956.5A293.8,293.8 0 0 0 501.8,1958.9L502.5,1957.9A292.6,292.6 0 0 0 506.2,1960.3L506.6,1959.7A291.9,291.9 0 0 0 510.4,1962.1L509.6,1963.3A293.3,293.3 0 0 0 513.5,1965.5L513.0,1966.3A294.2,294.2 0 0 0 516.9,1968.5L516.8,1968.7A294.4,294.4 0 0 0 520.8,1970.8L521.0,1970.4A293.9,293.9 0 0 0 524.9,1972.5L524.9,1972.6A294.1,294.1 0 0 0 528.8,1974.7L528.7,1975.0A294.4,294.4 0 0 0 532.7,1976.9L532.6,1977.1A294.5,294.5 0 0 0 536.7,1979.0L535.1,1982.5A298.3,298.3 0 0 0 539.2,1984.3L537.8,1987.4A301.7,301.7 0 0 0 542.0,1989.2L542.0,1989.4A301.8,301.8 0 0 0 546.2,1991.2L547.6,1987.7A298.1,298.1 0 0 0 551.8,1989.4L551.7,1989.8A298.5,298.5 0 0 0 555.9,1991.4L555.9,1991.4A298.5,298.5 0 0 0 560.2,1993.0L555.4,2006.4A312.7,312.7 0 0 0 559.8,2007.9L565.6,1991.0A294.9,294.9 0 0 0 569.9,1992.4L570.3,1991.0A293.4,293.4 0 0 0 574.6,1992.4L574.8,1991.8A292.8,292.8 0 0 0 579.0,1993.1L579.0,1993.1A292.8,292.8 0 0 0 583.3,1994.3L583.2,1994.8A293.3,293.3 0 0 0 587.5,1996.0L587.5,1996.0A293.3,293.3 0 0 0 591.8,1997.1L591.7,1997.4A293.7,293.7 0 0 0 596.1,1998.4L596.3,1997.5A292.7,292.7 0 0 0 600.6,1998.4L600.5,1999.2A293.6,293.6 0 0 0 604.8,2000.1L604.8,2000.2A293.6,293.6 0 0 0 609.2,2001.0L609.3,2000.5A293.1,293.1 0 0 0 613.7,2001.3L613.7,2001.3A293.2,293.2 0 0 0 618.1,2002.0L618.0,2002.3A293.5,293.5 0 0 0 622.4,2002.9L622.6,2001.9A292.4,292.4 0 0 0 627.0,2002.4L627.0,2002.3A292.3,292.3 0 0 0 631.4,2002.8L631.4,2002.8A292.3,292.3 0 0 0 635.9,2003.2L635.8,2003.6A292.7,292.7 0 0 0 640.3,2004.0L640.2,2004.6A293.4,293.4 0 0 0 644.7,2004.9L644.7,2004.9A293.4,293.4 0 0 0 649.1,2005.1L649.1,2005.2A293.4,293.4 0 0 0 653.6,2005.3L653.6,2005.8A293.9,293.9 0 0 0 658.0,2005.9L658.0,2005.6A293.7,293.7 0 0 0 662.5,2005.6L662.5,2005.2A293.2,293.2 0 0 0 666.9,2005.1L667.0,2006.7A294.8,294.8 0 0 0 671.5,2006.6L671.5,2006.6A294.8,294.8 0 0 0 675.9,2006.4L675.9,2006.4A294.8,294.8 0 0 0 680.4,2006.1L680.3,2004.1A292.8,292.8 0 0 0 684.7,2003.8L684.7,2003.8A292.7,292.7 0 0 0 689.1,2003.4L689.1,2002.8A292.2,292.2 0 0 0 693.5,2002.3L693.7,2003.8A293.6,293.6 0 0 0 698.1,2003.3L698.1,2003.2A293.6,293.6 0 0 0 702.5,2002.6L702.4,2001.9A292.8,292.8 0 0 0 706.8,2001.2L706.8,2001.2A292.8,292.8 0 0 0 711.2,2000.5L711.3,2001.0A293.4,293.4 0 0 0 715.7,2000.3L715.6,1999.6A292.7,292.7 0 0 0 719.9,1998.7L719.9,1998.4A292.4,292.4 0 0 0 724.2,1997.4L724.4,1998.4A293.4,293.4 0 0 0 728.8,1997.4L728.8,1997.5A293.4,293.4 0 0 0 733.1,1996.4L733.1,1996.3A293.2,293.2 0 0 0 737.4,1995.1L737.4,1995.1A293.2,293.2 0 0 0 741.7,1993.9L741.4,1992.9A292.2,292.2 0 0 0 745.6,1991.6L746.3,1993.9A294.6,294.6 0 0 0 750.6,1992.6L750.2,1991.4A293.3,293.3 0 0 0 754.5,1990.0L754.5,1990.1A293.4,293.4 0 0 0 758.7,1988.7L758.7,1988.6A293.4,293.4 0 0 0 762.9,1987.1L762.7,1986.6A292.8,292.8 0 0 0 766.9,1985.0L767.4,1986.3A294.2,294.2 0 0 0 771.5,1984.6L771.6,1984.8A294.4,294.4 0 0 0 775.7,1983.1L776.0,1983.8A295.1,295.1 0 0 0 780.1,1982.0L779.3,1980.1A293.0,293.0 0 0 0 783.3,1978.3L783.1,1977.8A292.5,292.5 0 0 0 787.1,1975.9L787.5,1976.5A293.2,293.2 0 0 0 791.5,1974.6L791.5,1974.7A293.4,293.4 0 0 0 795.5,1972.7L795.8,1973.3A294.0,294.0 0 0 0 799.8,1971.2L799.8,1971.3A294.2,294.2 0 0 0 803.8,1969.2L804.1,1969.9A294.9,294.9 0 0 0 808.0,1967.7L807.5,1966.8A293.9,293.9 0 0 0 811.4,1964.5L811.1,1964.0A293.3,293.3 0 0 0 814.9,1961.7L814.9,1961.7A293.3,293.3 0 0 0 818.7,1959.3L818.7,1959.4A293.4,293.4 0 0 0 822.5,1957.0L822.9,1957.7A294.3,294.3 0 0 0 826.7,1955.2L828.1,1957.4A296.9,296.9 0 0 0 831.8,1954.8L831.2,1953.9A295.8,295.8 0 0 0 834.9,1951.3L835.1,1951.7A296.3,296.3 0 0 0 838.8,1949.0L838.9,1949.2A296.4,296.4 0 0 0 842.5,1946.4L841.7,1945.5A295.3,295.3 0 0 0 845.3,1942.7L845.6,1943.1A295.8,295.8 0 0 0 849.1,1940.3L849.3,1940.6A296.2,296.2 0 0 0 852.8,1937.7L854.1,1939.3A298.2,298.2 0 0 0 857.5,1936.3L857.8,1936.6A298.6,298.6 0 0 0 861.2,1933.6L861.3,1933.7A298.8,298.8 0 0 0 864.6,1930.6L864.1,1930.1A298.0,298.0 0 0 0 867.4,1927.0L865.3,1924.8A295.0,295.0 0 0 0 868.5,1921.7L869.6,1922.7A296.5,296.5 0 0 0 872.8,1919.5L872.9,1919.7A296.7,296.7 0 0 0 876.0,1916.4L876.3,1916.7A297.1,297.1 0 0 0 879.4,1913.4L879.5,1913.5A297.3,297.3 0 0 0 882.6,1910.2L882.6,1910.1A297.2,297.2 0 0 0 885.5,1906.7L885.7,1906.8A297.4,297.4 0 0 0 888.6,1903.4L888.1,1903.0A296.8,296.8 0 0 0 891.0,1899.5L891.0,1899.5A296.7,296.7 0 0 0 893.8,1896.0L893.7,1895.9A296.6,296.6 0 0 0 896.4,1892.3L897.5,1893.2A297.9,297.9 0 0 0 900.2,1889.5L900.9,1890.0A298.7,298.7 0 0 0 903.6,1886.4L902.9,1885.9A297.9,297.9 0 0 0 905.5,1882.2L903.9,1881.1A295.9,295.9 0 0 0 906.4,1877.3L906.8,1877.6A296.4,296.4 0 0 0 909.3,1873.8L911.5,1875.2A299.0,299.0 0 0 0 913.9,1871.4L914.2,1871.6A299.3,299.3 0 0 0 916.6,1867.7L916.5,1867.7A299.2,299.2 0 0 0 918.9,1863.8L917.8,1863.2A298.0,298.0 0 0 0 920.1,1859.3L919.9,1859.1A297.8,297.8 0 0 0 922.1,1855.2L922.0,1855.2A297.7,297.7 0 0 0 924.2,1851.2L924.4,1851.3A298.0,298.0 0 0 0 926.5,1847.3L926.5,1847.3A297.9,297.9 0 0 0 928.5,1843.2L928.7,1843.3A298.2,298.2 0 0 0 930.7,1839.2L928.9,1838.4A296.2,296.2 0 0 0 930.7,1834.3L930.5,1834.2A295.9,295.9 0 0 0 932.3,1830.0L932.3,1830.0A295.8,295.8 0 0 0 934.0,1825.9L936.9,1827.1A298.9,298.9 0 0 0 938.6,1822.9L938.6,1822.9A299.0,299.0 0 0 0 940.3,1818.7L941.1,1819.0A299.8,299.8 0 0 0 942.7,1814.7L942.6,1814.7A299.8,299.8 0 0 0 944.2,1810.4L943.1,1810.0A298.7,298.7 0 0 0 944.6,1805.7L944.9,1805.8A299.0,299.0 0 0 0 946.2,1801.5L945.9,1801.4A298.6,298.6 0 0 0 947.3,1797.1L947.2,1797.1A298.6,298.6 0 0 0 948.5,1792.7L948.8,1792.8A298.9,298.9 0 0 0 950.0,1788.4L948.7,1788.0A297.6,297.6 0 0 0 949.8,1783.7L949.3,1783.5A297.1,297.1 0 0 0 950.4,1779.2L951.1,1779.3A297.8,297.8 0 0 0 952.1,1774.9L952.0,1774.9A297.7,297.7 0 0 0 953.0,1770.5L953.8,1770.6A298.6,298.6 0 0 0 954.7,1766.2L954.7,1766.2A298.6,298.6 0 0 0 955.4,1761.7L953.5,1761.4A296.7,296.7 0 0 0 954.2,1756.9L954.6,1757.0A297.0,297.0 0 0 0 955.2,1752.5L954.7,1752.4A296.5,296.5 0 0 0 955.3,1748.0L953.5,1747.8A294.7,294.7 0 0 0 954.0,1743.3L953.8,1743.3A294.5,294.5 0 0 0 954.3,1738.8L953.8,1738.8A294.0,294.0 0 0 0 954.1,1734.3L954.5,1734.3A294.3,294.3 0 0 0 954.8,1729.9L956.0,1730.0A295.6,295.6 0 0 0 956.3,1725.5L956.6,1725.5A295.9,295.9 0 0 0 956.8,1721.0L955.3,1721.0A294.4,294.4 0 0 0 955.4,1716.5L955.5,1716.5A294.5,294.5 0 0 0 955.5,1712.0L938.7,1712.0A277.7,277.7 0 1 1 661.0,1434.3Z" fill="#138241"/>
<path d="M661.0,1439.0A273.0,273.0 0 1 0 934.0,1712.0L891.0,1712.0A230.0,230.0 0 1 1 661.0,1482.0Z" fill="#b5d8bb"/>
<path d="M661.0,1482.0L661.0,1439.1A272.9,272.9 0 0 0 656.9,1439.2L656.9,1442.1A269.9,269.9 0 0 0 652.8,1442.2L652.7,1440.1A272.0,272.0 0 0 0 648.6,1440.3L648.7,1442.3A270.0,270.0 0 0 0 644.6,1442.5L644.4,1439.5A273.0,273.0 0 0 0 640.3,1439.8L640.4,1440.8A271.9,271.9 0 0 0 636.2,1441.2L636.1,1440.1A273.0,273.0 0 0 0 632.0,1440.5L632.1,1441.0A272.6,272.6 0 0 0 627.9,1441.5L627.9,1441.5A272.5,272.5 0 0 0 623.8,1442.0L623.8,1441.6A273.0,273.0 0 0 0 619.7,1442.1L619.7,1442.1A273.0,273.0 0 0 0 615.6,1442.8L615.6,1442.8A273.0,273.0 0 0 0 611.5,1443.5L611.5,1443.5A273.0,273.0 0 0 0 607.4,1444.3L607.4,1444.3A273.0,273.0 0 0 0 603.3,1445.2L603.8,1447.3A270.8,270.8 0 0 0 599.8,1448.2L599.6,1447.4A271.7,271.7 0 0 0 595.6,1448.3L595.9,1449.7A270.2,270.2 0 0 0 591.9,1450.7L591.9,1450.8A270.2,270.2 0 0 0 588.0,1451.8L587.6,1450.5A271.6,271.6 0 0 0 583.6,1451.6L583.9,1452.5A270.7,270.7 0 0 0 579.9,1453.7L580.0,1453.7A270.7,270.7 0 0 0 576.0,1454.9L575.6,1453.5A272.2,272.2 0 0 0 571.6,1454.8L571.6,1454.9A272.2,272.2 0 0 0 567.7,1456.2L567.9,1456.7A271.8,271.8 0 0 0 564.0,1458.1L564.0,1458.1A271.7,271.7 0 0 0 560.2,1459.6L560.0,1459.1A272.3,272.3 0 0 0 556.2,1460.7L556.2,1460.7A272.3,272.3 0 0 0 552.4,1462.3L553.0,1463.8A270.6,270.6 0 0 0 549.3,1465.5L549.3,1465.5A270.6,270.6 0 0 0 545.5,1467.2L544.6,1465.3A272.8,272.8 0 0 0 540.9,1467.1L540.9,1467.1A272.8,272.8 0 0 0 537.2,1469.0L538.1,1470.9A270.6,270.6 0 0 0 534.5,1472.8L535.0,1473.7A269.5,269.5 0 0 0 531.4,1475.7L531.4,1475.7A269.5,269.5 0 0 0 527.8,1477.7L526.1,1474.7A273.0,273.0 0 0 0 522.5,1476.7L522.5,1476.7A273.0,273.0 0 0 0 518.9,1478.9L519.3,1479.5A272.3,272.3 0 0 0 515.8,1481.6L516.6,1482.9A270.8,270.8 0 0 0 513.1,1485.1L513.1,1485.1A270.8,270.8 0 0 0 509.7,1487.4L510.1,1488.0A270.1,270.1 0 0 0 506.7,1490.3L505.4,1488.5A272.4,272.4 0 0 0 502.0,1490.8L502.5,1491.5A271.5,271.5 0 0 0 499.2,1494.0L499.2,1494.0A271.5,271.5 0 0 0 495.9,1496.5L495.0,1495.3A273.0,273.0 0 0 0 491.7,1497.8L491.7,1497.8A273.0,273.0 0 0 0 488.5,1500.4L490.8,1503.3A269.3,269.3 0 0 0 487.6,1505.9L485.5,1503.4A272.6,272.6 0 0 0 482.4,1506.1L482.4,1506.1A272.6,272.6 0 0 0 479.3,1508.8L481.0,1510.7A270.0,270.0 0 0 0 478.0,1513.5L476.2,1511.6A272.6,272.6 0 0 0 473.2,1514.4L473.2,1514.4A272.6,272.6 0 0 0 470.2,1517.3L471.4,1518.5A270.9,270.9 0 0 0 468.5,1521.4L468.5,1521.4A270.9,270.9 0 0 0 465.6,1524.4L466.3,1525.0A270.0,270.0 0 0 0 463.4,1528.0L463.9,1528.4A269.4,269.4 0 0 0 461.1,1531.4L461.1,1531.4A269.3,269.3 0 0 0 458.4,1534.5L455.8,1532.2A272.8,272.8 0 0 0 453.1,1535.4L455.8,1537.6A269.3,269.3 0 0 0 453.2,1540.8L450.6,1538.7A272.6,272.6 0 0 0 448.0,1541.9L448.0,1541.9A272.6,272.6 0 0 0 445.5,1545.2L447.6,1546.8A269.8,269.8 0 0 0 445.1,1550.1L444.1,1549.3A271.2,271.2 0 0 0 441.6,1552.6L441.6,1552.6A271.2,271.2 0 0 0 439.2,1556.0L438.2,1555.2A272.5,272.5 0 0 0 435.8,1558.6L438.1,1560.2A269.7,269.7 0 0 0 435.8,1563.6L434.5,1562.7A271.2,271.2 0 0 0 432.3,1566.2L432.3,1566.2A271.2,271.2 0 0 0 430.1,1569.7L431.6,1570.7A269.4,269.4 0 0 0 429.5,1574.2L426.4,1572.3A273.0,273.0 0 0 0 424.3,1575.9L424.3,1575.9A273.0,273.0 0 0 0 422.3,1579.5L425.0,1581.0A269.9,269.9 0 0 0 423.0,1584.6L423.0,1584.6A269.9,269.9 0 0 0 421.1,1588.2L419.3,1587.3A272.0,272.0 0 0 0 417.4,1591.0L417.4,1591.0A272.0,272.0 0 0 0 415.6,1594.7L415.7,1594.7A271.9,271.9 0 0 0 413.9,1598.5L413.2,1598.2A272.7,272.7 0 0 0 411.5,1601.9L414.8,1603.4A269.1,269.1 0 0 0 413.2,1607.1L413.2,1607.1A269.1,269.1 0 0 0 411.6,1610.9L410.6,1610.5A270.2,270.2 0 0 0 409.1,1614.3L406.8,1613.4A272.7,272.7 0 0 0 405.3,1617.3L405.3,1617.3A272.7,272.7 0 0 0 403.9,1621.2L404.6,1621.4A271.9,271.9 0 0 0 403.3,1625.4L404.9,1625.9A270.2,270.2 0 0 0 403.6,1629.8L403.6,1629.8A270.2,270.2 0 0 0 402.4,1633.7L402.3,1633.7A270.3,270.3 0 0 0 401.2,1637.7L401.9,1637.9A269.5,269.5 0 0 0 400.8,1641.8L399.8,1641.5A270.5,270.5 0 0 0 398.8,1645.5L399.0,1645.6A270.2,270.2 0 0 0 398.1,1649.6L396.8,1649.3A271.6,271.6 0 0 0 395.8,1653.3L395.8,1653.3A271.6,271.6 0 0 0 394.9,1657.3L396.9,1657.7A269.7,269.7 0 0 0 396.1,1661.7L393.8,1661.3A271.9,271.9 0 0 0 393.1,1665.4L393.1,1665.4A271.9,271.9 0 0 0 392.4,1669.5L394.1,1669.7A270.2,270.2 0 0 0 393.5,1673.8L393.5,1673.8A270.2,270.2 0 0 0 393.0,1677.9L393.9,1678.0A269.3,269.3 0 0 0 393.4,1682.0L393.4,1682.0A269.2,269.2 0 0 0 393.0,1686.1L393.0,1686.1A269.3,269.3 0 0 0 392.6,1690.2L388.9,1689.9A273.0,273.0 0 0 0 388.6,1694.0L391.6,1694.2A270.0,270.0 0 0 0 391.4,1698.3L391.4,1698.3A270.0,270.0 0 0 0 391.2,1702.4L392.4,1702.5A268.8,268.8 0 0 0 392.3,1706.6L392.3,1706.6A268.8,268.8 0 0 0 392.2,1710.6L388.5,1710.6A272.5,272.5 0 0 0 388.5,1714.8L391.5,1714.7A269.5,269.5 0 0 0 391.5,1718.8L391.6,1718.8A269.5,269.5 0 0 0 391.7,1722.9L388.9,1723.0A272.3,272.3 0 0 0 389.1,1727.2L391.9,1727.0A269.5,269.5 0 0 0 392.2,1731.1L392.2,1731.1A269.5,269.5 0 0 0 392.5,1735.2L392.3,1735.2A269.7,269.7 0 0 0 392.6,1739.3L391.4,1739.4A271.0,271.0 0 0 0 391.8,1743.5L391.8,1743.5A271.0,271.0 0 0 0 392.3,1747.6L394.7,1747.3A268.6,268.6 0 0 0 395.2,1751.3L391.3,1751.9A272.6,272.6 0 0 0 391.9,1756.0L391.9,1756.0A272.6,272.6 0 0 0 392.6,1760.1L395.9,1759.5A269.3,269.3 0 0 0 396.7,1763.5L394.8,1763.9A271.2,271.2 0 0 0 395.6,1767.9L397.6,1767.5A269.1,269.1 0 0 0 398.5,1771.5L398.5,1771.5A269.1,269.1 0 0 0 399.5,1775.5L398.3,1775.8A270.3,270.3 0 0 0 399.3,1779.8L399.9,1779.6A269.8,269.8 0 0 0 400.9,1783.6L400.9,1783.6A269.7,269.7 0 0 0 402.0,1787.5L402.7,1787.3A269.1,269.1 0 0 0 403.9,1791.2L403.9,1791.2A269.0,269.0 0 0 0 405.1,1795.1L402.6,1796.0A271.7,271.7 0 0 0 403.9,1799.9L403.9,1799.9A271.7,271.7 0 0 0 405.3,1803.8L408.2,1802.7A268.6,268.6 0 0 0 409.6,1806.6L406.8,1807.6A271.6,271.6 0 0 0 408.3,1811.5L408.3,1811.5A271.6,271.6 0 0 0 409.8,1815.3L411.2,1814.7A270.1,270.1 0 0 0 412.8,1818.5L414.4,1817.8A268.3,268.3 0 0 0 416.1,1821.5L414.6,1822.2A269.9,269.9 0 0 0 416.3,1825.9L416.3,1825.9A269.9,269.9 0 0 0 418.1,1829.6L418.1,1829.6A269.9,269.9 0 0 0 419.9,1833.3L421.3,1832.6A268.4,268.4 0 0 0 423.1,1836.3L422.1,1836.8A269.6,269.6 0 0 0 424.0,1840.4L424.1,1840.4A269.4,269.4 0 0 0 426.1,1843.9L426.1,1843.9A269.4,269.4 0 0 0 428.1,1847.5L428.3,1847.4A269.3,269.3 0 0 0 430.3,1850.9L430.4,1850.9A269.3,269.3 0 0 0 432.5,1854.4L433.3,1853.9A268.3,268.3 0 0 0 435.5,1857.4L435.4,1857.4A268.4,268.4 0 0 0 437.6,1860.8L437.7,1860.8A268.4,268.4 0 0 0 439.9,1864.2L439.4,1864.6A269.0,269.0 0 0 0 441.8,1867.9L441.6,1868.0A269.2,269.2 0 0 0 444.0,1871.4L444.6,1870.9A268.5,268.5 0 0 0 447.0,1874.2L445.8,1875.1A270.0,270.0 0 0 0 448.3,1878.3L448.4,1878.3A270.0,270.0 0 0 0 450.9,1881.5L449.4,1882.7A271.8,271.8 0 0 0 452.1,1885.9L452.1,1885.9A271.8,271.8 0 0 0 454.8,1889.1L456.5,1887.5A269.5,269.5 0 0 0 459.2,1890.6L457.4,1892.3A271.9,271.9 0 0 0 460.1,1895.3L461.0,1894.6A270.8,270.8 0 0 0 463.8,1897.6L463.3,1898.0A271.5,271.5 0 0 0 466.1,1901.0L468.6,1898.7A268.1,268.1 0 0 0 471.4,1901.6L470.3,1902.7A269.7,269.7 0 0 0 473.2,1905.6L472.6,1906.2A270.6,270.6 0 0 0 475.6,1909.0L477.4,1907.1A267.9,267.9 0 0 0 480.4,1909.9L480.2,1910.1A268.2,268.2 0 0 0 483.2,1912.8L483.2,1912.8A268.2,268.2 0 0 0 486.3,1915.5L484.0,1918.2A271.8,271.8 0 0 0 487.1,1920.9L487.1,1920.9A271.8,271.8 0 0 0 490.3,1923.5L492.0,1921.5A269.2,269.2 0 0 0 495.2,1924.0L495.5,1923.6A268.7,268.7 0 0 0 498.7,1926.1L499.2,1925.4A267.8,267.8 0 0 0 502.5,1927.8L502.1,1928.3A268.4,268.4 0 0 0 505.4,1930.7L504.0,1932.8A270.9,270.9 0 0 0 507.4,1935.1L507.9,1934.3A269.9,269.9 0 0 0 511.3,1936.6L512.7,1934.6A267.5,267.5 0 0 0 516.1,1936.9L514.3,1939.6A270.8,270.8 0 0 0 517.7,1941.8L517.8,1941.8A270.8,270.8 0 0 0 521.3,1944.0L522.9,1941.3A267.6,267.6 0 0 0 526.4,1943.3L526.4,1943.3A267.6,267.6 0 0 0 529.9,1945.3L528.9,1947.2A269.8,269.8 0 0 0 532.5,1949.2L533.7,1947.0A267.3,267.3 0 0 0 537.3,1948.9L537.3,1948.9A267.2,267.2 0 0 0 540.9,1950.7L539.4,1953.7A270.6,270.6 0 0 0 543.1,1955.5L544.4,1952.8A267.5,267.5 0 0 0 548.1,1954.5L548.0,1954.7A267.8,267.8 0 0 0 551.7,1956.4L551.7,1956.4A267.8,267.8 0 0 0 555.4,1958.1L555.4,1958.0A267.7,267.7 0 0 0 559.2,1959.6L558.2,1962.1A270.4,270.4 0 0 0 562.0,1963.6L562.9,1961.3A267.9,267.9 0 0 0 566.7,1962.8L566.0,1964.7A270.0,270.0 0 0 0 569.8,1966.1L569.4,1967.4A271.3,271.3 0 0 0 573.3,1968.7L573.3,1968.7A271.3,271.3 0 0 0 577.2,1970.0L578.5,1966.1A267.1,267.1 0 0 0 582.3,1967.3L582.3,1967.3A267.1,267.1 0 0 0 586.2,1968.4L585.2,1972.0A270.8,270.8 0 0 0 589.1,1973.1L590.0,1970.2A267.8,267.8 0 0 0 593.9,1971.2L593.2,1973.9A270.5,270.5 0 0 0 597.2,1974.9L597.2,1974.9A270.5,270.5 0 0 0 601.2,1975.8L601.9,1972.6A267.2,267.2 0 0 0 605.9,1973.5L605.9,1973.5A267.2,267.2 0 0 0 609.9,1974.3L609.5,1976.3A269.3,269.3 0 0 0 613.5,1977.1L613.5,1977.1A269.3,269.3 0 0 0 617.5,1977.8L617.5,1978.1A269.7,269.7 0 0 0 621.5,1978.7L621.5,1978.7A269.6,269.6 0 0 0 625.6,1979.3L625.9,1977.0A267.3,267.3 0 0 0 629.9,1977.5L629.9,1977.5A267.3,267.3 0 0 0 634.0,1977.9L633.6,1981.2A270.6,270.6 0 0 0 637.7,1981.6L637.7,1981.5A270.5,270.5 0 0 0 641.8,1981.9L641.8,1981.5A270.2,270.2 0 0 0 645.9,1981.8L646.0,1980.1A268.5,268.5 0 0 0 650.1,1980.3L650.1,1980.2A268.5,268.5 0 0 0 654.2,1980.4L654.2,1981.7A269.8,269.8 0 0 0 658.3,1981.8L658.3,1978.8A266.8,266.8 0 0 0 662.4,1978.8L662.4,1978.8A266.8,266.8 0 0 0 666.4,1978.8L666.5,1981.7A269.7,269.7 0 0 0 670.6,1981.6L670.5,1979.3A267.5,267.5 0 0 0 674.5,1979.2L674.5,1979.1A267.5,267.5 0 0 0 678.6,1978.9L678.7,1980.2A268.8,268.8 0 0 0 682.8,1979.9L682.8,1979.9A268.8,268.8 0 0 0 686.8,1979.5L686.8,1979.6A268.8,268.8 0 0 0 690.9,1979.1L690.8,1978.3A268.0,268.0 0 0 0 694.9,1977.8L694.9,1977.8A268.0,268.0 0 0 0 698.9,1977.3L699.1,1978.9A269.7,269.7 0 0 0 703.2,1978.3L703.2,1978.3A269.6,269.6 0 0 0 707.2,1977.6L707.2,1977.7A269.7,269.7 0 0 0 711.3,1977.0L711.3,1977.0A269.7,269.7 0 0 0 715.3,1976.2L715.4,1976.7A270.2,270.2 0 0 0 719.4,1975.8L719.1,1974.5A268.9,268.9 0 0 0 723.1,1973.6L723.1,1973.6A268.9,268.9 0 0 0 727.1,1972.6L727.1,1972.6A268.9,268.9 0 0 0 731.0,1971.6L731.0,1971.6A268.8,268.8 0 0 0 735.0,1970.5L735.1,1971.0A269.4,269.4 0 0 0 739.0,1969.8L738.4,1967.8A267.2,267.2 0 0 0 742.3,1966.6L743.1,1969.2A270.0,270.0 0 0 0 747.0,1967.9L747.0,1967.9A270.0,270.0 0 0 0 750.9,1966.5L750.1,1964.4A267.6,267.6 0 0 0 754.0,1963.0L753.9,1962.9A267.6,267.6 0 0 0 757.7,1961.5L757.8,1961.6A267.7,267.7 0 0 0 761.6,1960.1L761.6,1960.1A267.7,267.7 0 0 0 765.3,1958.5L765.5,1958.9A268.1,268.1 0 0 0 769.2,1957.2L768.9,1956.5A267.2,267.2 0 0 0 772.6,1954.8L772.5,1954.8A267.2,267.2 0 0 0 776.2,1953.0L776.7,1954.0A268.3,268.3 0 0 0 780.4,1952.3L780.4,1952.2A268.3,268.3 0 0 0 784.0,1950.4L783.4,1949.3A267.0,267.0 0 0 0 787.0,1947.4L787.0,1947.4A267.0,267.0 0 0 0 790.6,1945.4L790.2,1944.8A266.3,266.3 0 0 0 793.8,1942.8L793.7,1942.8A266.3,266.3 0 0 0 797.2,1940.8L797.7,1941.6A267.2,267.2 0 0 0 801.2,1939.5L800.5,1938.4A265.9,265.9 0 0 0 803.9,1936.2L804.5,1937.1A267.0,267.0 0 0 0 807.9,1934.9L807.9,1934.9A267.0,267.0 0 0 0 811.3,1932.7L811.3,1932.7A267.0,267.0 0 0 0 814.6,1930.4L816.0,1932.3A269.4,269.4 0 0 0 819.3,1929.9L819.3,1929.9A269.4,269.4 0 0 0 822.6,1927.5L820.6,1924.7A265.9,265.9 0 0 0 823.8,1922.3L823.8,1922.3A265.9,265.9 0 0 0 826.9,1919.8L828.9,1922.2A269.0,269.0 0 0 0 832.0,1919.6L832.0,1919.6A268.9,268.9 0 0 0 835.1,1916.9L833.5,1915.0A266.4,266.4 0 0 0 836.6,1912.4L836.6,1912.4A266.4,266.4 0 0 0 839.6,1909.7L841.4,1911.7A269.1,269.1 0 0 0 844.4,1908.9L844.1,1908.6A268.7,268.7 0 0 0 847.1,1905.8L845.7,1904.3A266.6,266.6 0 0 0 848.6,1901.5L847.4,1900.3A264.9,264.9 0 0 0 850.2,1897.4L850.5,1897.7A265.3,265.3 0 0 0 853.3,1894.8L854.4,1895.8A266.8,266.8 0 0 0 857.2,1892.9L857.1,1892.9A266.8,266.8 0 0 0 859.9,1889.8L860.7,1890.6A268.0,268.0 0 0 0 863.4,1887.6L864.2,1888.3A269.0,269.0 0 0 0 866.9,1885.1L866.9,1885.1A269.0,269.0 0 0 0 869.5,1882.0L866.6,1879.7A265.3,265.3 0 0 0 869.1,1876.5L869.1,1876.5A265.3,265.3 0 0 0 871.6,1873.3L873.4,1874.7A267.5,267.5 0 0 0 875.8,1871.4L875.3,1871.0A266.8,266.8 0 0 0 877.7,1867.7L877.6,1867.7A266.8,266.8 0 0 0 880.0,1864.4L879.7,1864.2A266.5,266.5 0 0 0 882.0,1860.9L882.0,1860.9A266.4,266.4 0 0 0 884.2,1857.5L883.9,1857.3A266.1,266.1 0 0 0 886.1,1853.9L886.0,1853.9A266.0,266.0 0 0 0 888.2,1850.4L890.3,1851.7A268.5,268.5 0 0 0 892.4,1848.2L892.2,1848.1A268.3,268.3 0 0 0 894.3,1844.6L894.2,1844.5A268.2,268.2 0 0 0 896.2,1841.0L894.6,1840.1A266.4,266.4 0 0 0 896.5,1836.5L894.8,1835.6A264.5,264.5 0 0 0 896.6,1832.1L898.5,1833.0A266.6,266.6 0 0 0 900.3,1829.4L900.3,1829.4A266.5,266.5 0 0 0 902.0,1825.7L901.0,1825.2A265.4,265.4 0 0 0 902.7,1821.6L904.3,1822.3A267.1,267.1 0 0 0 905.9,1818.6L905.9,1818.6A267.0,267.0 0 0 0 907.5,1814.8L904.6,1813.6A264.0,264.0 0 0 0 906.2,1809.9L906.1,1809.9A263.9,263.9 0 0 0 907.6,1806.2L909.3,1806.8A265.8,265.8 0 0 0 910.7,1803.0L912.6,1803.7A267.8,267.8 0 0 0 913.9,1799.9L913.9,1799.9A267.7,267.7 0 0 0 915.2,1796.0L911.8,1794.9A264.2,264.2 0 0 0 913.0,1791.1L916.5,1792.2A267.8,267.8 0 0 0 917.7,1788.3L916.6,1787.9A266.6,266.6 0 0 0 917.7,1784.0L917.6,1784.0A266.6,266.6 0 0 0 918.7,1780.1L918.1,1780.0A266.0,266.0 0 0 0 919.1,1776.1L917.7,1775.7A264.5,264.5 0 0 0 918.6,1771.8L919.1,1771.9A265.0,265.0 0 0 0 920.0,1768.0L919.9,1768.0A264.9,264.9 0 0 0 920.7,1764.0L921.6,1764.2A265.8,265.8 0 0 0 922.4,1760.2L922.3,1760.2A265.8,265.8 0 0 0 923.1,1756.2L922.3,1756.1A265.0,265.0 0 0 0 923.0,1752.1L922.9,1752.1A265.0,265.0 0 0 0 923.5,1748.1L924.3,1748.2A265.8,265.8 0 0 0 924.8,1744.2L924.7,1744.2A265.7,265.7 0 0 0 925.2,1740.2L923.6,1740.0A264.0,264.0 0 0 0 924.0,1736.0L923.9,1736.0A264.0,264.0 0 0 0 924.2,1732.0L926.3,1732.2A266.1,266.1 0 0 0 926.6,1728.2L926.5,1728.2A266.0,266.0 0 0 0 926.7,1724.1L927.0,1724.1A266.2,266.2 0 0 0 927.1,1720.1L925.4,1720.0A264.6,264.6 0 0 0 925.5,1716.0L923.9,1716.0A263.0,263.0 0 0 0 924.0,1712.0L891.0,1712.0A230.0,230.0 0 1 1 661.0,1482.0Z" fill="#00440e"/>
<path d="M661.0,1487.0A225.0,225.0 0 1 0 886.0,1712.0L868.0,1712.0A207.0,207.0 0 1 1 661.0,1505.0Z" fill="#c9c9c9"/>
<path d="M661.0,1505.0L661.0,1504.4A207.6,207.6 0 0 0 657.8,1504.5L657.8,1503.7A208.3,208.3 0 0 0 654.7,1503.8L654.7,1504.5A207.6,207.6 0 0 0 651.5,1504.6L651.5,1503.3A208.9,208.9 0 0 0 648.3,1503.5L648.4,1504.5A207.9,207.9 0 0 0 645.2,1504.7L645.2,1505.1A207.5,207.5 0 0 0 642.1,1505.3L642.1,1505.1A207.8,207.8 0 0 0 638.9,1505.4L638.9,1505.2A208.0,208.0 0 0 0 635.8,1505.6L635.4,1502.5A211.1,211.1 0 0 0 632.2,1502.9L632.0,1501.3A212.7,212.7 0 0 0 628.8,1501.7L628.9,1502.5A212.0,212.0 0 0 0 625.7,1503.0L623.6,1490.7A224.5,224.5 0 0 0 620.3,1491.3L620.6,1492.8A222.9,222.9 0 0 0 617.2,1493.5L617.4,1494.2A222.1,222.1 0 0 0 614.1,1494.9L614.8,1498.1A218.8,218.8 0 0 0 611.5,1498.9L610.3,1493.3A224.5,224.5 0 0 0 606.9,1494.1L609.5,1504.5A213.8,213.8 0 0 0 606.4,1505.3L606.9,1507.4A211.7,211.7 0 0 0 603.8,1508.2L603.7,1508.0A211.9,211.9 0 0 0 600.6,1508.8L600.9,1509.6A211.2,211.2 0 0 0 597.8,1510.5L598.5,1512.8A208.7,208.7 0 0 0 595.5,1513.8L595.7,1514.6A208.0,208.0 0 0 0 592.7,1515.6L592.2,1514.0A209.6,209.6 0 0 0 589.2,1515.0L589.7,1516.6A208.0,208.0 0 0 0 586.8,1517.7L587.0,1518.1A207.5,207.5 0 0 0 584.0,1519.3L583.8,1518.8A208.1,208.1 0 0 0 580.9,1520.0L581.1,1520.4A207.6,207.6 0 0 0 578.2,1521.6L578.0,1521.2A208.1,208.1 0 0 0 575.1,1522.5L575.2,1522.7A207.8,207.8 0 0 0 572.3,1524.0L572.3,1524.0A207.9,207.9 0 0 0 569.5,1525.4L569.3,1525.0A208.3,208.3 0 0 0 566.4,1526.4L566.7,1527.0A207.6,207.6 0 0 0 563.9,1528.4L563.3,1527.2A209.0,209.0 0 0 0 560.5,1528.7L560.8,1529.3A208.4,208.4 0 0 0 558.0,1530.8L558.1,1531.0A208.2,208.2 0 0 0 555.4,1532.6L554.9,1531.8A209.1,209.1 0 0 0 552.2,1533.5L551.9,1532.9A209.7,209.7 0 0 0 549.2,1534.6L550.3,1536.3A207.7,207.7 0 0 0 547.6,1538.0L547.0,1537.2A208.7,208.7 0 0 0 544.4,1538.9L544.7,1539.4A208.1,208.1 0 0 0 542.1,1541.2L541.8,1540.7A208.7,208.7 0 0 0 539.2,1542.5L538.9,1542.1A209.2,209.2 0 0 0 536.3,1544.0L535.9,1543.5A209.9,209.9 0 0 0 533.4,1545.4L534.3,1546.6A208.3,208.3 0 0 0 531.8,1548.6L531.2,1547.8A209.3,209.3 0 0 0 528.7,1549.8L528.7,1549.8A209.3,209.3 0 0 0 526.3,1551.8L527.0,1552.6A208.2,208.2 0 0 0 524.6,1554.7L524.3,1554.4A208.6,208.6 0 0 0 522.0,1556.5L522.5,1557.1A207.8,207.8 0 0 0 520.2,1559.3L518.6,1557.5A210.1,210.1 0 0 0 516.2,1559.7L517.4,1560.9A208.4,208.4 0 0 0 515.1,1563.1L513.9,1561.9A210.2,210.2 0 0 0 511.6,1564.1L512.5,1565.0A209.0,209.0 0 0 0 510.2,1567.2L510.5,1567.5A208.6,208.6 0 0 0 508.4,1569.8L507.7,1569.2A209.5,209.5 0 0 0 505.5,1571.6L505.5,1571.5A209.6,209.6 0 0 0 503.4,1573.9L502.5,1573.1A210.7,210.7 0 0 0 500.4,1575.5L500.5,1575.6A210.6,210.6 0 0 0 498.4,1578.1L496.2,1576.3A213.5,213.5 0 0 0 494.2,1578.8L496.1,1580.3A211.0,211.0 0 0 0 494.2,1582.8L495.5,1583.9A209.3,209.3 0 0 0 493.6,1586.4L494.2,1586.9A208.5,208.5 0 0 0 492.3,1589.4L485.4,1584.4A217.0,217.0 0 0 0 483.5,1587.1L486.5,1589.2A213.4,213.4 0 0 0 484.6,1591.9L486.2,1593.0A211.4,211.4 0 0 0 484.5,1595.6L483.9,1595.3A212.1,212.1 0 0 0 482.1,1598.0L484.9,1599.7A208.9,208.9 0 0 0 483.2,1602.4L478.5,1599.5A214.4,214.4 0 0 0 476.8,1602.3L476.6,1602.2A214.7,214.7 0 0 0 474.9,1605.0L476.4,1605.8A213.0,213.0 0 0 0 474.8,1608.6L475.9,1609.2A211.8,211.8 0 0 0 474.3,1612.1L470.5,1610.0A216.0,216.0 0 0 0 469.0,1612.9L470.8,1613.9A214.1,214.1 0 0 0 469.3,1616.8L469.6,1616.9A213.7,213.7 0 0 0 468.2,1619.8L466.2,1618.9A216.0,216.0 0 0 0 464.8,1621.8L468.8,1623.7A211.5,211.5 0 0 0 467.5,1626.6L464.6,1625.4A214.7,214.7 0 0 0 463.3,1628.4L456.5,1625.5A222.1,222.1 0 0 0 455.2,1628.6L459.3,1630.3A217.6,217.6 0 0 0 458.1,1633.3L457.7,1633.2A218.0,218.0 0 0 0 456.5,1636.3L459.9,1637.5A214.4,214.4 0 0 0 458.8,1640.6L457.3,1640.1A216.0,216.0 0 0 0 456.3,1643.2L455.2,1642.8A217.1,217.1 0 0 0 454.2,1646.0L454.1,1645.9A217.1,217.1 0 0 0 453.2,1649.1L451.6,1648.6A218.8,218.8 0 0 0 450.7,1651.8L448.6,1651.2A220.9,220.9 0 0 0 447.7,1654.5L451.1,1655.4A217.4,217.4 0 0 0 450.3,1658.6L452.7,1659.2A214.8,214.8 0 0 0 452.0,1662.4L450.4,1662.0A216.5,216.5 0 0 0 449.6,1665.2L449.6,1665.2A216.6,216.6 0 0 0 448.9,1668.4L447.8,1668.2A217.7,217.7 0 0 0 447.1,1671.4L451.8,1672.3A212.9,212.9 0 0 0 451.2,1675.5L453.4,1675.9A210.7,210.7 0 0 0 452.9,1679.0L439.3,1676.9A224.5,224.5 0 0 0 438.8,1680.3L448.4,1681.6A214.8,214.8 0 0 0 447.9,1684.9L444.0,1684.4A218.8,218.8 0 0 0 443.6,1687.7L437.9,1687.0A224.5,224.5 0 0 0 437.6,1690.4L443.6,1691.0A218.4,218.4 0 0 0 443.3,1694.3L451.2,1695.0A210.4,210.4 0 0 0 451.0,1698.1L451.4,1698.2A210.1,210.1 0 0 0 451.2,1701.4L452.7,1701.4A208.6,208.6 0 0 0 452.5,1704.6L453.2,1704.6A208.0,208.0 0 0 0 453.1,1707.8L453.3,1707.8A207.7,207.7 0 0 0 453.3,1710.9L452.4,1710.9A208.6,208.6 0 0 0 452.4,1714.1L452.8,1714.1A208.3,208.3 0 0 0 452.8,1717.3L453.3,1717.3A207.7,207.7 0 0 0 453.4,1720.4L453.4,1720.4A207.7,207.7 0 0 0 453.6,1723.6L453.5,1723.6A207.9,207.9 0 0 0 453.7,1726.7L453.8,1726.7A207.8,207.8 0 0 0 454.0,1729.9L454.2,1729.9A207.6,207.6 0 0 0 454.5,1733.0L454.0,1733.0A208.0,208.0 0 0 0 454.4,1736.2L454.9,1736.1A207.5,207.5 0 0 0 455.3,1739.3L455.2,1739.3A207.6,207.6 0 0 0 455.7,1742.4L455.4,1742.4A207.9,207.9 0 0 0 455.8,1745.6L455.9,1745.5A207.8,207.8 0 0 0 456.5,1748.7L456.7,1748.6A207.5,207.5 0 0 0 457.3,1751.7L457.1,1751.8A207.8,207.8 0 0 0 457.7,1754.9L457.1,1755.0A208.3,208.3 0 0 0 457.8,1758.1L458.4,1757.9A207.7,207.7 0 0 0 459.2,1761.0L459.1,1761.0A207.7,207.7 0 0 0 459.9,1764.1L458.9,1764.3A208.8,208.8 0 0 0 459.7,1767.4L460.7,1767.1A207.7,207.7 0 0 0 461.6,1770.2L461.5,1770.2A207.8,207.8 0 0 0 462.4,1773.2L462.4,1773.2A207.8,207.8 0 0 0 463.4,1776.2L463.4,1776.2A207.8,207.8 0 0 0 464.4,1779.2L464.5,1779.2A207.6,207.6 0 0 0 465.6,1782.1L465.7,1782.1A207.5,207.5 0 0 0 466.7,1785.1L465.6,1785.5A208.8,208.8 0 0 0 466.7,1788.5L467.3,1788.2A208.1,208.1 0 0 0 468.5,1791.2L467.9,1791.4A208.8,208.8 0 0 0 469.1,1794.4L470.3,1793.8A207.5,207.5 0 0 0 471.5,1796.7L471.3,1796.8A207.8,207.8 0 0 0 472.7,1799.7L472.9,1799.6A207.5,207.5 0 0 0 474.2,1802.5L473.0,1803.0A208.9,208.9 0 0 0 474.4,1805.9L474.8,1805.7A208.4,208.4 0 0 0 476.2,1808.5L476.7,1808.3A208.0,208.0 0 0 0 478.1,1811.1L477.7,1811.3A208.5,208.5 0 0 0 479.2,1814.1L479.8,1813.8A207.9,207.9 0 0 0 481.3,1816.5L481.6,1816.4A207.5,207.5 0 0 0 483.2,1819.1L483.2,1819.1A207.5,207.5 0 0 0 484.9,1821.8L484.9,1821.8A207.5,207.5 0 0 0 486.6,1824.4L486.5,1824.5A207.7,207.7 0 0 0 488.2,1827.2L488.3,1827.1A207.5,207.5 0 0 0 490.1,1829.7L489.8,1829.8A207.8,207.8 0 0 0 491.7,1832.4L491.9,1832.3A207.5,207.5 0 0 0 493.7,1834.8L493.6,1834.9A207.7,207.7 0 0 0 495.5,1837.4L495.4,1837.5A207.8,207.8 0 0 0 497.3,1840.0L497.3,1840.1A207.9,207.9 0 0 0 499.2,1842.6L498.6,1843.1A208.7,208.7 0 0 0 500.6,1845.5L500.3,1845.7A209.0,209.0 0 0 0 502.4,1848.2L503.2,1847.5A208.0,208.0 0 0 0 505.3,1849.9L505.1,1850.0A208.2,208.2 0 0 0 507.3,1852.3L506.5,1853.0A209.1,209.1 0 0 0 508.7,1855.3L508.6,1855.4A209.2,209.2 0 0 0 510.8,1857.7L510.8,1857.7A209.3,209.3 0 0 0 513.0,1860.0L512.0,1861.0A210.7,210.7 0 0 0 514.3,1863.3L514.7,1862.9A210.2,210.2 0 0 0 517.0,1865.1L515.2,1867.0A212.8,212.8 0 0 0 517.5,1869.2L518.5,1868.1A211.4,211.4 0 0 0 520.9,1870.3L522.2,1868.8A209.5,209.5 0 0 0 524.6,1870.9L521.1,1874.9A214.7,214.7 0 0 0 523.6,1877.0L525.6,1874.6A211.6,211.6 0 0 0 528.1,1876.7L528.1,1876.7A211.7,211.7 0 0 0 530.6,1878.7L530.5,1878.8A211.8,211.8 0 0 0 533.1,1880.8L532.6,1881.4A212.6,212.6 0 0 0 535.2,1883.3L534.6,1884.2A213.6,213.6 0 0 0 537.2,1886.1L538.1,1884.7A212.0,212.0 0 0 0 540.8,1886.6L540.7,1886.7A212.1,212.1 0 0 0 543.4,1888.5L545.2,1885.8A208.8,208.8 0 0 0 547.9,1887.5L547.3,1888.4A209.9,209.9 0 0 0 550.0,1890.1L548.7,1892.1A212.3,212.3 0 0 0 551.5,1893.8L552.1,1892.7A211.0,211.0 0 0 0 554.9,1894.4L554.2,1895.6A212.4,212.4 0 0 0 557.0,1897.2L558.2,1895.0A209.9,209.9 0 0 0 561.0,1896.6L561.0,1896.5A209.9,209.9 0 0 0 563.8,1898.0L559.9,1905.6A218.4,218.4 0 0 0 562.8,1907.1L567.2,1898.5A208.8,208.8 0 0 0 570.0,1899.9L568.6,1902.9A212.1,212.1 0 0 0 571.5,1904.3L572.0,1903.1A210.8,210.8 0 0 0 575.0,1904.4L574.5,1905.5A211.9,211.9 0 0 0 577.4,1906.8L577.4,1906.7A211.9,211.9 0 0 0 580.4,1908.0L579.2,1911.0A215.2,215.2 0 0 0 582.2,1912.2L582.8,1910.6A213.4,213.4 0 0 0 585.9,1911.8L586.9,1909.0A210.5,210.5 0 0 0 589.9,1910.1L589.6,1910.8A211.3,211.3 0 0 0 592.7,1911.9L590.6,1917.9A217.5,217.5 0 0 0 593.8,1918.9L594.5,1916.7A215.3,215.3 0 0 0 597.6,1917.7L599.5,1911.5A208.7,208.7 0 0 0 602.6,1912.4L602.0,1914.3A210.7,210.7 0 0 0 605.1,1915.2L604.5,1917.2A212.8,212.8 0 0 0 607.7,1918.0L607.6,1918.1A212.9,212.9 0 0 0 610.8,1918.9L610.9,1918.2A212.2,212.2 0 0 0 614.1,1918.9L614.8,1915.7A208.8,208.8 0 0 0 617.9,1916.3L617.3,1919.2A211.8,211.8 0 0 0 620.5,1919.9L620.4,1920.4A212.4,212.4 0 0 0 623.5,1921.0L624.0,1918.7A210.0,210.0 0 0 0 627.1,1919.2L626.4,1923.7A214.5,214.5 0 0 0 629.6,1924.2L630.2,1919.8A210.1,210.1 0 0 0 633.4,1920.3L633.4,1920.3A210.2,210.2 0 0 0 636.6,1920.7L635.4,1930.4A219.9,219.9 0 0 0 638.8,1930.7L639.6,1922.4A211.5,211.5 0 0 0 642.8,1922.7L642.7,1923.7A212.5,212.5 0 0 0 645.9,1923.9L645.7,1926.8A215.3,215.3 0 0 0 649.0,1927.0L649.0,1927.1A215.5,215.5 0 0 0 652.3,1927.3L652.4,1924.6A212.7,212.7 0 0 0 655.6,1924.7L655.4,1933.2A221.3,221.3 0 0 0 658.8,1933.2L658.9,1922.6A210.6,210.6 0 0 0 662.1,1922.6L662.1,1928.0A216.0,216.0 0 0 0 665.4,1928.0L665.5,1933.9A221.9,221.9 0 0 0 668.9,1933.8L668.6,1926.8A214.9,214.9 0 0 0 671.9,1926.7L671.8,1924.0A212.3,212.3 0 0 0 675.0,1923.8L674.8,1921.0A209.5,209.5 0 0 0 678.0,1920.8L678.3,1924.8A213.5,213.5 0 0 0 681.5,1924.5L682.4,1933.7A222.7,222.7 0 0 0 685.8,1933.3L684.7,1924.1A213.4,213.4 0 0 0 688.0,1923.7L687.6,1921.2A210.9,210.9 0 0 0 690.8,1920.8L691.6,1926.3A216.4,216.4 0 0 0 694.9,1925.8L694.4,1922.6A213.2,213.2 0 0 0 697.6,1922.1L697.7,1922.7A213.9,213.9 0 0 0 700.9,1922.1L701.7,1926.8A218.6,218.6 0 0 0 705.0,1926.1L704.2,1922.4A214.8,214.8 0 0 0 707.4,1921.7L708.2,1925.3A218.4,218.4 0 0 0 711.5,1924.5L711.4,1924.4A218.3,218.3 0 0 0 714.7,1923.6L713.5,1919.1A213.6,213.6 0 0 0 716.6,1918.2L715.5,1914.1A209.3,209.3 0 0 0 718.6,1913.2L718.6,1913.2A209.3,209.3 0 0 0 721.6,1912.3L722.6,1915.7A212.8,212.8 0 0 0 725.7,1914.7L724.7,1911.3A209.2,209.2 0 0 0 727.7,1910.3L728.8,1913.6A212.7,212.7 0 0 0 731.8,1912.6L733.5,1917.3A217.7,217.7 0 0 0 736.6,1916.2L735.1,1912.0A213.3,213.3 0 0 0 738.1,1910.9L737.9,1910.3A212.7,212.7 0 0 0 740.9,1909.1L742.0,1911.7A215.5,215.5 0 0 0 745.0,1910.5L747.1,1915.4A220.9,220.9 0 0 0 750.1,1914.1L746.8,1906.6A212.7,212.7 0 0 0 749.8,1905.2L749.4,1904.4A211.7,211.7 0 0 0 752.3,1903.0L752.7,1903.9A212.7,212.7 0 0 0 755.6,1902.5L755.9,1903.0A213.3,213.3 0 0 0 758.8,1901.6L758.8,1901.6A213.3,213.3 0 0 0 761.7,1900.1L760.9,1898.7A211.7,211.7 0 0 0 763.8,1897.1L763.8,1897.1A211.7,211.7 0 0 0 766.6,1895.5L765.3,1893.4A209.2,209.2 0 0 0 768.0,1891.7L769.8,1894.7A212.7,212.7 0 0 0 772.6,1893.0L774.1,1895.5A215.5,215.5 0 0 0 776.8,1893.7L775.7,1891.9A213.3,213.3 0 0 0 778.4,1890.1L778.4,1890.1A213.3,213.3 0 0 0 781.1,1888.3L781.6,1889.1A214.2,214.2 0 0 0 784.3,1887.2L783.7,1886.4A213.2,213.2 0 0 0 786.3,1884.5L788.8,1887.9A217.4,217.4 0 0 0 791.5,1886.0L788.8,1882.4A213.1,213.1 0 0 0 791.4,1880.5L789.0,1877.3A209.1,209.1 0 0 0 791.5,1875.4L798.2,1883.8A219.9,219.9 0 0 0 800.8,1881.7L796.3,1876.2A212.8,212.8 0 0 0 798.8,1874.1L797.1,1872.1A210.1,210.1 0 0 0 799.5,1870.0L801.1,1871.9A212.6,212.6 0 0 0 803.5,1869.7L801.1,1867.0A208.9,208.9 0 0 0 803.4,1864.9L805.8,1867.4A212.4,212.4 0 0 0 808.1,1865.2L810.6,1867.8A216.0,216.0 0 0 0 813.0,1865.5L809.9,1862.4A211.7,211.7 0 0 0 812.2,1860.2L811.6,1859.6A210.8,210.8 0 0 0 813.8,1857.3L813.8,1857.2A210.8,210.8 0 0 0 815.9,1854.9L816.4,1855.3A211.4,211.4 0 0 0 818.6,1852.9L820.2,1854.3A213.5,213.5 0 0 0 822.3,1851.9L818.6,1848.7A208.7,208.7 0 0 0 820.7,1846.3L822.6,1847.9A211.1,211.1 0 0 0 824.6,1845.4L824.8,1845.6A211.4,211.4 0 0 0 826.8,1843.1L825.2,1841.8A209.3,209.3 0 0 0 827.2,1839.3L830.7,1842.0A213.8,213.8 0 0 0 832.7,1839.4L832.4,1839.2A213.4,213.4 0 0 0 834.3,1836.6L832.0,1834.9A210.6,210.6 0 0 0 833.8,1832.3L834.6,1832.9A211.5,211.5 0 0 0 836.4,1830.2L837.1,1830.7A212.4,212.4 0 0 0 838.9,1828.0L836.9,1826.7A210.0,210.0 0 0 0 838.6,1824.0L837.4,1823.2A208.5,208.5 0 0 0 839.1,1820.5L839.0,1820.4A208.4,208.4 0 0 0 840.6,1817.7L840.5,1817.7A208.3,208.3 0 0 0 842.1,1814.9L845.2,1816.7A211.9,211.9 0 0 0 846.8,1813.9L844.6,1812.7A209.4,209.4 0 0 0 846.1,1809.9L846.0,1809.8A209.3,209.3 0 0 0 847.5,1807.0L847.7,1807.1A209.5,209.5 0 0 0 849.1,1804.3L847.7,1803.6A207.9,207.9 0 0 0 849.1,1800.7L849.7,1801.0A208.6,208.6 0 0 0 851.0,1798.1L851.8,1798.5A209.5,209.5 0 0 0 853.1,1795.6L851.9,1795.1A208.2,208.2 0 0 0 853.2,1792.2L853.6,1792.3A208.6,208.6 0 0 0 854.8,1789.4L854.2,1789.2A208.1,208.1 0 0 0 855.4,1786.2L855.6,1786.3A208.3,208.3 0 0 0 856.7,1783.4L856.4,1783.3A208.0,208.0 0 0 0 857.5,1780.3L857.4,1780.2A207.9,207.9 0 0 0 858.4,1777.2L859.0,1777.4A208.5,208.5 0 0 0 859.9,1774.4L859.6,1774.3A208.2,208.2 0 0 0 860.6,1771.3L860.3,1771.2A207.9,207.9 0 0 0 861.1,1768.2L862.1,1768.4A208.9,208.9 0 0 0 862.9,1765.4L861.6,1765.0A207.5,207.5 0 0 0 862.4,1762.0L862.4,1762.0A207.5,207.5 0 0 0 863.2,1758.9L863.7,1759.0A208.1,208.1 0 0 0 864.4,1756.0L863.9,1755.8A207.5,207.5 0 0 0 864.5,1752.7L864.8,1752.8A207.8,207.8 0 0 0 865.4,1749.7L865.2,1749.7A207.6,207.6 0 0 0 865.7,1746.6L865.6,1746.5A207.5,207.5 0 0 0 866.1,1743.4L866.9,1743.6A208.4,208.4 0 0 0 867.4,1740.4L866.7,1740.3A207.6,207.6 0 0 0 867.1,1737.2L867.0,1737.2A207.5,207.5 0 0 0 867.4,1734.0L867.9,1734.1A208.0,208.0 0 0 0 868.2,1730.9L868.8,1731.0A208.7,208.7 0 0 0 869.1,1727.8L867.9,1727.8A207.5,207.5 0 0 0 868.2,1724.6L868.4,1724.6A207.7,207.7 0 0 0 868.5,1721.5L868.3,1721.5A207.5,207.5 0 0 0 868.4,1718.3L868.6,1718.3A207.7,207.7 0 0 0 868.7,1715.2L868.8,1715.2A207.8,207.8 0 0 0 868.8,1712.0L868.0,1712.0A207.0,207.0 0 1 1 661.0,1505.0Z" fill="#333"/>
<path d="M614.8,1516.4A201.0,201.0 0 0 0 609.7,1517.7L612.8,1529.8A188.5,188.5 0 0 1 617.6,1528.6Z" fill="#666"/>
<path d="M482.5,1619.5A201.0,201.0 0 0 0 480.0,1624.5L491.3,1630.0A188.5,188.5 0 0 1 493.6,1625.3Z" fill="#777"/>
<path d="M478.2,1628.3A201.0,201.0 0 0 0 476.0,1633.5L487.5,1638.3A188.5,188.5 0 0 1 489.6,1633.5Z" fill="#777"/>
<path d="M461.6,1686.8A201.0,201.0 0 0 0 461.0,1692.4L473.4,1693.6A188.5,188.5 0 0 1 474.0,1688.4Z" fill="#888"/>
<path d="M499.0,1831.0A201.0,201.0 0 0 0 502.4,1835.5L512.3,1827.8A188.5,188.5 0 0 1 509.1,1823.6Z" fill="#666"/>
<path d="M618.5,1908.5A201.0,201.0 0 0 0 630.2,1910.6L632.2,1898.3A188.5,188.5 0 0 1 621.2,1896.2Z" fill="#888"/>
<path d="M652.6,1912.8A201.0,201.0 0 0 0 657.1,1913.0L657.4,1900.5A188.5,188.5 0 0 1 653.1,1900.3Z" fill="#666"/>
<path d="M690.7,1910.8A201.0,201.0 0 0 0 695.2,1910.1L693.1,1897.7A188.5,188.5 0 0 1 688.9,1898.4Z" fill="#888"/>
<path d="M735.3,1898.8A201.0,201.0 0 0 0 739.5,1897.0L734.7,1885.5A188.5,188.5 0 0 1 730.7,1887.1Z" fill="#666"/>
<path d="M671.7,405.6A104.4,104.4 0 0 0 668.1,405.7M671.7,405.6L671.7,402.7M668.1,405.7L667.9,401.7M664.4,405.9A104.3,104.3 0 0 0 660.8,406.2M664.4,405.9L664.1,400.9M660.8,406.2L660.5,403.6M670.1,415.7A94.3,94.3 0 0 0 663.5,416.1M670.1,415.7L669.9,405.6M663.5,416.1L662.6,406.1M657.2,406.8A104.2,104.2 0 0 0 653.6,407.4M657.2,406.8L656.5,402.1M653.6,407.4L653.1,404.8M650.1,408.3A104.0,104.0 0 0 0 646.5,409.1M650.1,408.3L648.9,402.5M646.5,409.1L645.4,404.4M656.8,415.8A95.3,95.3 0 0 0 650.3,417.1M656.8,415.8L655.4,407.1M650.3,417.1L648.3,408.6M667.6,430.9A79.2,79.2 0 0 0 656.6,432.3M667.6,430.9L666.8,415.8M656.6,432.3L653.5,416.4M642.8,409.2A104.8,104.8 0 0 0 639.3,410.3M642.8,409.2L642.1,406.8M639.3,410.3L638.5,407.8M635.8,411.5A104.9,104.9 0 0 0 632.4,412.8M635.8,411.5L634.7,408.3M632.4,412.8L631.2,409.7M644.1,419.9A94.2,94.2 0 0 0 637.9,422.0M644.1,419.9L641.0,409.7M637.9,422.0L634.1,412.1M630.3,417.0A101.8,101.8 0 0 0 627.1,418.5M630.3,417.0L628.4,412.7M627.1,418.5L625.6,415.5M625.4,422.9A98.6,98.6 0 0 0 622.4,424.6M625.4,422.9L623.8,419.9M622.4,424.6L620.5,421.3M633.2,427.5A91.1,91.1 0 0 0 627.6,430.4M633.2,427.5L628.7,417.7M627.6,430.4L623.9,423.8M644.9,432.1A82.4,82.4 0 0 0 634.3,436.6M644.9,432.1L641.0,420.9M634.3,436.6L630.4,428.9M664.1,448.5A62.0,62.0 0 0 0 647.5,452.9M664.1,448.5L662.1,431.4M647.5,452.9L639.5,434.2M620.8,431.6A93.4,93.4 0 0 0 618.7,433.0M620.8,431.6L619.0,428.8M618.7,433.0L616.5,429.8M618.2,436.6A90.9,90.9 0 0 0 616.2,438.0M618.2,436.6L616.4,434.1M616.2,438.0L615.3,436.9M620.3,441.4A85.7,85.7 0 0 0 617.6,443.6M620.3,441.4L617.2,437.3M617.6,443.6L613.1,438.1M627.9,444.5A78.8,78.8 0 0 0 623.2,447.9M627.9,444.5L619.8,432.3M623.2,447.9L618.9,442.5M614.1,446.6A85.7,85.7 0 0 0 612.4,448.2M614.1,446.6L610.7,442.9M612.4,448.2L611.0,446.8M618.0,447.7A82.3,82.3 0 0 0 615.6,449.9M618.0,447.7L611.7,440.3M615.6,449.9L613.2,447.4M632.0,455.1A67.8,67.8 0 0 0 626.5,459.6M632.0,455.1L625.5,446.2M626.5,459.6L616.8,448.8M612.7,451.7A82.9,82.9 0 0 0 611.1,453.3M612.7,451.7L610.6,449.7M611.1,453.3L610.4,452.6M611.3,456.5A80.7,80.7 0 0 0 609.9,458.1M611.3,456.5L608.3,453.8M609.9,458.1L608.3,456.8M617.8,458.2A74.7,74.7 0 0 0 615.1,461.2M617.8,458.2L611.9,452.5M615.1,461.2L610.6,457.3M635.3,464.9A58.0,58.0 0 0 0 628.8,471.0M635.3,464.9L629.2,457.3M628.8,471.0L616.4,459.7M659.0,462.7A49.0,49.0 0 0 0 638.1,474.3M659.0,462.7L655.7,450.1M638.1,474.3L631.9,467.8M574.1,438.4A121.0,121.0 0 0 0 572.0,441.4M574.1,438.4L574.2,438.4M572.0,441.4L571.1,440.7M576.9,435.9A120.3,120.3 0 0 0 573.6,440.3M576.9,435.9L575.5,434.8M573.6,440.3L573.1,439.9M568.1,447.6A121.0,121.0 0 0 0 566.2,450.7M568.1,447.6L565.5,446.0M566.2,450.7L566.9,451.1M570.5,444.8A120.4,120.4 0 0 0 567.7,449.5M570.5,444.8L569.4,444.1M567.7,449.5L567.1,449.1M578.0,440.2A116.8,116.8 0 0 0 572.1,449.0M578.0,440.2L575.2,438.1M572.1,449.0L569.1,447.1M563.2,457.4A120.6,120.6 0 0 0 561.6,460.7M563.2,457.4L561.6,456.6M561.6,460.7L562.0,460.9M565.2,454.3A120.2,120.2 0 0 0 562.7,459.2M565.2,454.3L564.0,453.7M562.7,459.2L562.4,459.0M559.2,467.6A120.2,120.2 0 0 0 558.0,471.0M559.2,467.6L558.7,467.4M558.0,471.0L557.7,470.9M560.8,464.3A119.9,119.9 0 0 0 558.9,469.4M560.8,464.3L560.2,464.0M558.9,469.4L558.6,469.3M568.2,458.9A115.4,115.4 0 0 0 564.0,468.4M568.2,458.9L563.9,456.7M564.0,468.4L559.8,466.8M557.2,474.5A119.9,119.9 0 0 0 556.1,478.0M557.2,474.5L556.9,474.5M556.1,478.0L554.7,477.6M555.5,481.6A119.6,119.6 0 0 0 554.7,485.1M555.5,481.6L554.5,481.3M554.7,485.1L552.0,484.5M558.2,476.7A118.3,118.3 0 0 0 556.4,483.7M558.2,476.7L556.6,476.3M556.4,483.7L555.1,483.4M569.4,465.1A111.7,111.7 0 0 0 563.6,481.8M569.4,465.1L566.0,463.6M563.6,481.8L557.3,480.2M582.3,449.5A108.0,108.0 0 0 0 569.7,474.6M582.3,449.5L575.0,444.5M569.7,474.6L566.1,473.3M553.9,491.3A119.2,119.2 0 0 0 553.4,495.1M553.9,491.3L551.5,491.0M553.4,495.1L553.2,495.0M553.3,498.8A119.0,119.0 0 0 0 553.0,502.5M553.3,498.8L551.2,498.6M553.0,502.5L550.3,502.4M555.7,493.5A117.1,117.1 0 0 0 554.9,500.8M555.7,493.5L553.6,493.2M554.9,500.8L553.1,500.7M553.1,506.3A118.7,118.7 0 0 0 553.0,510.0M553.1,506.3L551.5,506.2M553.0,510.0L552.2,510.0M553.4,513.7A118.4,118.4 0 0 0 553.5,517.4M553.4,513.7L553.8,513.7M553.5,517.4L550.8,517.6M555.6,508.2A116.1,116.1 0 0 0 555.7,515.5M555.6,508.2L553.0,508.1M555.7,515.5L553.4,515.6M560.6,497.7A111.7,111.7 0 0 0 560.0,511.8M560.6,497.7L555.3,497.1M560.0,511.8L555.6,511.8M554.1,521.1A118.1,118.1 0 0 0 554.5,524.8M554.1,521.1L552.9,521.2M554.5,524.8L553.4,524.9M554.8,522.9A117.6,117.6 0 0 0 555.5,528.4M554.8,522.9L554.3,523.0M555.5,528.4L552.6,528.9M556.1,532.0A117.7,117.7 0 0 0 556.9,535.7M556.1,532.0L554.5,532.4M556.9,535.7L556.6,535.7M556.9,533.8A117.2,117.2 0 0 0 558.2,539.1M556.9,533.8L556.5,533.9M558.2,539.1L555.3,539.9M559.1,542.7A117.2,117.2 0 0 0 560.2,546.2M559.1,542.7L559.6,542.6M560.2,546.2L559.9,546.3M559.8,535.9A114.9,114.9 0 0 0 561.9,543.8M559.8,535.9L557.5,536.5M561.9,543.8L559.7,544.5M561.1,524.9A111.6,111.6 0 0 0 564.0,539.0M561.1,524.9L555.1,525.7M564.0,539.0L560.8,539.9M565.8,505.0A106.0,106.0 0 0 0 567.8,530.9M565.8,505.0L560.1,504.7M567.8,530.9L562.3,532.0M563.4,553.7A116.8,116.8 0 0 0 564.8,557.1M563.4,553.7L563.6,553.7M564.8,557.1L565.0,557.0M564.2,555.4A116.7,116.7 0 0 0 566.4,560.3M564.2,555.4L564.1,555.4M566.4,560.3L565.6,560.7M568.3,563.4A116.3,116.3 0 0 0 570.0,566.5M568.3,563.4L565.8,564.7M570.0,566.5L568.7,567.3M572.1,569.5A116.1,116.1 0 0 0 573.9,572.6M572.1,569.5L571.0,570.1M573.9,572.6L573.4,572.9M570.2,564.4A115.1,115.1 0 0 0 573.8,570.5M570.2,564.4L569.2,565.0M573.8,570.5L573.0,571.0M568.6,556.4A113.1,113.1 0 0 0 573.7,566.5M568.6,556.4L565.3,557.9M573.7,566.5L572.0,567.5M578.3,578.2A115.6,115.6 0 0 0 580.5,581.1M578.3,578.2L575.9,580.0M580.5,581.1L580.8,580.8M576.2,575.3A115.7,115.7 0 0 0 579.3,579.7M576.2,575.3L574.4,576.6M579.3,579.7L579.4,579.7M582.9,583.7A115.4,115.4 0 0 0 585.3,586.4M582.9,583.7L581.3,585.0M585.3,586.4L583.8,587.6M587.9,588.8A115.1,115.1 0 0 0 590.3,591.4M587.9,588.8L585.8,590.7M590.3,591.4L589.9,591.8M584.8,584.5A114.5,114.5 0 0 0 589.5,589.7M584.8,584.5L584.1,585.0M589.5,589.7L589.1,590.1M580.1,575.8A112.8,112.8 0 0 0 588.3,586.0M580.1,575.8L577.7,577.5M588.3,586.0L587.1,587.1M575.5,559.2A108.0,108.0 0 0 0 587.8,578.0M575.5,559.2L571.0,561.5M587.8,578.0L584.1,581.0M594.7,595.5A115.0,115.0 0 0 0 597.6,597.9M594.7,595.5L594.2,596.1M597.6,597.9L596.6,599.1M596.2,596.7A114.9,114.9 0 0 0 600.6,600.3M596.2,596.7L596.2,596.7M600.6,600.3L599.5,601.6M606.6,604.8A115.0,115.0 0 0 0 609.8,606.9M606.6,604.8L606.1,605.6M609.8,606.9L609.4,607.4M603.5,602.6A115.0,115.0 0 0 0 608.2,605.9M603.5,602.6L603.6,602.5M608.2,605.9L608.2,605.9M600.6,595.8A111.4,111.4 0 0 0 607.9,601.3M600.6,595.8L598.4,598.5M607.9,601.3L605.8,604.3M613.0,608.9A115.0,115.0 0 0 0 616.3,610.8M613.0,608.9L612.4,609.8M616.3,610.8L615.6,612.0M619.6,612.5A115.0,115.0 0 0 0 623.0,614.2M619.6,612.5L619.0,613.7M623.0,614.2L622.8,614.7M615.3,608.6A113.6,113.6 0 0 0 621.9,612.1M615.3,608.6L614.6,609.8M621.9,612.1L621.3,613.4M606.1,596.1A108.2,108.2 0 0 0 621.1,605.7M606.1,596.1L604.2,598.6M621.1,605.7L618.6,610.4M629.9,617.1A115.0,115.0 0 0 0 633.5,618.5M629.9,617.1L629.8,617.5M633.5,618.5L633.6,618.0M626.5,615.7A115.0,115.0 0 0 0 631.7,617.8M626.5,615.7L625.8,617.2M631.7,617.8L631.7,617.8M637.1,619.7A115.0,115.0 0 0 0 640.7,620.7M637.1,619.7L637.0,619.7M640.7,620.7L640.0,623.3M644.3,621.7A115.0,115.0 0 0 0 648.0,622.5M644.3,621.7L644.1,622.6M648.0,622.5L647.9,622.9M646.2,622.1A115.0,115.0 0 0 0 651.7,623.2M646.2,622.1L646.2,622.1M651.7,623.2L651.4,624.9M639.6,617.8A112.5,112.5 0 0 0 649.4,620.2M639.6,617.8L638.9,620.2M649.4,620.2L649.0,622.7M630.6,612.8A110.7,110.7 0 0 0 644.9,617.4M630.6,612.8L629.1,616.8M644.9,617.4L644.5,619.1M615.7,597.6A104.0,104.0 0 0 0 639.8,609.0M615.7,597.6L613.4,601.2M639.8,609.0L637.7,615.4M587.0,565.1A101.0,101.0 0 0 0 628.6,601.4M587.0,565.1L581.2,568.9M628.6,601.4L627.4,604.1M585.0,466.5A97.0,97.0 0 0 0 607.9,583.1M585.0,466.5L575.2,461.6M575.0,517.3L566.0,518.0M607.9,583.1L605.3,586.1M675.5,618.9A109.0,109.0 0 0 0 678.7,618.8M675.5,618.9L675.5,619.8M678.7,618.8L678.9,621.4M677.1,618.0A108.1,108.1 0 0 0 681.8,617.6M677.1,618.0L677.1,618.9M681.8,617.6L681.9,618.3M685.1,618.2A109.0,109.0 0 0 0 688.3,617.7M685.1,618.2L685.1,618.2M688.3,617.7L688.4,618.9M691.4,617.2A109.0,109.0 0 0 0 694.6,616.6M691.4,617.2L691.9,619.6M694.6,616.6L694.8,617.5M686.2,614.7A105.7,105.7 0 0 0 692.3,613.7M686.2,614.7L686.7,618.0M692.3,613.7L693.0,616.9M679.1,612.5A102.8,102.8 0 0 0 688.8,611.3M679.1,612.5L679.4,617.8M688.8,611.3L689.3,614.2M697.7,615.9A109.0,109.0 0 0 0 700.8,615.0M697.7,615.9L697.8,616.4M700.8,615.0L701.2,616.7M699.0,614.5A108.0,108.0 0 0 0 703.6,613.2M699.0,614.5L699.2,615.5M703.6,613.2L704.4,616.0M706.9,613.2A109.0,109.0 0 0 0 709.9,612.1M706.9,613.2L707.2,613.9M709.9,612.1L710.6,613.8M700.3,610.5A104.5,104.5 0 0 0 706.9,608.4M700.3,610.5L701.3,613.9M706.9,608.4L708.4,612.6M683.5,608.0A98.7,98.7 0 0 0 701.9,604.0M683.5,608.0L683.9,612.0M701.9,604.0L703.6,609.5M712.9,610.9A109.0,109.0 0 0 0 715.9,609.7M712.9,610.9L713.1,611.4M715.9,609.7L716.8,611.7M718.8,608.3A109.0,109.0 0 0 0 721.6,606.9M718.8,608.3L720.0,611.0M721.6,606.9L721.6,606.9M713.4,608.0A106.5,106.5 0 0 0 719.1,605.3M713.4,608.0L714.4,610.3M719.1,605.3L720.2,607.6M724.5,605.4A109.0,109.0 0 0 0 727.2,603.8M724.5,605.4L724.9,606.2M727.2,603.8L727.2,603.7M730.0,602.1A109.0,109.0 0 0 0 732.7,600.4M730.0,602.1L731.3,604.2M732.7,600.4L732.9,600.8M724.4,602.1A106.1,106.1 0 0 0 729.8,598.9M724.4,602.1L725.9,604.6M729.8,598.9L731.3,601.3M714.0,601.8A101.1,101.1 0 0 0 724.5,596.2M714.0,601.8L716.3,606.7M724.5,596.2L727.1,600.5M691.3,599.9A92.0,92.0 0 0 0 715.0,591.2M691.3,599.9L692.8,606.4M715.0,591.2L719.3,599.1M588.3,526.4A85.0,85.0 0 0 0 701.1,589.8M588.3,526.4L576.5,528.7M701.1,589.8L703.5,596.3M733.0,591.4A101.9,101.9 0 0 0 735.8,589.2M733.0,591.4L734.6,593.5M735.8,589.2L738.3,592.2M741.1,584.5A101.8,101.8 0 0 0 743.7,582.0M741.1,584.5L742.0,585.4M743.7,582.0L746.5,584.8M736.2,584.2A98.3,98.3 0 0 0 740.0,580.7M736.2,584.2L740.8,589.5M740.0,580.7L742.4,583.2M728.8,583.1A92.7,92.7 0 0 0 734.3,578.4M728.8,583.1L734.4,590.3M734.3,578.4L738.1,582.5M746.4,579.6A102.1,102.1 0 0 0 748.8,577.0M746.4,579.6L748.4,581.5M748.8,577.0L751.5,579.4M751.1,574.3A102.1,102.1 0 0 0 753.3,571.5M751.1,574.3L753.0,575.8M753.3,571.5L756.0,573.6M742.7,573.9A95.5,95.5 0 0 0 747.0,568.8M742.7,573.9L747.6,578.3M747.0,568.8L752.2,572.9M725.8,573.9A83.7,83.7 0 0 0 735.8,563.8M725.8,573.9L731.6,580.8M735.8,563.8L744.9,571.4M755.5,568.7A102.3,102.3 0 0 0 757.5,565.7M755.5,568.7L757.8,570.3M757.5,565.7L760.1,567.4M759.1,562.5A102.0,102.0 0 0 0 760.9,559.4M759.1,562.5L761.8,564.1M760.9,559.4L762.2,560.2M750.1,562.9A94.6,94.6 0 0 0 753.6,557.3M750.1,562.9L756.5,567.2M753.6,557.3L760.0,561.0M762.4,556.2A101.8,101.8 0 0 0 763.9,553.0M762.4,556.2L764.8,557.5M763.9,553.0L767.2,554.5M759.4,552.8A97.5,97.5 0 0 0 761.5,548.1M759.4,552.8L763.2,554.6M761.5,548.1L767.3,550.6M744.8,555.7A86.2,86.2 0 0 0 750.1,545.7M744.8,555.7L751.9,560.1M750.1,545.7L760.5,550.5M722.7,560.8A72.0,72.0 0 0 0 735.1,544.1M722.7,560.8L731.0,569.0M735.1,544.1L747.6,550.8M640.6,565.4A63.5,63.5 0 0 0 722.7,547.8M640.6,565.4L630.1,584.1M722.7,547.8L729.5,552.9M756.5,540.9A90.3,90.3 0 0 0 757.7,537.5M756.5,540.9L759.4,541.9M757.7,537.5L759.9,538.2M759.0,534.1A90.6,90.6 0 0 0 759.9,530.7M759.0,534.1L761.8,534.9M759.9,530.7L760.7,530.8M750.9,537.1A83.7,83.7 0 0 0 752.8,530.7M750.9,537.1L757.1,539.2M752.8,530.7L759.5,532.4M760.8,523.5A90.1,90.1 0 0 0 761.3,520.0M760.8,523.5L762.2,523.8M761.3,520.0L762.7,520.2M757.2,526.5A87.0,87.0 0 0 0 758.0,521.4M757.2,526.5L762.2,527.4M758.0,521.4L761.1,521.8M745.6,532.0A77.1,77.1 0 0 0 747.8,522.3M745.6,532.0L751.9,533.9M747.8,522.3L757.6,523.9M761.8,516.4A90.3,90.3 0 0 0 762.0,512.9M761.8,516.4L765.3,516.7M762.0,512.9L763.1,512.9M757.7,514.4A86.1,86.1 0 0 0 757.8,509.3M757.7,514.4L761.9,514.7M757.8,509.3L763.5,509.3M761.9,505.7A90.3,90.3 0 0 0 761.7,502.1M761.9,505.7L763.6,505.6M761.7,502.1L764.6,501.9M752.2,511.8A80.5,80.5 0 0 0 752.0,504.6M752.2,511.8L757.8,511.9M752.0,504.6L761.8,503.9M737.0,525.0A67.0,67.0 0 0 0 738.7,508.5M737.0,525.0L746.9,527.2M738.7,508.5L752.2,508.2M681.6,556.5A47.5,47.5 0 0 0 719.0,514.8M681.6,556.5L685.0,572.1M719.0,514.8L738.4,516.8M665.9,499.5A12.0,12.0 0 1 0 680.6,518.0M665.9,499.5L647.8,467.2M680.6,518.0L707.1,541.7" fill="none" stroke="#5a5a5a" stroke-width="0.75"/>
<path d="M658.3,1531.1A180.9,180.9 0 0 0 655.7,1531.2M658.3,1531.1L658.3,1532.1M655.7,1531.2L655.7,1531.0M661.0,1531.5A180.5,180.5 0 0 0 657.0,1531.6M661.0,1531.5L661.0,1532.7M657.0,1531.6L657.0,1531.1M653.0,1531.4A180.8,180.8 0 0 0 650.3,1531.5M653.0,1531.4L653.0,1530.5M650.3,1531.5L650.5,1533.9M651.7,1532.1A180.2,180.2 0 0 0 647.7,1532.3M651.7,1532.1L651.7,1531.4M647.7,1532.3L647.5,1529.0M659.1,1536.0A176.0,176.0 0 0 0 650.0,1536.4M659.1,1536.0L659.0,1531.6M650.0,1536.4L649.7,1532.2M642.4,1532.4A180.6,180.6 0 0 0 639.7,1532.7M642.4,1532.4L642.3,1531.9M639.7,1532.7L639.7,1532.9M645.1,1532.6A180.1,180.1 0 0 0 641.1,1533.0M645.1,1532.6L644.9,1530.8M641.1,1533.0L641.0,1532.5M637.1,1533.1A180.5,180.5 0 0 0 634.4,1533.5M637.1,1533.1L636.7,1530.5M634.4,1533.5L634.6,1534.5M643.3,1535.5A177.4,177.4 0 0 0 636.2,1536.4M643.3,1535.5L643.1,1532.8M636.2,1536.4L635.8,1533.3M654.6,1539.5A172.6,172.6 0 0 0 640.3,1540.7M654.6,1539.5L654.5,1536.2M640.3,1540.7L639.8,1535.9M631.8,1534.0A180.4,180.4 0 0 0 629.2,1534.5M631.8,1534.0L631.8,1533.9M629.2,1534.5L629.3,1535.2M624.0,1535.7A180.2,180.2 0 0 0 621.4,1536.2M624.0,1535.7L623.7,1534.3M621.4,1536.2L620.8,1533.4M626.7,1535.5A179.8,179.8 0 0 0 622.8,1536.3M626.7,1535.5L627.0,1537.3M622.8,1536.3L622.7,1535.9M631.1,1537.8A176.7,176.7 0 0 0 625.4,1538.9M631.1,1537.8L630.5,1534.2M625.4,1538.9L624.7,1535.9M618.8,1536.9A180.1,180.1 0 0 0 616.3,1537.6M618.8,1536.9L619.1,1537.8M616.3,1537.6L615.9,1536.2M613.7,1538.4A180.0,180.0 0 0 0 611.2,1539.1M613.7,1538.4L613.5,1537.7M611.2,1539.1L610.6,1537.0M608.6,1539.9A179.8,179.8 0 0 0 606.1,1540.7M608.6,1539.9L608.2,1538.5M606.1,1540.7L605.7,1539.5M613.0,1540.6A178.0,178.0 0 0 0 607.9,1542.1M613.0,1540.6L612.4,1538.7M607.9,1542.1L607.4,1540.3M618.5,1541.0A176.2,176.2 0 0 0 611.0,1543.1M618.5,1541.0L617.6,1537.3M611.0,1543.1L610.4,1541.3M629.0,1542.4A172.6,172.6 0 0 0 615.7,1545.5M629.0,1542.4L628.2,1538.3M615.7,1545.5L614.7,1542.0M648.0,1546.6A165.9,165.9 0 0 0 623.8,1550.3M648.0,1546.6L647.5,1540.0M623.8,1550.3L622.3,1543.8M601.1,1542.6A179.7,179.7 0 0 0 598.6,1543.5M601.1,1542.6L600.4,1540.5M598.6,1543.5L599.1,1544.6M603.8,1542.1A179.3,179.3 0 0 0 600.0,1543.4M603.8,1542.1L602.9,1539.6M600.0,1543.4L599.9,1543.0M596.2,1544.5A179.6,179.6 0 0 0 593.7,1545.5M596.2,1544.5L596.5,1545.2M593.7,1545.5L592.8,1543.2M595.2,1545.6A178.9,178.9 0 0 0 591.5,1547.1M595.2,1545.6L595.0,1545.0M591.5,1547.1L591.8,1547.8M603.1,1546.3A175.5,175.5 0 0 0 594.7,1549.5M603.1,1546.3L601.9,1542.8M594.7,1549.5L593.4,1546.4M586.5,1548.9A179.3,179.3 0 0 0 584.1,1550.0M586.5,1548.9L586.7,1549.2M584.1,1550.0L584.2,1550.1M589.2,1548.3A178.8,178.8 0 0 0 585.5,1549.9M589.2,1548.3L589.6,1549.3M585.5,1549.9L585.3,1549.4M581.8,1551.2A179.2,179.2 0 0 0 579.4,1552.4M581.8,1551.2L581.6,1550.8M579.4,1552.4L578.8,1551.2M588.5,1551.6A176.0,176.0 0 0 0 582.1,1554.7M588.5,1551.6L587.3,1549.1M582.1,1554.7L580.6,1551.8M600.5,1552.1A171.0,171.0 0 0 0 587.4,1557.6M600.5,1552.1L598.9,1547.9M587.4,1557.6L585.3,1553.1M574.8,1555.0A179.1,179.1 0 0 0 572.5,1556.3M574.8,1555.0L573.8,1553.3M572.5,1556.3L572.8,1556.8M577.2,1553.9A179.0,179.0 0 0 0 573.7,1555.8M577.2,1553.9L576.8,1553.1M573.7,1555.8L573.7,1555.7M570.3,1557.8A178.9,178.9 0 0 0 568.0,1559.1M570.3,1557.8L568.8,1555.2M568.0,1559.1L566.9,1557.4M565.8,1560.6A178.8,178.8 0 0 0 563.6,1562.0M565.8,1560.6L565.7,1560.4M563.6,1562.0L564.9,1564.0M570.1,1560.0A177.1,177.1 0 0 0 565.6,1562.7M570.1,1560.0L569.1,1558.4M565.6,1562.7L564.7,1561.3M577.8,1559.2A174.0,174.0 0 0 0 569.5,1564.0M577.8,1559.2L575.4,1554.8M569.5,1564.0L567.8,1561.4M594.6,1556.5A169.1,169.1 0 0 0 576.1,1565.8M594.6,1556.5L593.9,1554.7M576.1,1565.8L573.6,1561.5M636.7,1553.9A160.0,160.0 0 0 0 589.3,1569.0M636.7,1553.9L635.8,1548.0M589.3,1569.0L585.2,1560.8M551.1,1571.4A178.4,178.4 0 0 0 548.9,1573.2M551.1,1571.4L551.7,1572.1M548.9,1573.2L548.1,1572.3M546.7,1575.1A178.3,178.3 0 0 0 544.5,1577.0M546.7,1575.1L548.0,1576.7M544.5,1577.0L545.8,1578.5M542.4,1579.0A178.2,178.2 0 0 0 540.3,1580.9M542.4,1579.0L542.5,1579.1M540.3,1580.9L540.6,1581.3M546.4,1576.9A177.1,177.1 0 0 0 542.0,1580.7M546.4,1576.9L545.6,1576.1M542.0,1580.7L541.3,1580.0M552.0,1574.8A175.2,175.2 0 0 0 545.4,1580.3M552.0,1574.8L550.0,1572.3M545.4,1580.3L544.2,1578.8M536.2,1585.1A178.0,178.0 0 0 0 534.2,1587.1M536.2,1585.1L535.1,1583.9M534.2,1587.1L534.4,1587.3M538.4,1583.2A177.8,177.8 0 0 0 535.3,1586.2M538.4,1583.2L539.2,1584.0M535.3,1586.2L535.2,1586.1M532.2,1589.3A177.9,177.9 0 0 0 530.3,1591.4M532.2,1589.3L533.9,1590.9M530.3,1591.4L528.5,1589.8M528.4,1593.6A177.8,177.8 0 0 0 526.5,1595.8M528.4,1593.6L527.4,1592.6M526.5,1595.8L524.8,1594.3M532.1,1591.1A176.8,176.8 0 0 0 528.2,1595.3M532.1,1591.1L531.3,1590.3M528.2,1595.3L527.5,1594.7M539.6,1587.5A173.9,173.9 0 0 0 532.2,1595.1M539.6,1587.5L536.9,1584.7M532.2,1595.1L530.1,1593.2M551.6,1580.9A170.8,170.8 0 0 0 538.1,1593.4M551.6,1580.9L548.7,1577.5M538.1,1593.4L535.8,1591.2M524.7,1598.0A177.6,177.6 0 0 0 522.9,1600.3M524.7,1598.0L522.8,1596.4M522.9,1600.3L521.7,1599.3M523.9,1599.3A177.5,177.5 0 0 0 521.2,1602.6M523.9,1599.3L523.8,1599.2M521.2,1602.6L519.8,1601.5M519.5,1604.9A177.4,177.4 0 0 0 517.8,1607.2M519.5,1604.9L519.1,1604.6M517.8,1607.2L518.1,1607.5M518.7,1606.1A177.4,177.4 0 0 0 516.1,1609.6M518.7,1606.1L518.6,1606.1M516.1,1609.6L516.2,1609.7M525.0,1602.9A174.3,174.3 0 0 0 519.9,1609.7M525.0,1602.9L522.6,1600.9M519.9,1609.7L517.4,1607.8M514.6,1612.0A177.3,177.3 0 0 0 513.0,1614.4M514.6,1612.0L513.0,1611.0M513.0,1614.4L513.7,1614.9M511.5,1616.9A177.1,177.1 0 0 0 510.0,1619.4M511.5,1616.9L509.4,1615.6M510.0,1619.4L511.9,1620.5M508.6,1621.9A177.0,177.0 0 0 0 507.2,1624.4M508.6,1621.9L506.2,1620.4M507.2,1624.4L507.9,1624.8M512.0,1618.9A175.7,175.7 0 0 0 509.1,1623.8M512.0,1618.9L510.8,1618.1M509.1,1623.8L507.9,1623.1M516.2,1614.9A174.4,174.4 0 0 0 511.7,1622.0M516.2,1614.9L513.8,1613.2M511.7,1622.0L510.5,1621.3M525.5,1608.6A170.5,170.5 0 0 0 517.2,1620.5M525.5,1608.6L522.4,1606.2M517.2,1620.5L513.9,1618.4M548.8,1591.4A164.7,164.7 0 0 0 525.9,1617.8M548.8,1591.4L544.7,1587.0M525.9,1617.8L521.2,1614.4M505.9,1626.9A176.9,176.9 0 0 0 504.6,1629.5M505.9,1626.9L504.4,1626.1M504.6,1629.5L502.0,1628.1M505.3,1628.2A176.9,176.9 0 0 0 503.3,1632.0M505.3,1628.2L505.2,1628.2M503.3,1632.0L505.3,1633.1M502.1,1634.7A176.7,176.7 0 0 0 500.9,1637.3M502.1,1634.7L500.6,1633.9M500.9,1637.3L499.9,1636.8M501.5,1636.0A176.7,176.7 0 0 0 499.7,1639.9M501.5,1636.0L501.5,1636.0M499.7,1639.9L501.9,1640.9M498.7,1642.6A176.5,176.5 0 0 0 497.6,1645.2M498.7,1642.6L499.5,1642.9M497.6,1645.2L498.1,1645.4M502.7,1638.9A174.4,174.4 0 0 0 500.1,1644.7M502.7,1638.9L500.6,1637.9M500.1,1644.7L498.2,1643.9M507.9,1632.0A172.8,172.8 0 0 0 502.8,1642.4M507.9,1632.0L504.2,1630.1M502.8,1642.4L501.4,1641.8M495.7,1650.6A176.3,176.3 0 0 0 494.7,1653.3M495.7,1650.6L494.9,1650.3M494.7,1653.3L493.1,1652.8M496.7,1647.9A176.4,176.4 0 0 0 495.2,1652.0M496.7,1647.9L494.8,1647.2M495.2,1652.0L495.2,1652.0M493.1,1658.8A176.1,176.1 0 0 0 492.2,1661.5M493.1,1658.8L490.4,1657.9M492.2,1661.5L490.1,1660.9M493.9,1656.1A176.2,176.2 0 0 0 492.6,1660.2M493.9,1656.1L491.4,1655.2M492.6,1660.2L492.7,1660.2M498.9,1651.1A173.1,173.1 0 0 0 496.2,1659.0M498.9,1651.1L495.9,1649.9M496.2,1659.0L493.3,1658.1M491.6,1664.3A176.0,176.0 0 0 0 490.8,1667.1M491.6,1664.3L491.1,1664.2M490.8,1667.1L490.0,1666.9M491.2,1665.7A176.0,176.0 0 0 0 490.1,1669.8M491.2,1665.7L491.2,1665.7M490.1,1669.8L490.6,1670.0M489.6,1672.7A175.8,175.8 0 0 0 489.0,1675.4M489.6,1672.7L488.5,1672.4M489.0,1675.4L488.4,1675.3M492.6,1668.3A174.0,174.0 0 0 0 491.1,1674.4M492.6,1668.3L490.7,1667.8M491.1,1674.4L489.3,1674.0M500.2,1656.0A170.3,170.3 0 0 0 495.4,1672.2M500.2,1656.0L497.5,1655.0M495.4,1672.2L491.8,1671.3M510.2,1639.6A167.3,167.3 0 0 0 500.5,1664.9M510.2,1639.6L505.3,1637.2M500.5,1664.9L497.6,1664.0M540.2,1607.1A160.0,160.0 0 0 0 511.6,1654.6M540.2,1607.1L536.7,1604.0M511.6,1654.6L504.9,1652.0M616.7,1572.9A146.0,146.0 0 0 0 535.8,1636.8M616.7,1572.9L612.4,1559.6M535.8,1636.8L523.8,1629.6M486.7,1702.9A174.6,174.6 0 0 0 486.5,1705.9M486.7,1702.9L486.2,1702.8M486.5,1705.9L484.7,1705.8M490.5,1700.1A170.9,170.9 0 0 0 490.3,1704.5M490.5,1700.1L485.4,1699.7M490.3,1704.5L486.6,1704.4M486.4,1712.0A174.6,174.6 0 0 0 486.4,1715.0M486.4,1712.0L483.1,1712.0M486.4,1715.0L483.7,1715.1M490.4,1709.0A170.6,170.6 0 0 0 490.4,1713.5M490.4,1709.0L484.3,1708.9M490.4,1713.5L486.4,1713.5M497.2,1702.7A164.0,164.0 0 0 0 497.0,1711.3M497.2,1702.7L490.4,1702.3M497.0,1711.3L490.4,1711.3M487.2,1718.1A173.9,173.9 0 0 0 487.3,1721.1M487.2,1718.1L485.1,1718.1M487.3,1721.1L489.3,1721.0M491.1,1719.4A170.1,170.1 0 0 0 491.4,1723.9M491.1,1719.4L487.2,1719.6M491.4,1723.9L489.5,1724.0M489.4,1730.0A172.6,172.6 0 0 0 489.7,1733.0M489.4,1730.0L490.6,1729.9M489.7,1733.0L488.6,1733.2M492.6,1726.7A169.0,169.0 0 0 0 493.0,1731.1M492.6,1726.7L486.3,1727.3M493.0,1731.1L489.5,1731.5M490.6,1735.9A172.1,172.1 0 0 0 491.1,1738.9M490.6,1735.9L491.5,1735.8M491.1,1738.9L493.1,1738.6M498.2,1728.4A163.6,163.6 0 0 0 499.2,1736.2M498.2,1728.4L492.8,1728.9M499.2,1736.2L490.8,1737.4M503.1,1721.0A158.1,158.1 0 0 0 504.1,1731.6M503.1,1721.0L491.2,1721.6M504.1,1731.6L498.7,1732.3M511.1,1707.4A150.0,150.0 0 0 0 511.6,1725.6M511.1,1707.4L497.0,1707.0M511.6,1725.6L503.5,1726.3M580.4,1610.0A130.0,130.0 0 0 0 531.1,1715.9M580.4,1610.0L570.4,1597.5M531.1,1715.9L511.1,1716.5M493.0,1744.7A171.2,171.2 0 0 0 493.5,1747.2M493.0,1744.7L493.1,1744.6M493.5,1747.2L492.0,1747.6M494.8,1745.6A169.6,169.6 0 0 0 495.6,1749.5M494.8,1745.6L493.2,1746.0M495.6,1749.5L492.5,1750.2M495.5,1752.2A170.3,170.3 0 0 0 496.1,1754.7M495.5,1752.2L496.0,1752.0M496.1,1754.7L497.8,1754.3M498.5,1746.8A166.2,166.2 0 0 0 499.8,1752.4M498.5,1746.8L495.2,1747.5M499.8,1752.4L495.8,1753.4M497.4,1757.1A169.7,169.7 0 0 0 498.1,1759.6M497.4,1757.1L498.0,1756.9M498.1,1759.6L497.3,1759.8M499.4,1761.9A169.1,169.1 0 0 0 500.2,1764.4M499.4,1761.9L497.9,1762.4M500.2,1764.4L501.4,1764.0M500.7,1757.5A166.7,166.7 0 0 0 502.1,1762.4M500.7,1757.5L497.7,1758.3M502.1,1762.4L499.8,1763.1M501.6,1766.7A168.5,168.5 0 0 0 502.4,1769.1M501.6,1766.7L501.0,1766.8M502.4,1769.1L501.4,1769.5M503.9,1771.3A168.0,168.0 0 0 0 504.8,1773.7M503.9,1771.3L502.4,1771.9M504.8,1773.7L503.9,1774.1M504.4,1767.0A166.0,166.0 0 0 0 506.1,1771.8M504.4,1767.0L502.0,1767.9M506.1,1771.8L504.3,1772.5M506.3,1758.5A161.5,161.5 0 0 0 509.4,1767.9M506.3,1758.5L501.4,1759.9M509.4,1767.9L505.2,1769.4M507.0,1747.8A158.1,158.1 0 0 0 511.0,1762.1M507.0,1747.8L499.1,1749.6M511.0,1762.1L507.8,1763.2M506.3,1775.9A167.4,167.4 0 0 0 507.3,1778.3M506.3,1775.9L506.8,1775.7M507.3,1778.3L505.8,1778.9M510.2,1782.6A166.5,166.5 0 0 0 511.3,1784.9M510.2,1782.6L509.8,1782.8M511.3,1784.9L512.3,1784.4M509.5,1780.1A166.1,166.1 0 0 0 511.1,1783.5M509.5,1780.1L507.7,1780.9M511.1,1783.5L510.8,1783.7M509.9,1775.8A164.0,164.0 0 0 0 512.2,1781.0M509.9,1775.8L506.8,1777.1M512.2,1781.0L510.3,1781.8M513.0,1786.9A165.9,165.9 0 0 0 514.1,1789.2M513.0,1786.9L511.0,1787.9M514.1,1789.2L513.3,1789.6M515.9,1791.1A165.3,165.3 0 0 0 517.1,1793.4M515.9,1791.1L516.6,1790.7M517.1,1793.4L517.1,1793.3M515.1,1787.2A164.2,164.2 0 0 0 517.5,1791.7M515.1,1787.2L513.5,1788.0M517.5,1791.7L516.5,1792.2M519.0,1795.2A164.6,164.6 0 0 0 520.3,1797.4M519.0,1795.2L517.7,1795.9M520.3,1797.4L518.0,1798.8M522.4,1799.0A163.6,163.6 0 0 0 523.8,1801.1M522.4,1799.0L521.6,1799.5M523.8,1801.1L522.5,1801.9M521.4,1795.2A162.5,162.5 0 0 0 524.0,1799.5M521.4,1795.2L519.6,1796.3M524.0,1799.5L523.1,1800.1M520.7,1787.1A159.2,159.2 0 0 0 525.5,1795.6M520.7,1787.1L516.3,1789.5M525.5,1795.6L522.7,1797.3M517.3,1775.6A157.1,157.1 0 0 0 524.8,1790.4M517.3,1775.6L511.0,1778.4M524.8,1790.4L523.0,1791.4M516.7,1752.8A150.0,150.0 0 0 0 527.2,1779.9M516.7,1752.8L508.8,1755.0M527.2,1779.9L520.9,1783.1M534.6,1810.8A160.5,160.5 0 0 0 536.3,1813.0M534.6,1810.8L532.7,1812.2M536.3,1813.0L536.2,1813.1M533.5,1808.1A159.7,159.7 0 0 0 536.0,1811.4M533.5,1808.1L532.0,1809.2M536.0,1811.4L535.4,1811.9M538.9,1814.5A159.4,159.4 0 0 0 540.7,1816.6M538.9,1814.5L537.5,1815.6M540.7,1816.6L540.5,1816.8M543.3,1817.9A158.3,158.3 0 0 0 545.2,1820.0M543.3,1817.9L543.3,1818.0M545.2,1820.0L543.6,1821.5M542.2,1813.5A156.3,156.3 0 0 0 545.8,1817.6M542.2,1813.5L539.8,1815.5M545.8,1817.6L544.3,1819.0M547.9,1821.2A157.3,157.3 0 0 0 549.8,1823.2M547.9,1821.2L546.7,1822.4M549.8,1823.2L550.1,1822.9M545.4,1814.3A154.4,154.4 0 0 0 550.9,1820.2M545.4,1814.3L544.0,1815.5M550.9,1820.2L548.8,1822.2M541.7,1804.4A150.9,150.9 0 0 0 550.7,1814.9M541.7,1804.4L534.7,1809.8M550.7,1814.9L548.1,1817.3M552.5,1824.4A156.2,156.2 0 0 0 554.5,1826.2M552.5,1824.4L552.5,1824.3M554.5,1826.2L554.8,1825.9M553.8,1825.0A155.8,155.8 0 0 0 556.8,1827.7M553.8,1825.0L553.5,1825.3M556.8,1827.7L556.9,1827.6M562.0,1830.0A154.1,154.1 0 0 0 564.0,1831.7M562.0,1830.0L560.8,1831.4M564.0,1831.7L563.6,1832.3M559.7,1828.5A154.3,154.3 0 0 0 562.8,1831.1M559.7,1828.5L558.0,1830.5M562.8,1831.1L563.0,1830.9M558.1,1823.3A151.6,151.6 0 0 0 563.0,1827.7M558.1,1823.3L555.3,1826.4M563.0,1827.7L561.3,1829.8M566.8,1832.6A153.0,153.0 0 0 0 568.9,1834.2M566.8,1832.6L566.6,1832.9M568.9,1834.2L569.7,1833.2M571.7,1834.9A151.9,151.9 0 0 0 573.9,1836.5M571.7,1834.9L572.0,1834.5M573.9,1836.5L574.7,1835.2M568.7,1832.3A151.6,151.6 0 0 0 573.0,1835.4M568.7,1832.3L567.9,1833.4M573.0,1835.4L572.8,1835.7M562.6,1823.2A148.5,148.5 0 0 0 572.7,1831.4M562.6,1823.2L560.5,1825.6M572.7,1831.4L570.8,1833.9M550.3,1806.1A145.3,145.3 0 0 0 569.6,1824.9M550.3,1806.1L546.1,1809.7M569.6,1824.9L567.5,1827.4M579.1,1838.1A150.3,150.3 0 0 0 581.3,1839.5M579.1,1838.1L578.2,1839.5M581.3,1839.5L580.4,1841.0M576.8,1836.9A150.6,150.6 0 0 0 580.1,1839.0M576.8,1836.9L575.9,1838.1M580.1,1839.0L580.2,1838.8M584.1,1839.9A149.3,149.3 0 0 0 586.4,1841.3M584.1,1839.9L583.5,1841.0M586.4,1841.3L585.5,1842.8M579.1,1836.9A149.3,149.3 0 0 0 585.2,1840.7M579.1,1836.9L578.4,1837.9M585.2,1840.7L585.2,1840.6M589.1,1841.8A148.4,148.4 0 0 0 591.3,1843.0M589.1,1841.8L587.7,1844.2M591.3,1843.0L592.0,1841.8M594.0,1843.5A147.6,147.6 0 0 0 596.3,1844.7M594.0,1843.5L593.3,1844.9M596.3,1844.7L596.6,1844.1M599.0,1845.0A146.8,146.8 0 0 0 601.3,1846.1M599.0,1845.0L598.1,1847.0M601.3,1846.1L601.0,1846.7M595.3,1843.7A147.2,147.2 0 0 0 600.0,1845.9M595.3,1843.7L595.1,1844.1M600.0,1845.9L600.1,1845.6M590.8,1841.3A147.1,147.1 0 0 0 597.7,1844.8M590.8,1841.3L590.2,1842.4M597.7,1844.8L597.6,1844.9M584.5,1835.0A144.9,144.9 0 0 0 595.2,1841.1M584.5,1835.0L582.2,1838.8M595.2,1841.1L594.2,1843.1M563.2,1812.2A140.0,140.0 0 0 0 592.2,1833.9M563.2,1812.2L559.5,1815.9M592.2,1833.9L589.8,1838.2M540.8,1758.9A129.0,129.0 0 0 0 583.6,1815.2M540.8,1758.9L521.3,1766.6M583.6,1815.2L577.0,1824.0M567.6,1668.5A103.0,103.0 0 0 0 579.0,1774.3M567.6,1668.5L543.2,1657.1M579.0,1774.3L558.3,1790.1M613.9,1820.2A118.0,118.0 0 0 0 617.8,1821.8M613.9,1820.2L608.4,1833.1M617.8,1821.8L613.0,1833.9M595.4,1719.0A66.0,66.0 0 0 0 635.7,1773.0M595.4,1719.0L558.6,1723.0M635.7,1773.0L615.8,1821.0M631.6,1850.5A141.6,141.6 0 0 0 633.9,1851.0M631.6,1850.5L631.6,1850.3M633.9,1851.0L633.7,1852.1M636.4,1850.7A140.8,140.8 0 0 0 638.8,1851.1M636.4,1850.7L636.4,1850.8M638.8,1851.1L638.8,1851.0M641.3,1850.6A140.0,140.0 0 0 0 643.7,1851.0M641.3,1850.6L641.0,1852.4M643.7,1851.0L643.7,1850.6M638.1,1847.8A137.7,137.7 0 0 0 642.8,1848.5M638.1,1847.8L637.6,1850.9M642.8,1848.5L642.5,1850.8M634.2,1843.7A134.4,134.4 0 0 0 640.9,1844.9M634.2,1843.7L632.7,1850.8M640.9,1844.9L640.5,1848.2M646.1,1850.5A139.3,139.3 0 0 0 648.5,1850.7M646.1,1850.5L645.8,1853.4M648.5,1850.7L648.4,1851.6M650.9,1850.1A138.5,138.5 0 0 0 653.2,1850.3M650.9,1850.1L650.9,1849.5M653.2,1850.3L653.2,1851.5M652.1,1849.2A137.5,137.5 0 0 0 655.6,1849.4M652.1,1849.2L652.1,1850.2M655.6,1849.4L655.7,1849.1M647.7,1845.9A134.6,134.6 0 0 0 654.0,1846.4M647.7,1845.9L647.3,1850.6M654.0,1846.4L653.9,1849.3M638.3,1839.9A129.9,129.9 0 0 0 651.2,1841.6M638.3,1839.9L637.5,1844.4M651.2,1841.6L650.9,1846.2M658.0,1849.3A137.3,137.3 0 0 0 660.3,1849.3M658.0,1849.3L657.9,1851.2M660.3,1849.3L660.3,1848.3M665.0,1848.4A136.4,136.4 0 0 0 667.3,1848.3M665.0,1848.4L665.0,1847.6M667.3,1848.3L667.4,1850.8M662.7,1848.2A136.2,136.2 0 0 0 666.1,1848.1M662.7,1848.2L662.7,1848.1M666.1,1848.1L666.1,1848.3M659.2,1845.9A133.9,133.9 0 0 0 664.3,1845.9M659.2,1845.9L659.2,1849.3M664.3,1845.9L664.4,1848.2M669.6,1847.6A135.9,135.9 0 0 0 671.9,1847.5M669.6,1847.6L669.7,1849.8M671.9,1847.5L672.1,1849.6M674.2,1846.7A135.4,135.4 0 0 0 676.5,1846.5M674.2,1846.7L674.2,1847.1M676.5,1846.5L676.5,1846.9M670.6,1845.4A133.8,133.8 0 0 0 675.1,1845.0M670.6,1845.4L670.8,1847.6M675.1,1845.0L675.3,1846.6M661.8,1841.9A129.9,129.9 0 0 0 672.5,1841.4M661.8,1841.9L661.8,1845.9M672.5,1841.4L672.9,1845.3M645.4,1835.8A124.8,124.8 0 0 0 666.9,1836.7M645.4,1835.8L644.8,1840.9M666.9,1836.7L667.1,1841.7M680.9,1845.1A134.6,134.6 0 0 0 683.2,1844.8M680.9,1845.1L681.0,1845.9M683.2,1844.8L683.4,1845.8M678.6,1845.4A134.6,134.6 0 0 0 682.1,1844.9M678.6,1845.4L678.7,1845.5M682.1,1844.9L682.1,1844.9M685.4,1843.8A134.1,134.1 0 0 0 687.6,1843.4M685.4,1843.8L685.4,1844.2M687.6,1843.4L687.6,1843.4M679.9,1842.2A131.6,131.6 0 0 0 686.0,1841.2M679.9,1842.2L680.4,1845.2M686.0,1841.2L686.5,1843.6M689.7,1842.4A133.6,133.6 0 0 0 691.9,1841.9M689.7,1842.4L690.0,1843.6M691.9,1841.9L691.9,1841.9M694.0,1840.9A133.0,133.0 0 0 0 696.2,1840.3M694.0,1840.9L694.4,1842.4M696.2,1840.3L696.4,1841.1M690.4,1840.4A131.8,131.8 0 0 0 694.8,1839.4M690.4,1840.4L690.8,1842.2M694.8,1839.4L695.1,1840.6M682.2,1837.5A127.3,127.3 0 0 0 691.5,1835.5M682.2,1837.5L683.0,1841.7M691.5,1835.5L692.6,1839.9M700.3,1838.3A132.3,132.3 0 0 0 702.5,1837.6M700.3,1838.3L700.4,1838.3M702.5,1837.6L702.8,1838.7M698.2,1839.0A132.4,132.4 0 0 0 701.4,1838.0M698.2,1839.0L698.2,1839.0M701.4,1838.0L701.4,1837.9M704.4,1836.4A131.7,131.7 0 0 0 706.6,1835.6M704.4,1836.4L704.6,1836.8M706.6,1835.6L707.5,1838.0M699.0,1835.9A129.6,129.6 0 0 0 704.8,1834.0M699.0,1835.9L699.8,1838.6M704.8,1834.0L705.5,1836.0M708.5,1834.3A131.2,131.2 0 0 0 710.5,1833.5M708.5,1834.3L708.8,1835.2M710.5,1833.5L711.2,1835.2M709.5,1833.8A131.1,131.1 0 0 0 712.6,1832.5M709.5,1833.8L709.5,1833.9M712.6,1832.5L712.4,1832.2M701.0,1832.2A126.7,126.7 0 0 0 709.3,1829.1M701.0,1832.2L701.9,1835.0M709.3,1829.1L711.0,1833.2M714.3,1831.0A130.4,130.4 0 0 0 716.4,1830.1M714.3,1831.0L715.2,1833.0M716.4,1830.1L717.4,1832.3M718.1,1828.7A129.9,129.9 0 0 0 720.1,1827.7M718.1,1828.7L718.0,1828.4M720.1,1827.7L721.3,1830.0M714.8,1829.4A129.2,129.2 0 0 0 718.8,1827.5M714.8,1829.4L715.4,1830.6M718.8,1827.5L719.1,1828.2M723.6,1824.9A129.1,129.1 0 0 0 725.6,1823.8M723.6,1824.9L724.3,1826.2M725.6,1823.8L726.7,1825.7M721.8,1826.1A129.3,129.3 0 0 0 724.7,1824.5M721.8,1826.1L723.1,1828.6M724.7,1824.5L724.6,1824.4M715.7,1826.2A126.7,126.7 0 0 0 722.0,1823.0M715.7,1826.2L716.8,1828.5M722.0,1823.0L723.2,1825.3M704.2,1828.0A123.8,123.8 0 0 0 717.6,1822.1M704.2,1828.0L705.2,1830.7M717.6,1822.1L718.9,1824.7M685.6,1830.5A121.0,121.0 0 0 0 709.8,1822.7M685.6,1830.5L686.9,1836.6M709.8,1822.7L711.0,1825.3M656.5,1826.9A115.0,115.0 0 0 0 696.1,1821.5M656.5,1826.9L656.1,1836.7M696.1,1821.5L697.9,1827.2M733.3,1815.4A126.1,126.1 0 0 0 735.0,1814.1M733.3,1815.4L734.9,1817.7M735.0,1814.1L736.1,1815.8M730.9,1815.7A125.0,125.0 0 0 0 733.5,1813.9M730.9,1815.7L733.1,1818.9M733.5,1813.9L734.1,1814.7M737.4,1810.4A124.6,124.6 0 0 0 739.0,1809.1M737.4,1810.4L738.3,1811.6M739.0,1809.1L738.7,1808.7M735.2,1810.9A123.6,123.6 0 0 0 737.6,1809.0M735.2,1810.9L738.0,1814.6M737.6,1809.0L738.2,1809.8M729.3,1810.5A119.9,119.9 0 0 0 734.1,1807.0M729.3,1810.5L732.2,1814.8M734.1,1807.0L736.4,1810.0M741.2,1805.3A123.0,123.0 0 0 0 742.8,1803.9M741.2,1805.3L742.9,1807.2M742.8,1803.9L742.3,1803.4M739.5,1806.4A122.8,122.8 0 0 0 741.8,1804.4M739.5,1806.4L741.6,1809.0M741.8,1804.4L742.0,1804.6M729.6,1805.9A116.3,116.3 0 0 0 736.5,1800.5M729.6,1805.9L731.7,1808.8M736.5,1800.5L740.7,1805.4M744.7,1800.0A121.5,121.5 0 0 0 746.2,1798.6M744.7,1800.0L746.3,1801.7M746.2,1798.6L746.9,1799.4M742.9,1801.1A121.0,121.0 0 0 0 745.1,1799.0M742.9,1801.1L745.0,1803.4M745.1,1799.0L745.5,1799.3M746.9,1796.5A120.5,120.5 0 0 0 748.3,1795.0M746.9,1796.5L747.1,1796.7M748.3,1795.0L749.4,1796.1M747.4,1795.6A120.2,120.2 0 0 0 749.5,1793.4M747.4,1795.6L747.6,1795.8M749.5,1793.4L750.7,1794.5M741.1,1796.9A116.7,116.7 0 0 0 745.9,1792.1M741.1,1796.9L744.0,1800.0M745.9,1792.1L748.5,1794.5M729.6,1798.8A110.6,110.6 0 0 0 739.2,1790.2M729.6,1798.8L733.1,1803.3M739.2,1790.2L743.5,1794.5M749.9,1791.1A119.0,119.0 0 0 0 751.2,1789.6M749.9,1791.1L752.2,1793.1M751.2,1789.6L751.4,1789.7M751.7,1787.4A117.9,117.9 0 0 0 752.9,1785.9M751.7,1787.4L753.0,1788.4M752.9,1785.9L755.1,1787.6M749.3,1789.2A117.3,117.3 0 0 0 751.9,1786.3M749.3,1789.2L750.5,1790.3M751.9,1786.3L752.3,1786.6M754.1,1781.8A116.4,116.4 0 0 0 755.3,1780.3M754.1,1781.8L755.2,1782.6M755.3,1780.3L757.4,1781.8M753.1,1783.5A116.7,116.7 0 0 0 754.9,1781.2M753.1,1783.5L753.4,1783.7M754.9,1781.2L754.7,1781.1M755.6,1778.1A115.4,115.4 0 0 0 756.7,1776.5M755.6,1778.1L757.2,1779.3M756.7,1776.5L756.0,1776.1M752.8,1781.4A115.1,115.1 0 0 0 755.9,1777.1M752.8,1781.4L754.0,1782.4M755.9,1777.1L756.1,1777.3M747.4,1785.1A113.2,113.2 0 0 0 752.8,1778.2M747.4,1785.1L750.6,1787.8M752.8,1778.2L754.3,1779.3M731.4,1791.2A106.0,106.0 0 0 0 744.5,1777.3M731.4,1791.2L734.5,1794.7M744.5,1777.3L750.2,1781.7M674.4,1810.1A99.0,99.0 0 0 0 733.2,1779.7M674.4,1810.1L676.6,1825.9M733.2,1779.7L738.3,1784.5M757.5,1772.3A113.8,113.8 0 0 0 758.5,1770.6M757.5,1772.3L759.1,1773.3M758.5,1770.6L759.3,1771.1M758.7,1768.4A112.8,112.8 0 0 0 759.7,1766.7M758.7,1768.4L759.7,1769.0M759.7,1766.7L761.8,1767.9M759.9,1764.6A112.0,112.0 0 0 0 760.8,1762.8M759.9,1764.6L761.6,1765.5M760.8,1762.8L763.1,1764.0M755.9,1765.7A109.0,109.0 0 0 0 757.7,1762.3M755.9,1765.7L759.2,1767.5M757.7,1762.3L760.3,1763.7M751.6,1767.5A106.3,106.3 0 0 0 754.4,1762.7M751.6,1767.5L758.0,1771.5M754.4,1762.7L756.8,1764.0M760.9,1760.7A111.2,111.2 0 0 0 761.8,1759.0M760.9,1760.7L762.8,1761.6M761.8,1759.0L763.6,1759.8M761.9,1756.9A110.4,110.4 0 0 0 762.6,1755.1M761.9,1756.9L764.4,1758.0M762.6,1755.1L763.3,1755.4M758.5,1758.5A108.0,108.0 0 0 0 760.0,1755.1M758.5,1758.5L761.4,1759.9M760.0,1755.1L762.2,1756.0M762.6,1753.1A109.6,109.6 0 0 0 763.3,1751.3M762.6,1753.1L765.5,1754.2M763.3,1751.3L765.3,1752.0M763.2,1749.2A108.8,108.8 0 0 0 763.9,1747.4M763.2,1749.2L765.6,1750.1M763.9,1747.4L763.5,1747.3M760.7,1751.3A107.2,107.2 0 0 0 762.0,1747.8M760.7,1751.3L763.0,1752.2M762.0,1747.8L763.6,1748.3M753.9,1754.3A102.1,102.1 0 0 0 756.6,1747.7M753.9,1754.3L759.3,1756.8M756.6,1747.7L761.4,1749.5M745.0,1760.5A97.0,97.0 0 0 0 750.6,1749.1M745.0,1760.5L753.1,1765.1M750.6,1749.1L755.3,1751.1M700.0,1787.5A85.0,85.0 0 0 0 737.2,1749.6M700.0,1787.5L706.4,1800.0M737.2,1749.6L748.0,1754.9M764.0,1741.5A107.2,107.2 0 0 0 764.6,1739.6M764.0,1741.5L764.2,1741.6M764.6,1739.6L766.0,1740.0M761.8,1739.9A104.6,104.6 0 0 0 762.5,1737.1M761.8,1739.9L764.3,1740.6M762.5,1737.1L764.3,1737.5M764.3,1735.5A105.9,105.9 0 0 0 764.7,1733.6M764.3,1735.5L767.4,1736.2M764.7,1733.6L765.3,1733.7M757.6,1737.3A99.9,99.9 0 0 0 758.6,1733.3M757.6,1737.3L762.2,1738.5M758.6,1733.3L764.5,1734.6M764.2,1731.5A105.1,105.1 0 0 0 764.6,1729.6M764.2,1731.5L765.7,1731.8M764.6,1729.6L765.9,1729.8M763.9,1725.6A103.8,103.8 0 0 0 764.1,1723.7M763.9,1725.6L765.2,1725.8M764.1,1723.7L765.1,1723.8M762.1,1727.3A102.2,102.2 0 0 0 762.5,1724.5M762.1,1727.3L766.3,1727.9M762.5,1724.5L764.0,1724.7M758.4,1729.5A99.0,99.0 0 0 0 759.1,1725.4M758.4,1729.5L764.4,1730.6M759.1,1725.4L762.3,1725.9M751.9,1733.8A93.4,93.4 0 0 0 753.3,1726.6M751.9,1733.8L758.1,1735.3M753.3,1726.6L758.8,1727.5M763.5,1721.7A103.0,103.0 0 0 0 763.7,1719.8M763.5,1721.7L764.8,1721.8M763.7,1719.8L764.9,1719.9M761.7,1720.6A101.1,101.1 0 0 0 761.9,1717.8M761.7,1720.6L763.6,1720.8M761.9,1717.8L763.9,1717.9M762.2,1714.1A101.3,101.3 0 0 0 762.3,1712.2M762.2,1714.1L765.2,1714.1M762.3,1712.2L764.3,1712.2M761.3,1715.9A100.4,100.4 0 0 0 761.4,1713.1M761.3,1715.9L763.2,1716.0M761.4,1713.1L762.3,1713.1M762.0,1710.3A101.0,101.0 0 0 0 761.9,1708.5M762.0,1710.3L763.4,1710.3M761.9,1708.5L764.3,1708.4M757.7,1714.4A96.8,96.8 0 0 0 757.7,1709.5M757.7,1714.4L761.4,1714.5M757.7,1709.5L762.0,1709.4M753.9,1718.6A93.1,93.1 0 0 0 754.1,1712.0M753.9,1718.6L761.9,1719.2M754.1,1712.0L757.8,1712.0M744.4,1728.6A85.0,85.0 0 0 0 745.9,1715.0M744.4,1728.6L752.7,1730.2M745.9,1715.0L754.1,1715.3M708.1,1758.2A66.0,66.0 0 0 0 726.6,1719.6M708.1,1758.2L721.7,1771.6M726.6,1719.6L745.4,1721.8M645.8,1723.4A19.0,19.0 0 0 0 678.1,1720.2M645.8,1723.4L608.2,1751.5M678.1,1720.2L720.5,1740.5M660.0,1712.0L661.7,1731.0" fill="none" stroke="#5a5a5a" stroke-width="0.8"/>
<text x="12.0" y="79.3" font-size="80" fill="#000" font-weight="bold" font-style="normal" text-anchor="start">A</text>
<text x="12.0" y="1307.4" font-size="80" fill="#000" font-weight="bold" font-style="normal" text-anchor="start">B</text>
<text x="671.3" y="18.6" font-size="18.6" fill="#000" font-weight="normal" font-style="normal" text-anchor="start" textLength="89.0" lengthAdjust="spacingAndGlyphs">Taxonomy</text>
<text x="671.3" y="36.4" font-size="18.6" fill="#000" font-weight="normal" font-style="normal" text-anchor="start">ARG</text>
<text x="671.3" y="62.0" font-size="19.2" fill="#17804a" textLength="82.5" lengthAdjust="spacingAndGlyphs">G50 D2 <tspan fill="#3f9a68">3</tspan></text>
<text x="671.3" y="93.8" font-size="19.2" fill="#17804a" textLength="82.5" lengthAdjust="spacingAndGlyphs">G50 D2 <tspan fill="#3f9a68">2</tspan></text>
<text x="671.3" y="125.6" font-size="19.2" fill="#17804a" textLength="82.5" lengthAdjust="spacingAndGlyphs">G50 D2 <tspan fill="#3f9a68">1</tspan></text>
<text x="671.3" y="157.4" font-size="19.2" fill="#2f9f6a" textLength="82.5" lengthAdjust="spacingAndGlyphs">G50 D1 <tspan fill="#5cb88a">3</tspan></text>
<text x="671.3" y="189.2" font-size="19.2" fill="#2f9f6a" textLength="82.5" lengthAdjust="spacingAndGlyphs">G50 D1 <tspan fill="#5cb88a">2</tspan></text>
<text x="671.3" y="221.0" font-size="19.2" fill="#2f9f6a" textLength="82.5" lengthAdjust="spacingAndGlyphs">G50 D1 <tspan fill="#5cb88a">1</tspan></text>
<text x="671.3" y="252.8" font-size="19.2" fill="#9ddbbd" textLength="82.5" lengthAdjust="spacingAndGlyphs">G50 D0 <tspan fill="#b8e6d1">3</tspan></text>
<text x="671.3" y="284.6" font-size="19.2" fill="#9ddbbd" textLength="82.5" lengthAdjust="spacingAndGlyphs">G50 D0 <tspan fill="#b8e6d1">2</tspan></text>
<text x="671.3" y="316.4" font-size="19.2" fill="#9ddbbd" textLength="82.5" lengthAdjust="spacingAndGlyphs">G50 D0 <tspan fill="#b8e6d1">1</tspan></text>
<text x="671.3" y="349.3" font-size="19.2" fill="#0b4a1c" textLength="98" lengthAdjust="spacingAndGlyphs">GC-cont<tspan fill="#4c7f58">ent</tspan></text>
<text x="671.3" y="370.5" font-size="12.8" fill="#333" font-weight="normal" font-style="normal" text-anchor="start" textLength="39.0" lengthAdjust="spacingAndGlyphs">Length</text>
<text x="671.3" y="381.5" font-size="7.6" fill="#000" font-weight="bold" font-style="normal" text-anchor="start" textLength="23.0" lengthAdjust="spacingAndGlyphs">Parent</text>
<rect x="856.0" y="342.2" width="283.6" height="82.0" fill="#ededed"/>
<rect x="855.7" y="420.1" width="29.2" height="4.1" fill="#8e8e8e"/>
<rect x="887.5" y="418.5" width="29.2" height="5.7" fill="#8e8e8e"/>
<rect x="919.3" y="421.3" width="29.2" height="2.9" fill="#8e8e8e"/>
<rect x="951.1" y="403.7" width="29.2" height="20.5" fill="#8e8e8e"/>
<rect x="982.9" y="395.5" width="29.2" height="28.7" fill="#8e8e8e"/>
<rect x="1014.7" y="405.3" width="29.2" height="18.9" fill="#8e8e8e"/>
<rect x="1046.5" y="342.2" width="29.2" height="82.0" fill="#8e8e8e"/>
<rect x="1078.3" y="345.5" width="29.2" height="78.7" fill="#8e8e8e"/>
<rect x="1110.1" y="407.8" width="29.2" height="16.4" fill="#8e8e8e"/>
<rect x="856.0" y="427.2" width="283.6" height="81.4" fill="#ededed"/>
<rect x="951.1" y="507.6" width="29.2" height="1.0" fill="#8e8e8e"/>
<rect x="982.9" y="507.0" width="29.2" height="1.6" fill="#8e8e8e"/>
<rect x="1014.7" y="506.2" width="29.2" height="2.4" fill="#8e8e8e"/>
<rect x="1046.5" y="427.2" width="29.2" height="81.4" fill="#8e8e8e"/>
<rect x="1078.3" y="445.5" width="29.2" height="63.1" fill="#8e8e8e"/>
<text x="1143.2" y="355.7" font-size="13.2" fill="#000" font-weight="normal" font-style="normal" text-anchor="start" textLength="44.6" lengthAdjust="spacingAndGlyphs">340762</text>
<text x="1143.2" y="423.0" font-size="13.2" fill="#000" font-weight="normal" font-style="normal" text-anchor="start">0</text>
<text x="1143.2" y="440.0" font-size="13.2" fill="#000" font-weight="normal" font-style="normal" text-anchor="start">3269</text>
<text x="1143.2" y="508.0" font-size="13.2" fill="#000" font-weight="normal" font-style="normal" text-anchor="start">0</text>
<text x="1143.2" y="386.5" font-size="19" fill="#999" font-weight="normal" font-style="normal" text-anchor="start" textLength="170.6" lengthAdjust="spacingAndGlyphs">Total reads mapped</text>
<text x="1143.2" y="470.3" font-size="19" fill="#999" font-weight="normal" font-style="normal" text-anchor="start" textLength="173.5" lengthAdjust="spacingAndGlyphs">Num SNVs reported</text>
<rect x="818" y="154.5" width="322.5" height="53.30000000000001" fill="#fcfcfc"/>
<rect x="818" y="207.0" width="322.5" height="1.6" fill="#dcdcdc"/>
<text x="864.7" y="186.5" font-size="18.6" fill="#333" font-weight="bold" font-style="normal" text-anchor="middle" textLength="51.4" lengthAdjust="spacingAndGlyphs">Splits</text>
<rect x="833.1" y="218.3" width="58.6" height="36.3" rx="3" fill="#f5f5f5" stroke="#aaa" stroke-width="1.3"/>
<text x="862.5" y="243.1" font-size="18.4" fill="#555" font-weight="normal" font-style="normal" text-anchor="middle">124</text>
<text x="936.5" y="186.5" font-size="18.6" fill="#333" font-weight="bold" font-style="normal" text-anchor="middle" textLength="35.0" lengthAdjust="spacingAndGlyphs">Len</text>
<text x="941.0" y="238.6" font-size="18.4" fill="#555" font-weight="normal" font-style="normal" text-anchor="middle">1.87M</text>
<text x="1022.8" y="186.5" font-size="18.6" fill="#333" font-weight="bold" font-style="normal" text-anchor="middle" textLength="61.5" lengthAdjust="spacingAndGlyphs">Comp.</text>
<rect x="989.1" y="218.8" width="62.1" height="35.4" rx="3" fill="#d9fbd9" stroke="#222" stroke-width="2.2"/>
<text x="1020.1" y="243.1" font-size="18.4" fill="#555" font-weight="normal" font-style="normal" text-anchor="middle">63.4</text>
<text x="1103.0" y="186.5" font-size="18.6" fill="#333" font-weight="bold" font-style="normal" text-anchor="middle" textLength="42.0" lengthAdjust="spacingAndGlyphs">Red.</text>
<rect x="1077.7" y="218.3" width="51.5" height="36.3" rx="3" fill="#f5f5f5" stroke="#aaa" stroke-width="1.3"/>
<text x="1103.4" y="243.1" font-size="18.4" fill="#555" font-weight="normal" font-style="normal" text-anchor="middle">2.8</text>
<rect x="834" y="1279" width="325" height="53.200000000000045" fill="#fcfcfc"/>
<rect x="834" y="1331.4" width="325" height="1.6" fill="#dcdcdc"/>
<text x="875.3" y="1311.0" font-size="18.6" fill="#333" font-weight="bold" font-style="normal" text-anchor="middle" textLength="51.4" lengthAdjust="spacingAndGlyphs">Splits</text>
<rect x="844.0" y="1343.4" width="58.3" height="36.4" rx="3" fill="#f5f5f5" stroke="#aaa" stroke-width="1.3"/>
<text x="873.2" y="1368.2" font-size="18.4" fill="#555" font-weight="normal" font-style="normal" text-anchor="middle">310</text>
<text x="947.2" y="1311.0" font-size="18.6" fill="#333" font-weight="bold" font-style="normal" text-anchor="middle" textLength="35.5" lengthAdjust="spacingAndGlyphs">Len</text>
<text x="952.7" y="1363.7" font-size="18.4" fill="#555" font-weight="normal" font-style="normal" text-anchor="middle">2.99M</text>
<text x="1034.5" y="1311.0" font-size="18.6" fill="#333" font-weight="bold" font-style="normal" text-anchor="middle" textLength="62.0" lengthAdjust="spacingAndGlyphs">Comp.</text>
<rect x="1000.6" y="1343.8" width="62.8" height="35.5" rx="3" fill="#b4fab4" stroke="#222" stroke-width="2.2"/>
<text x="1032.0" y="1368.2" font-size="18.4" fill="#555" font-weight="normal" font-style="normal" text-anchor="middle">81.7</text>
<text x="1114.8" y="1311.0" font-size="18.6" fill="#333" font-weight="bold" font-style="normal" text-anchor="middle" textLength="42.5" lengthAdjust="spacingAndGlyphs">Red.</text>
<rect x="1090.1" y="1343.8" width="50.8" height="35.5" rx="3" fill="#fdb0b6" stroke="#222" stroke-width="2.2"/>
<text x="1115.5" y="1368.2" font-size="18.4" fill="#555" font-weight="normal" font-style="normal" text-anchor="middle">9.9</text>
<text x="661.2" y="1261.6" font-size="20.2" fill="#000" font-weight="normal" font-style="normal" text-anchor="start" textLength="99.0" lengthAdjust="spacingAndGlyphs">Taxonomy</text>
<text x="661.2" y="1287.0" font-size="20.2" fill="#000" font-weight="normal" font-style="normal" text-anchor="start">ARG</text>
<text x="661.2" y="1327.0" font-size="29" fill="#17804a" textLength="123.7" lengthAdjust="spacingAndGlyphs">G50 D2 <tspan fill="#3f9a68">3</tspan></text>
<text x="661.2" y="1374.7" font-size="29" fill="#17804a" textLength="123.7" lengthAdjust="spacingAndGlyphs">G50 D2 <tspan fill="#3f9a68">2</tspan></text>
<text x="661.2" y="1422.4" font-size="29" fill="#17804a" textLength="123.7" lengthAdjust="spacingAndGlyphs">G50 D2 <tspan fill="#3f9a68">1</tspan></text>
<text x="661.2" y="1469.5" font-size="29" fill="#0b4a1c" textLength="148" lengthAdjust="spacingAndGlyphs">GC-cont<tspan fill="#4c7f58">ent</tspan></text>
<text x="661.2" y="1502.5" font-size="19.4" fill="#333" font-weight="normal" font-style="normal" text-anchor="start" textLength="59.0" lengthAdjust="spacingAndGlyphs">Length</text>
<text x="661.2" y="1520.0" font-size="12" fill="#000" font-weight="normal" font-style="normal" text-anchor="start" textLength="35.6" lengthAdjust="spacingAndGlyphs">Parent</text>
<rect x="938.7" y="1460.6" width="139.3" height="121.6" fill="#ededed"/>
<rect x="938.7" y="1460.6" width="43.8" height="121.6" fill="#8e8e8e"/>
<rect x="986.5" y="1484.9" width="44.0" height="97.3" fill="#8e8e8e"/>
<rect x="1034.5" y="1580.7" width="43.0" height="1.5" fill="#8e8e8e"/>
<rect x="938.7" y="1586.4" width="139.3" height="122.0" fill="#ededed"/>
<rect x="938.7" y="1586.4" width="43.8" height="122.0" fill="#8e8e8e"/>
<rect x="986.5" y="1590.7" width="44.0" height="117.7" fill="#8e8e8e"/>
<rect x="1034.5" y="1690.1" width="43.0" height="18.3" fill="#8e8e8e"/>
<text x="1084.0" y="1480.8" font-size="20" fill="#000" font-weight="normal" font-style="normal" text-anchor="start" textLength="44.5" lengthAdjust="spacingAndGlyphs">5140</text>
<text x="1084.0" y="1583.0" font-size="20" fill="#000" font-weight="normal" font-style="normal" text-anchor="start">0</text>
<text x="1084.0" y="1606.6" font-size="20" fill="#000" font-weight="normal" font-style="normal" text-anchor="start">284083</text>
<text x="1084.0" y="1708.8" font-size="20" fill="#000" font-weight="normal" font-style="normal" text-anchor="start">0</text>
<text x="1084.0" y="1526.5" font-size="29" fill="#999" font-weight="normal" font-style="normal" text-anchor="start" textLength="260.0" lengthAdjust="spacingAndGlyphs">Num SNVs reported</text>
<text x="1084.0" y="1652.3" font-size="28.6" fill="#999" font-weight="normal" font-style="normal" text-anchor="start" textLength="255.7" lengthAdjust="spacingAndGlyphs">Total reads mapped</text>
<text x="107.0" y="1045.5" font-size="30" fill="#000" font-weight="normal" font-style="normal" text-anchor="start" textLength="65.0" lengthAdjust="spacingAndGlyphs">ARG</text>
<text x="43.0" y="1121.5" font-size="29.5" fill="#000" font-weight="normal" font-style="normal" text-anchor="start" textLength="134.0" lengthAdjust="spacingAndGlyphs">Taxonomy</text>
<rect x="194.6" y="1027.6" width="13.7" height="13.7" fill="#2cb5dd"/>
<text x="216.4" y="1043.0" font-size="24.2" fill="#000" textLength="151.1" lengthAdjust="spacingAndGlyphs" xml:space="preserve"><tspan font-style="italic">aac(6')-Ib8 (1)</tspan></text>
<rect x="194.6" y="1067.5" width="13.7" height="13.7" fill="#f0676c"/>
<text x="216.4" y="1081.2" font-size="19.5" fill="#000" textLength="178.0" lengthAdjust="spacingAndGlyphs" xml:space="preserve"><tspan font-style="italic">Limnohabitans</tspan><tspan font-style="normal"> (111)</tspan></text>
<rect x="408.5" y="1067.5" width="13.7" height="13.7" fill="#1c2a80"/>
<text x="429.7" y="1081.2" font-size="19.5" fill="#000" textLength="288.9" lengthAdjust="spacingAndGlyphs" xml:space="preserve"><tspan font-style="normal">Unknown </tspan><tspan font-style="italic">Betaproteobacteria</tspan><tspan font-style="normal"> (3)</tspan></text>
<rect x="737.0" y="1067.5" width="13.7" height="13.7" fill="#4d9fe0"/>
<text x="759.3" y="1081.2" font-size="19.5" fill="#000" textLength="146.7" lengthAdjust="spacingAndGlyphs" xml:space="preserve"><tspan font-style="italic">Polaromonas</tspan><tspan font-style="normal"> (2)</tspan></text>
<rect x="918.5" y="1067.5" width="13.7" height="13.7" fill="#a9d9b4" stroke="#9cc5a5" stroke-width="0.8"/>
<text x="939.1" y="1081.2" font-size="19.5" fill="#000" textLength="111.9" lengthAdjust="spacingAndGlyphs" xml:space="preserve"><tspan font-style="italic">Ralstonia</tspan><tspan font-style="normal"> (1)</tspan></text>
<rect x="1066.5" y="1067.5" width="13.7" height="13.7" fill="#f9b4d5" stroke="#e0a0c0" stroke-width="0.8"/>
<text x="1091.9" y="1081.2" font-size="19.5" fill="#000" textLength="161.9" lengthAdjust="spacingAndGlyphs" xml:space="preserve"><tspan font-style="italic">Pigmentiphaga</tspan><tspan font-style="normal"> (1)</tspan></text>
<rect x="194.6" y="1100.9" width="13.7" height="13.7" fill="#66d95c"/>
<text x="216.4" y="1114.6" font-size="19.5" fill="#000" textLength="183.0" lengthAdjust="spacingAndGlyphs" xml:space="preserve"><tspan font-style="italic">Hydrogenophaga</tspan><tspan font-style="normal"> (1)</tspan></text>
<rect x="408.5" y="1100.9" width="13.7" height="13.7" fill="#2a9a23"/>
<text x="430.7" y="1114.6" font-size="19.5" fill="#000" textLength="151.7" lengthAdjust="spacingAndGlyphs" xml:space="preserve"><tspan font-style="italic">Pseudomonas</tspan><tspan font-style="normal">(1)</tspan></text>
<rect x="601.6" y="1100.9" width="13.7" height="13.7" fill="#d1128d"/>
<text x="625.4" y="1114.6" font-size="19.5" fill="#000" textLength="272.4" lengthAdjust="spacingAndGlyphs" xml:space="preserve"><tspan font-style="italic">Unknown Burkholderiaceae</tspan><tspan font-style="normal"> (1)</tspan></text>
<rect x="918.5" y="1100.9" width="13.7" height="13.7" fill="#5c2d91"/>
<text x="945.2" y="1114.6" font-size="19.5" fill="#000" textLength="136.5" lengthAdjust="spacingAndGlyphs" xml:space="preserve"><tspan font-style="italic">Alicycliphilus</tspan><tspan font-style="normal">(1)</tspan></text>
<rect x="1100.5" y="1100.9" width="13.7" height="13.7" fill="#cfc8f7" stroke="#c0b8e8" stroke-width="0.8"/>
<text x="1122.4" y="1114.6" font-size="19.5" fill="#000" textLength="131.4" lengthAdjust="spacingAndGlyphs" xml:space="preserve"><tspan font-style="italic">Curvibacter</tspan><tspan font-style="normal"> (1)</tspan></text>
<rect x="194.6" y="1134.8" width="13.7" height="13.7" fill="#d4c111"/>
<text x="218.4" y="1148.5" font-size="19.5" fill="#000" textLength="285.6" lengthAdjust="spacingAndGlyphs" xml:space="preserve"><tspan font-style="normal">Unknown </tspan><tspan font-style="italic">Zetaproteobacteria</tspan><tspan font-style="normal"> (1)</tspan></text>
<text x="136.4" y="2195.8" font-size="30" fill="#000" font-weight="normal" font-style="normal" text-anchor="start" textLength="65.6" lengthAdjust="spacingAndGlyphs">ARG</text>
<text x="62.5" y="2271.2" font-size="30" fill="#000" font-weight="normal" font-style="normal" text-anchor="start" textLength="139.5" lengthAdjust="spacingAndGlyphs">Taxonomy</text>
<rect x="218.6" y="2177.5" width="15.6" height="15.6" fill="#2cb5dd"/>
<text x="242.0" y="2193.3" font-size="22.4" fill="#000" textLength="133.8" lengthAdjust="spacingAndGlyphs" xml:space="preserve"><tspan font-style="italic">aac(6')-Ib8</tspan><tspan font-style="normal">(1)</tspan></text>
<rect x="218.6" y="2230.8" width="15.6" height="15.6" fill="#f0676c"/>
<text x="241.0" y="2245.7" font-size="20.1" fill="#000" textLength="183.2" lengthAdjust="spacingAndGlyphs" xml:space="preserve"><tspan font-style="italic">Limnohabitans</tspan><tspan font-style="normal"> (283)</tspan></text>
<rect x="436.0" y="2230.8" width="15.6" height="15.6" fill="#eeeeee" stroke="#ccc" stroke-width="0.8"/>
<text x="458.0" y="2245.7" font-size="20.1" fill="#000" textLength="283.3" lengthAdjust="spacingAndGlyphs" xml:space="preserve"><tspan font-style="normal">Unknown Betaproteobacteria(6)</tspan></text>
<rect x="755.5" y="2230.8" width="15.6" height="15.6" fill="#1a7f8e"/>
<text x="779.3" y="2245.7" font-size="20.1" fill="#000" textLength="288.3" lengthAdjust="spacingAndGlyphs" xml:space="preserve"><tspan font-style="normal">Unknown </tspan><tspan font-style="italic">Comamonadaceae</tspan><tspan font-style="normal"> (5)</tspan></text>
<rect x="1080.0" y="2230.8" width="15.6" height="15.6" fill="#6cc0c8"/>
<text x="1104.0" y="2245.7" font-size="20.1" fill="#000" textLength="194.2" lengthAdjust="spacingAndGlyphs" xml:space="preserve"><tspan font-style="normal">Unknown Bacteria (4)</tspan></text>
<rect x="218.6" y="2255.8" width="15.6" height="15.6" fill="#f5a0c8"/>
<text x="241.0" y="2270.7" font-size="20.1" fill="#000" textLength="163.9" lengthAdjust="spacingAndGlyphs" xml:space="preserve"><tspan font-style="italic">Pigmentiphaga</tspan><tspan font-style="normal"> (1)</tspan></text>
<rect x="436.0" y="2255.8" width="15.6" height="15.6" fill="#a8e61d"/>
<text x="458.0" y="2270.7" font-size="20.1" fill="#000" textLength="252.0" lengthAdjust="spacingAndGlyphs" xml:space="preserve"><tspan font-style="normal">Unknown Proteobacteria (1)</tspan></text>
<rect x="755.5" y="2255.8" width="15.6" height="15.6" fill="#b5e0b0" stroke="#a8c8a4" stroke-width="0.8"/>
<text x="779.3" y="2270.7" font-size="20.1" fill="#000" textLength="275.3" lengthAdjust="spacingAndGlyphs" xml:space="preserve"><tspan font-style="normal">Unknown </tspan><tspan font-style="italic">Burkholderiaceae</tspan><tspan font-style="normal"> (1)</tspan></text>
<rect x="1080.0" y="2255.8" width="15.6" height="15.6" fill="#f5e52a" stroke="#d8c820" stroke-width="0.8"/>
<text x="1104.0" y="2270.7" font-size="20.1" fill="#000" textLength="169.7" lengthAdjust="spacingAndGlyphs" xml:space="preserve"><tspan font-style="italic">Halothiobacillus</tspan><tspan font-style="normal"> (1)</tspan></text>
<rect x="218.6" y="2280.8" width="15.6" height="15.6" fill="#0d3b42"/>
<text x="241.0" y="2295.7" font-size="20.1" fill="#000" textLength="172.8" lengthAdjust="spacingAndGlyphs" xml:space="preserve"><tspan font-style="italic">Aphanizomenon</tspan><tspan font-style="normal"> (1)</tspan></text>
<rect x="436.0" y="2280.8" width="15.6" height="15.6" fill="#a3116e"/>
<text x="458.0" y="2295.7" font-size="20.1" fill="#000" textLength="148.3" lengthAdjust="spacingAndGlyphs" xml:space="preserve"><tspan font-style="italic">Polaromonas</tspan><tspan font-style="normal"> (3)</tspan></text>
<rect x="755.5" y="2280.8" width="15.6" height="15.6" fill="#cfc8f7" stroke="#c0b8e8" stroke-width="0.8"/>
<text x="779.3" y="2295.7" font-size="20.1" fill="#000" textLength="184.2" lengthAdjust="spacingAndGlyphs" xml:space="preserve"><tspan font-style="italic">Hydrogenophaga</tspan><tspan font-style="normal"> (2)</tspan></text>
<rect x="1080.0" y="2280.8" width="15.6" height="15.6" fill="#6a6ad8"/>
<text x="1104.0" y="2295.7" font-size="20.1" fill="#000" textLength="86.0" lengthAdjust="spacingAndGlyphs" xml:space="preserve"><tspan font-style="italic">Delftia</tspan><tspan font-style="normal"> (2)</tspan></text>
</svg>
</body></html>
